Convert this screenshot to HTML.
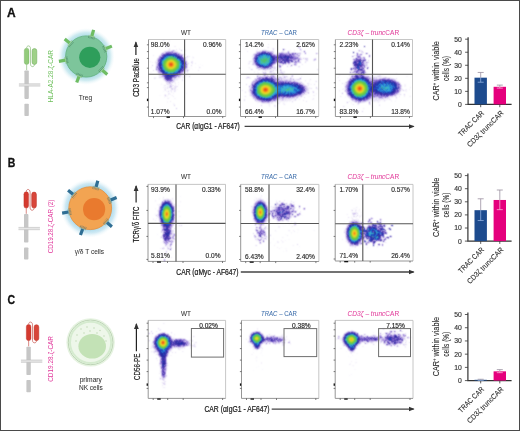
<!DOCTYPE html><html><head><meta charset="utf-8"><style>html,body{margin:0;padding:0;background:#fff;}svg{display:block;will-change:transform;}</style></head><body>
<svg width="520" height="431" viewBox="0 0 520 431" font-family='"Liberation Sans", sans-serif'>
<defs>
<filter id="cmap" x="0" y="0" width="1" height="1" color-interpolation-filters="sRGB"><feConvolveMatrix in="SourceGraphic" order="3" kernelMatrix="0 1 0 1 8 1 0 1 0" divisor="12" edgeMode="duplicate" preserveAlpha="true" result="A"/><feTurbulence type="fractalNoise" baseFrequency="1.25" numOctaves="1" seed="3" result="N0"/><feColorMatrix in="N0" type="matrix" values="1 0 0 0 0 1 0 0 0 0 1 0 0 0 0 0 0 0 0 1" result="N"/><feComponentTransfer in="A" result="G"><feFuncR type="table" tableValues="0.000 0.143 0.270 0.383 0.480 0.562 0.630 0.682 0.720 0.743 0.750 0.600 0.450 0.300 0.150 0.000 0.000 0.000 0.000 0.000 0.000"/><feFuncG type="table" tableValues="0.000 0.143 0.270 0.383 0.480 0.562 0.630 0.682 0.720 0.743 0.750 0.600 0.450 0.300 0.150 0.000 0.000 0.000 0.000 0.000 0.000"/><feFuncB type="table" tableValues="0.000 0.143 0.270 0.383 0.480 0.562 0.630 0.682 0.720 0.743 0.750 0.600 0.450 0.300 0.150 0.000 0.000 0.000 0.000 0.000 0.000"/></feComponentTransfer><feComposite in="G" in2="N" operator="arithmetic" k1="1" k2="-0.5" k3="0" k4="0.5" result="S"/><feComposite in="A" in2="S" operator="arithmetic" k1="0" k2="1" k3="1" k4="-0.504" result="V"/><feComponentTransfer in="V"><feFuncR type="table" tableValues="1.000 0.892 0.773 0.652 0.543 0.438 0.333 0.284 0.235 0.186 0.137 0.132 0.127 0.123 0.118 0.127 0.137 0.147 0.157 0.172 0.186 0.201 0.216 0.237 0.258 0.278 0.297 0.315 0.333 0.373 0.412 0.451 0.490 0.623 0.756 0.873 0.922 0.959 0.952 0.924 0.882"/><feFuncG type="table" tableValues="1.000 0.866 0.715 0.560 0.445 0.340 0.235 0.211 0.186 0.162 0.137 0.176 0.216 0.255 0.294 0.353 0.412 0.471 0.529 0.574 0.618 0.662 0.706 0.720 0.734 0.746 0.752 0.759 0.765 0.775 0.784 0.794 0.804 0.825 0.846 0.855 0.816 0.745 0.549 0.346 0.137"/><feFuncB type="table" tableValues="1.000 0.958 0.915 0.871 0.818 0.762 0.706 0.681 0.657 0.632 0.608 0.647 0.686 0.725 0.765 0.789 0.814 0.838 0.863 0.858 0.853 0.848 0.843 0.766 0.689 0.609 0.517 0.425 0.333 0.309 0.284 0.260 0.235 0.207 0.179 0.153 0.133 0.118 0.118 0.110 0.098"/><feFuncA type="linear" slope="0" intercept="1"/></feComponentTransfer><feConvolveMatrix order="3" kernelMatrix="1 2 1 2 6 2 1 2 1" divisor="18" edgeMode="duplicate" preserveAlpha="true"/></filter>
<radialGradient id="cone"><stop offset="0.000" stop-color="#fff" stop-opacity="1.000"/><stop offset="0.021" stop-color="#fff" stop-opacity="0.992"/><stop offset="0.042" stop-color="#fff" stop-opacity="0.984"/><stop offset="0.062" stop-color="#fff" stop-opacity="0.977"/><stop offset="0.083" stop-color="#fff" stop-opacity="0.969"/><stop offset="0.104" stop-color="#fff" stop-opacity="0.961"/><stop offset="0.125" stop-color="#fff" stop-opacity="0.950"/><stop offset="0.146" stop-color="#fff" stop-opacity="0.938"/><stop offset="0.167" stop-color="#fff" stop-opacity="0.927"/><stop offset="0.188" stop-color="#fff" stop-opacity="0.915"/><stop offset="0.208" stop-color="#fff" stop-opacity="0.903"/><stop offset="0.229" stop-color="#fff" stop-opacity="0.889"/><stop offset="0.250" stop-color="#fff" stop-opacity="0.873"/><stop offset="0.271" stop-color="#fff" stop-opacity="0.858"/><stop offset="0.292" stop-color="#fff" stop-opacity="0.842"/><stop offset="0.312" stop-color="#fff" stop-opacity="0.827"/><stop offset="0.333" stop-color="#fff" stop-opacity="0.810"/><stop offset="0.354" stop-color="#fff" stop-opacity="0.792"/><stop offset="0.375" stop-color="#fff" stop-opacity="0.775"/><stop offset="0.396" stop-color="#fff" stop-opacity="0.758"/><stop offset="0.417" stop-color="#fff" stop-opacity="0.740"/><stop offset="0.438" stop-color="#fff" stop-opacity="0.719"/><stop offset="0.458" stop-color="#fff" stop-opacity="0.693"/><stop offset="0.479" stop-color="#fff" stop-opacity="0.666"/><stop offset="0.500" stop-color="#fff" stop-opacity="0.640"/><stop offset="0.521" stop-color="#fff" stop-opacity="0.582"/><stop offset="0.542" stop-color="#fff" stop-opacity="0.523"/><stop offset="0.562" stop-color="#fff" stop-opacity="0.459"/><stop offset="0.583" stop-color="#fff" stop-opacity="0.391"/><stop offset="0.604" stop-color="#fff" stop-opacity="0.342"/><stop offset="0.625" stop-color="#fff" stop-opacity="0.310"/><stop offset="0.646" stop-color="#fff" stop-opacity="0.278"/><stop offset="0.667" stop-color="#fff" stop-opacity="0.247"/><stop offset="0.688" stop-color="#fff" stop-opacity="0.218"/><stop offset="0.708" stop-color="#fff" stop-opacity="0.188"/><stop offset="0.729" stop-color="#fff" stop-opacity="0.161"/><stop offset="0.750" stop-color="#fff" stop-opacity="0.135"/><stop offset="0.771" stop-color="#fff" stop-opacity="0.109"/><stop offset="0.792" stop-color="#fff" stop-opacity="0.087"/><stop offset="0.812" stop-color="#fff" stop-opacity="0.075"/><stop offset="0.833" stop-color="#fff" stop-opacity="0.063"/><stop offset="0.854" stop-color="#fff" stop-opacity="0.052"/><stop offset="0.875" stop-color="#fff" stop-opacity="0.040"/><stop offset="0.896" stop-color="#fff" stop-opacity="0.029"/><stop offset="0.917" stop-color="#fff" stop-opacity="0.023"/><stop offset="0.938" stop-color="#fff" stop-opacity="0.017"/><stop offset="0.958" stop-color="#fff" stop-opacity="0.012"/><stop offset="0.979" stop-color="#fff" stop-opacity="0.006"/><stop offset="1.000" stop-color="#fff" stop-opacity="0.000"/></radialGradient>
<radialGradient id="soft"><stop offset="0.000" stop-color="#fff" stop-opacity="1.000"/><stop offset="0.036" stop-color="#fff" stop-opacity="0.994"/><stop offset="0.071" stop-color="#fff" stop-opacity="0.980"/><stop offset="0.107" stop-color="#fff" stop-opacity="0.960"/><stop offset="0.143" stop-color="#fff" stop-opacity="0.935"/><stop offset="0.179" stop-color="#fff" stop-opacity="0.905"/><stop offset="0.214" stop-color="#fff" stop-opacity="0.871"/><stop offset="0.250" stop-color="#fff" stop-opacity="0.832"/><stop offset="0.286" stop-color="#fff" stop-opacity="0.789"/><stop offset="0.321" stop-color="#fff" stop-opacity="0.743"/><stop offset="0.357" stop-color="#fff" stop-opacity="0.692"/><stop offset="0.393" stop-color="#fff" stop-opacity="0.638"/><stop offset="0.429" stop-color="#fff" stop-opacity="0.580"/><stop offset="0.464" stop-color="#fff" stop-opacity="0.519"/><stop offset="0.500" stop-color="#fff" stop-opacity="0.455"/><stop offset="0.536" stop-color="#fff" stop-opacity="0.387"/><stop offset="0.571" stop-color="#fff" stop-opacity="0.316"/><stop offset="0.607" stop-color="#fff" stop-opacity="0.241"/><stop offset="0.643" stop-color="#fff" stop-opacity="0.192"/><stop offset="0.679" stop-color="#fff" stop-opacity="0.146"/><stop offset="0.714" stop-color="#fff" stop-opacity="0.104"/><stop offset="0.750" stop-color="#fff" stop-opacity="0.068"/><stop offset="0.786" stop-color="#fff" stop-opacity="0.037"/><stop offset="0.821" stop-color="#fff" stop-opacity="0.013"/><stop offset="0.857" stop-color="#fff" stop-opacity="0.000"/><stop offset="0.893" stop-color="#fff" stop-opacity="0.000"/><stop offset="0.929" stop-color="#fff" stop-opacity="0.000"/><stop offset="0.964" stop-color="#fff" stop-opacity="0.000"/><stop offset="1.000" stop-color="#fff" stop-opacity="0.000"/></radialGradient>
<radialGradient id="gau"><stop offset="0.00" stop-color="#fff" stop-opacity="1.000"/><stop offset="0.10" stop-color="#fff" stop-opacity="0.956"/><stop offset="0.20" stop-color="#fff" stop-opacity="0.835"/><stop offset="0.30" stop-color="#fff" stop-opacity="0.667"/><stop offset="0.40" stop-color="#fff" stop-opacity="0.487"/><stop offset="0.50" stop-color="#fff" stop-opacity="0.325"/><stop offset="0.60" stop-color="#fff" stop-opacity="0.198"/><stop offset="0.70" stop-color="#fff" stop-opacity="0.110"/><stop offset="0.80" stop-color="#fff" stop-opacity="0.056"/><stop offset="0.90" stop-color="#fff" stop-opacity="0.026"/><stop offset="1.00" stop-color="#fff" stop-opacity="0.000"/></radialGradient>
<radialGradient id="glowB"><stop offset="0.7" stop-color="#a8d9ec" stop-opacity="1"/><stop offset="0.84" stop-color="#c8e6f2" stop-opacity="0.9"/><stop offset="1" stop-color="#eef8fb" stop-opacity="0"/></radialGradient>
<radialGradient id="glowA"><stop offset="0.7" stop-color="#a9dbe4" stop-opacity="1"/><stop offset="0.84" stop-color="#c8e8ef" stop-opacity="0.9"/><stop offset="1" stop-color="#eef8fb" stop-opacity="0"/></radialGradient>
<marker id="arr" viewBox="0 0 6 6" refX="5" refY="3" markerWidth="6" markerHeight="6" orient="auto" markerUnits="userSpaceOnUse"><path d="M0,0.6 L6,3 L0,5.4 z" fill="#333"/></marker>
</defs>
<rect x="0" y="0" width="520" height="431" fill="#fff"/>
<g filter="url(#cmap)"><rect x="148.5" y="39.5" width="77.19999999999999" height="77.0" fill="#000"/>
<svg x="148.5" y="39.5" width="77.19999999999999" height="77.0" viewBox="148.5 39.5 77.19999999999999 77.0" overflow="hidden">
<path d="M191.2 65.1h.8v.8h-.8zM202.3 65.6h.8v.8h-.8zM191.9 56.7h.8v.8h-.8zM184.8 63.4h.8v.8h-.8zM186.5 67.4h.8v.8h-.8zM192.6 63.5h.8v.8h-.8zM197.7 65.5h.8v.8h-.8zM189.0 56.3h.8v.8h-.8zM193.0 57.4h.8v.8h-.8zM188.4 61.8h.8v.8h-.8zM182.6 69.4h.8v.8h-.8zM185.5 53.9h.8v.8h-.8zM188.1 63.2h.8v.8h-.8zM185.6 71.1h.8v.8h-.8zM195.0 63.2h.8v.8h-.8zM184.2 54.2h.8v.8h-.8zM175.4 56.1h.8v.8h-.8zM184.9 61.6h.8v.8h-.8zM192.0 61.6h.8v.8h-.8zM194.6 67.5h.8v.8h-.8zM169.6 63.9h.8v.8h-.8zM184.1 59.6h.8v.8h-.8zM199.4 58.4h.8v.8h-.8zM180.4 66.4h.8v.8h-.8zM189.3 66.8h.8v.8h-.8zM179.0 70.1h.8v.8h-.8zM190.9 62.1h.8v.8h-.8zM184.9 66.6h.8v.8h-.8zM192.4 59.0h.8v.8h-.8zM191.1 67.7h.8v.8h-.8zM185.3 61.8h.8v.8h-.8zM182.2 57.0h.8v.8h-.8zM186.9 71.3h.8v.8h-.8zM185.3 49.6h.8v.8h-.8zM183.6 60.2h.8v.8h-.8zM186.2 65.9h.8v.8h-.8zM192.5 69.3h.8v.8h-.8zM175.1 72.5h.8v.8h-.8zM187.3 57.7h.8v.8h-.8zM198.2 70.0h.8v.8h-.8zM189.6 67.8h.8v.8h-.8zM199.7 63.8h.8v.8h-.8zM185.5 57.5h.8v.8h-.8zM184.8 63.6h.8v.8h-.8zM192.5 63.1h.8v.8h-.8zM185.6 56.7h.8v.8h-.8zM193.1 56.9h.8v.8h-.8zM184.3 56.5h.8v.8h-.8zM183.8 64.6h.8v.8h-.8zM191.5 60.7h.8v.8h-.8z" fill="#fff" fill-opacity="0.05"/>
<path d="M173.2 81.0h.8v.8h-.8zM167.2 76.0h.8v.8h-.8zM175.8 86.4h.8v.8h-.8zM176.2 64.4h.8v.8h-.8zM170.1 84.5h.8v.8h-.8zM173.7 88.1h.8v.8h-.8zM163.7 78.9h.8v.8h-.8zM165.4 95.6h.8v.8h-.8zM175.3 90.6h.8v.8h-.8zM163.7 96.9h.8v.8h-.8zM167.1 95.7h.8v.8h-.8zM174.0 85.6h.8v.8h-.8zM171.0 84.5h.8v.8h-.8zM170.5 81.3h.8v.8h-.8zM169.9 66.9h.8v.8h-.8zM167.6 89.5h.8v.8h-.8zM169.5 96.7h.8v.8h-.8zM173.0 80.9h.8v.8h-.8zM172.9 84.9h.8v.8h-.8zM169.0 75.3h.8v.8h-.8zM172.2 66.8h.8v.8h-.8zM173.1 90.9h.8v.8h-.8zM172.1 71.6h.8v.8h-.8zM167.2 79.6h.8v.8h-.8zM163.2 87.4h.8v.8h-.8zM166.0 83.4h.8v.8h-.8zM170.0 86.9h.8v.8h-.8zM165.0 85.2h.8v.8h-.8zM178.2 81.9h.8v.8h-.8zM169.8 87.3h.8v.8h-.8zM159.5 95.4h.8v.8h-.8zM171.0 87.8h.8v.8h-.8zM165.6 75.8h.8v.8h-.8zM170.6 77.4h.8v.8h-.8zM166.5 80.8h.8v.8h-.8zM170.9 89.7h.8v.8h-.8zM170.3 90.5h.8v.8h-.8zM168.1 91.1h.8v.8h-.8zM167.1 83.7h.8v.8h-.8zM163.0 63.8h.8v.8h-.8zM178.3 84.5h.8v.8h-.8zM174.8 69.1h.8v.8h-.8zM172.1 79.9h.8v.8h-.8zM174.0 104.0h.8v.8h-.8zM173.5 80.7h.8v.8h-.8zM167.1 86.0h.8v.8h-.8zM174.2 90.6h.8v.8h-.8zM170.8 91.5h.8v.8h-.8zM186.3 93.3h.8v.8h-.8zM165.3 77.2h.8v.8h-.8zM172.9 70.4h.8v.8h-.8zM168.9 79.4h.8v.8h-.8zM170.9 85.0h.8v.8h-.8zM168.6 83.1h.8v.8h-.8zM171.7 72.7h.8v.8h-.8zM168.9 81.3h.8v.8h-.8zM167.5 87.8h.8v.8h-.8zM167.9 76.8h.8v.8h-.8zM168.0 93.6h.8v.8h-.8zM169.3 84.8h.8v.8h-.8zM167.5 77.7h.8v.8h-.8zM170.1 84.8h.8v.8h-.8zM163.4 90.8h.8v.8h-.8zM166.6 80.4h.8v.8h-.8zM170.9 85.9h.8v.8h-.8zM164.4 70.4h.8v.8h-.8zM161.8 75.9h.8v.8h-.8zM172.0 89.2h.8v.8h-.8zM171.7 82.3h.8v.8h-.8zM170.2 69.8h.8v.8h-.8zM167.6 98.5h.8v.8h-.8zM174.5 82.6h.8v.8h-.8zM165.6 76.9h.8v.8h-.8zM174.6 77.7h.8v.8h-.8zM165.0 71.8h.8v.8h-.8zM168.0 80.5h.8v.8h-.8zM171.1 89.1h.8v.8h-.8zM172.2 82.2h.8v.8h-.8zM172.2 88.2h.8v.8h-.8zM175.0 86.6h.8v.8h-.8zM168.3 77.8h.8v.8h-.8zM165.9 78.1h.8v.8h-.8zM168.0 78.5h.8v.8h-.8zM164.8 89.3h.8v.8h-.8zM167.5 83.9h.8v.8h-.8zM166.6 77.7h.8v.8h-.8zM164.8 87.6h.8v.8h-.8zM173.8 71.5h.8v.8h-.8zM171.6 86.6h.8v.8h-.8zM165.2 94.8h.8v.8h-.8zM172.0 85.1h.8v.8h-.8zM170.8 74.6h.8v.8h-.8zM170.1 67.0h.8v.8h-.8zM171.5 84.5h.8v.8h-.8zM173.9 105.2h.8v.8h-.8zM168.3 98.2h.8v.8h-.8zM167.5 72.2h.8v.8h-.8zM173.4 87.0h.8v.8h-.8zM174.6 98.3h.8v.8h-.8zM173.7 79.0h.8v.8h-.8zM161.0 83.7h.8v.8h-.8zM165.4 78.0h.8v.8h-.8zM169.5 86.0h.8v.8h-.8zM165.3 90.5h.8v.8h-.8zM166.4 68.6h.8v.8h-.8zM170.8 77.9h.8v.8h-.8zM167.5 78.3h.8v.8h-.8zM165.0 80.4h.8v.8h-.8zM169.9 93.9h.8v.8h-.8zM169.7 76.3h.8v.8h-.8zM175.2 83.4h.8v.8h-.8zM169.2 86.9h.8v.8h-.8zM172.9 95.8h.8v.8h-.8zM168.6 93.2h.8v.8h-.8zM162.6 66.3h.8v.8h-.8zM169.3 70.8h.8v.8h-.8zM173.3 92.9h.8v.8h-.8zM166.7 87.8h.8v.8h-.8zM171.9 88.2h.8v.8h-.8zM170.3 84.1h.8v.8h-.8zM168.4 93.2h.8v.8h-.8zM167.1 87.5h.8v.8h-.8zM171.6 94.7h.8v.8h-.8zM170.4 85.1h.8v.8h-.8zM168.8 75.6h.8v.8h-.8zM164.8 71.6h.8v.8h-.8zM167.4 87.6h.8v.8h-.8zM177.0 89.1h.8v.8h-.8zM165.6 78.1h.8v.8h-.8zM170.1 101.3h.8v.8h-.8zM170.8 84.7h.8v.8h-.8zM170.1 86.8h.8v.8h-.8zM175.0 84.8h.8v.8h-.8zM171.7 88.2h.8v.8h-.8zM171.0 79.4h.8v.8h-.8zM175.2 88.4h.8v.8h-.8zM169.9 83.1h.8v.8h-.8zM169.9 75.1h.8v.8h-.8zM176.1 108.1h.8v.8h-.8zM170.1 86.2h.8v.8h-.8zM177.1 72.5h.8v.8h-.8zM169.2 77.9h.8v.8h-.8zM166.5 67.6h.8v.8h-.8zM167.4 101.6h.8v.8h-.8zM174.1 88.9h.8v.8h-.8zM169.8 89.9h.8v.8h-.8zM176.2 79.5h.8v.8h-.8zM171.4 91.4h.8v.8h-.8zM164.3 94.7h.8v.8h-.8zM165.2 85.7h.8v.8h-.8zM172.7 77.3h.8v.8h-.8zM166.9 81.1h.8v.8h-.8zM165.9 90.7h.8v.8h-.8zM170.6 85.5h.8v.8h-.8zM168.3 80.7h.8v.8h-.8zM169.7 82.1h.8v.8h-.8zM168.0 73.4h.8v.8h-.8zM169.9 81.1h.8v.8h-.8zM173.1 102.9h.8v.8h-.8zM174.9 74.8h.8v.8h-.8z" fill="#fff" fill-opacity="0.06"/>
<path d="M168.2 69.6h.8v.8h-.8zM180.5 69.9h.8v.8h-.8zM153.4 55.2h.8v.8h-.8zM179.8 67.2h.8v.8h-.8zM171.2 76.4h.8v.8h-.8zM172.6 60.9h.8v.8h-.8zM162.4 56.3h.8v.8h-.8zM162.5 60.8h.8v.8h-.8zM187.5 70.1h.8v.8h-.8zM160.7 70.5h.8v.8h-.8zM157.8 60.0h.8v.8h-.8zM159.3 58.7h.8v.8h-.8zM182.1 73.2h.8v.8h-.8zM162.8 57.8h.8v.8h-.8zM172.2 55.1h.8v.8h-.8zM166.1 70.2h.8v.8h-.8zM168.4 58.6h.8v.8h-.8zM152.4 62.1h.8v.8h-.8zM164.5 89.5h.8v.8h-.8zM165.1 64.6h.8v.8h-.8zM176.5 73.5h.8v.8h-.8zM174.0 64.1h.8v.8h-.8zM166.0 72.1h.8v.8h-.8zM161.8 60.2h.8v.8h-.8zM180.1 61.5h.8v.8h-.8zM183.5 70.2h.8v.8h-.8zM168.6 73.7h.8v.8h-.8zM180.4 66.4h.8v.8h-.8zM162.4 58.3h.8v.8h-.8zM171.0 60.3h.8v.8h-.8zM154.4 77.0h.8v.8h-.8zM179.1 69.8h.8v.8h-.8zM182.9 53.9h.8v.8h-.8zM163.4 39.6h.8v.8h-.8zM175.5 63.6h.8v.8h-.8zM178.2 75.7h.8v.8h-.8zM158.5 66.1h.8v.8h-.8zM169.5 69.9h.8v.8h-.8zM164.4 60.0h.8v.8h-.8zM166.5 54.9h.8v.8h-.8zM153.0 69.9h.8v.8h-.8zM163.3 70.4h.8v.8h-.8zM168.4 62.6h.8v.8h-.8zM180.2 64.1h.8v.8h-.8zM168.9 67.5h.8v.8h-.8zM160.3 60.5h.8v.8h-.8zM167.9 62.7h.8v.8h-.8zM166.7 61.6h.8v.8h-.8zM182.2 61.6h.8v.8h-.8zM183.0 77.2h.8v.8h-.8zM162.8 66.0h.8v.8h-.8zM177.1 69.9h.8v.8h-.8zM156.8 66.8h.8v.8h-.8zM176.7 86.3h.8v.8h-.8zM177.3 74.0h.8v.8h-.8zM170.9 57.4h.8v.8h-.8zM168.2 58.4h.8v.8h-.8zM177.6 60.4h.8v.8h-.8zM155.2 61.8h.8v.8h-.8zM162.4 55.6h.8v.8h-.8zM176.2 49.4h.8v.8h-.8zM173.7 75.0h.8v.8h-.8zM186.4 64.0h.8v.8h-.8zM169.7 78.8h.8v.8h-.8zM150.5 71.9h.8v.8h-.8zM178.7 62.6h.8v.8h-.8zM178.6 71.1h.8v.8h-.8zM174.1 77.1h.8v.8h-.8zM157.5 66.7h.8v.8h-.8zM172.8 61.1h.8v.8h-.8zM173.5 50.3h.8v.8h-.8zM177.9 58.8h.8v.8h-.8zM189.1 76.3h.8v.8h-.8zM156.1 68.4h.8v.8h-.8zM169.6 59.6h.8v.8h-.8zM182.4 67.1h.8v.8h-.8zM172.3 60.3h.8v.8h-.8zM165.9 58.0h.8v.8h-.8zM186.5 67.2h.8v.8h-.8zM149.8 61.5h.8v.8h-.8zM176.4 64.5h.8v.8h-.8zM176.6 66.1h.8v.8h-.8zM171.2 57.0h.8v.8h-.8zM172.1 62.2h.8v.8h-.8zM181.1 57.0h.8v.8h-.8zM179.1 48.7h.8v.8h-.8zM159.8 62.8h.8v.8h-.8zM181.4 53.8h.8v.8h-.8zM171.3 59.9h.8v.8h-.8zM156.2 67.4h.8v.8h-.8zM165.5 74.7h.8v.8h-.8zM171.4 60.8h.8v.8h-.8zM170.6 72.2h.8v.8h-.8zM159.0 64.4h.8v.8h-.8zM158.9 69.3h.8v.8h-.8zM167.0 55.8h.8v.8h-.8zM163.7 64.7h.8v.8h-.8zM187.3 56.1h.8v.8h-.8zM173.1 60.9h.8v.8h-.8zM164.4 69.9h.8v.8h-.8zM164.9 67.7h.8v.8h-.8zM174.6 46.2h.8v.8h-.8zM182.5 60.2h.8v.8h-.8zM182.1 79.6h.8v.8h-.8zM174.7 86.8h.8v.8h-.8zM174.5 61.5h.8v.8h-.8zM175.6 73.1h.8v.8h-.8zM167.3 70.0h.8v.8h-.8zM177.7 69.7h.8v.8h-.8zM161.4 61.8h.8v.8h-.8zM162.4 72.2h.8v.8h-.8zM167.2 64.7h.8v.8h-.8zM174.7 64.3h.8v.8h-.8zM167.8 84.4h.8v.8h-.8zM169.9 69.7h.8v.8h-.8zM178.4 54.0h.8v.8h-.8zM161.2 71.2h.8v.8h-.8zM169.3 61.3h.8v.8h-.8zM172.3 59.5h.8v.8h-.8zM170.3 66.6h.8v.8h-.8zM171.7 61.4h.8v.8h-.8zM186.9 72.3h.8v.8h-.8zM199.4 67.1h.8v.8h-.8zM176.9 61.8h.8v.8h-.8zM184.1 68.8h.8v.8h-.8zM177.4 63.7h.8v.8h-.8zM172.8 72.4h.8v.8h-.8zM164.5 63.8h.8v.8h-.8zM164.9 65.0h.8v.8h-.8zM172.2 65.4h.8v.8h-.8zM163.8 64.4h.8v.8h-.8zM183.6 75.3h.8v.8h-.8zM164.2 55.6h.8v.8h-.8zM178.1 63.6h.8v.8h-.8zM178.7 64.1h.8v.8h-.8zM163.6 69.7h.8v.8h-.8zM171.3 63.7h.8v.8h-.8zM167.7 66.3h.8v.8h-.8zM179.7 55.3h.8v.8h-.8zM159.3 57.0h.8v.8h-.8zM165.4 66.3h.8v.8h-.8zM179.1 65.2h.8v.8h-.8zM181.7 63.1h.8v.8h-.8zM188.7 69.0h.8v.8h-.8zM170.2 65.3h.8v.8h-.8zM176.8 68.7h.8v.8h-.8zM170.7 80.6h.8v.8h-.8zM170.2 68.9h.8v.8h-.8zM162.8 60.3h.8v.8h-.8zM168.3 71.2h.8v.8h-.8zM162.7 53.1h.8v.8h-.8zM171.8 50.7h.8v.8h-.8zM179.0 76.7h.8v.8h-.8zM187.0 69.6h.8v.8h-.8zM168.8 48.6h.8v.8h-.8zM183.2 56.9h.8v.8h-.8zM176.0 54.4h.8v.8h-.8zM172.8 66.3h.8v.8h-.8zM179.0 62.8h.8v.8h-.8zM158.7 60.5h.8v.8h-.8zM169.8 65.0h.8v.8h-.8zM170.4 54.4h.8v.8h-.8zM168.7 62.2h.8v.8h-.8zM170.5 68.5h.8v.8h-.8zM171.9 80.1h.8v.8h-.8zM168.9 40.5h.8v.8h-.8zM172.5 62.0h.8v.8h-.8zM171.8 52.6h.8v.8h-.8zM175.0 67.4h.8v.8h-.8zM162.5 53.7h.8v.8h-.8zM173.7 65.2h.8v.8h-.8zM174.6 64.3h.8v.8h-.8zM167.1 58.3h.8v.8h-.8zM160.7 67.2h.8v.8h-.8zM181.8 64.5h.8v.8h-.8zM191.4 62.1h.8v.8h-.8zM169.6 68.5h.8v.8h-.8zM179.4 64.7h.8v.8h-.8zM174.0 66.8h.8v.8h-.8zM175.1 63.6h.8v.8h-.8zM181.1 55.8h.8v.8h-.8zM152.1 65.2h.8v.8h-.8zM171.3 65.1h.8v.8h-.8zM166.7 56.7h.8v.8h-.8zM162.9 69.4h.8v.8h-.8zM170.8 64.6h.8v.8h-.8zM172.9 61.1h.8v.8h-.8zM166.0 46.1h.8v.8h-.8zM170.4 68.3h.8v.8h-.8zM182.5 64.9h.8v.8h-.8zM184.0 58.2h.8v.8h-.8zM169.9 67.9h.8v.8h-.8zM167.1 61.2h.8v.8h-.8zM163.3 68.1h.8v.8h-.8zM172.6 55.7h.8v.8h-.8zM175.3 53.2h.8v.8h-.8zM170.0 62.2h.8v.8h-.8zM156.2 69.6h.8v.8h-.8zM150.7 66.8h.8v.8h-.8zM174.9 73.2h.8v.8h-.8zM166.1 79.1h.8v.8h-.8zM165.0 68.7h.8v.8h-.8zM162.1 61.8h.8v.8h-.8zM168.3 62.2h.8v.8h-.8zM161.1 61.9h.8v.8h-.8zM180.3 64.8h.8v.8h-.8zM164.1 63.0h.8v.8h-.8zM168.4 68.3h.8v.8h-.8zM159.4 77.1h.8v.8h-.8zM181.9 55.3h.8v.8h-.8zM159.5 75.0h.8v.8h-.8zM164.7 70.7h.8v.8h-.8zM158.7 65.1h.8v.8h-.8zM178.0 72.6h.8v.8h-.8zM186.5 75.5h.8v.8h-.8zM162.6 70.8h.8v.8h-.8zM181.1 50.1h.8v.8h-.8zM177.1 71.8h.8v.8h-.8zM180.7 62.9h.8v.8h-.8zM154.5 78.0h.8v.8h-.8zM177.2 63.8h.8v.8h-.8zM171.3 70.1h.8v.8h-.8zM183.9 59.8h.8v.8h-.8zM183.9 72.9h.8v.8h-.8zM171.8 58.6h.8v.8h-.8zM165.8 58.9h.8v.8h-.8zM162.8 57.1h.8v.8h-.8zM169.1 60.8h.8v.8h-.8zM163.8 85.5h.8v.8h-.8zM165.6 69.1h.8v.8h-.8zM178.1 65.5h.8v.8h-.8zM169.1 72.7h.8v.8h-.8zM164.0 66.0h.8v.8h-.8zM179.6 66.7h.8v.8h-.8zM176.1 67.0h.8v.8h-.8zM176.1 68.2h.8v.8h-.8zM176.3 62.1h.8v.8h-.8zM165.7 51.5h.8v.8h-.8zM168.0 59.5h.8v.8h-.8zM169.8 54.4h.8v.8h-.8zM164.5 65.2h.8v.8h-.8zM171.3 71.3h.8v.8h-.8zM180.2 73.0h.8v.8h-.8zM178.8 58.7h.8v.8h-.8zM175.3 63.4h.8v.8h-.8zM172.4 65.7h.8v.8h-.8zM158.3 72.2h.8v.8h-.8zM155.4 77.0h.8v.8h-.8z" fill="#fff" fill-opacity="0.08"/>
<ellipse cx="171" cy="67" rx="21.00" ry="20.30" transform="rotate(0 171 67)" fill="url(#soft)" opacity="0.1"/>
<ellipse cx="168.5" cy="77" rx="7.00" ry="8.40" transform="rotate(0 168.5 77)" fill="url(#soft)" opacity="0.14"/>
<ellipse cx="181" cy="64" rx="9.80" ry="11.20" transform="rotate(0 181 64)" fill="url(#soft)" opacity="0.14"/>
<ellipse cx="171" cy="64.5" rx="15.82" ry="15.12" transform="rotate(0 171 64.5)" fill="url(#cone)" opacity="1.0"/>
</svg></g>
<g filter="url(#cmap)"><rect x="240.5" y="39.5" width="78.19999999999999" height="77.0" fill="#000"/>
<svg x="240.5" y="39.5" width="78.19999999999999" height="77.0" viewBox="240.5 39.5 78.19999999999999 77.0" overflow="hidden">
<path d="M282.8 52.9h.8v.8h-.8zM293.9 50.9h.8v.8h-.8zM287.0 62.2h.8v.8h-.8zM279.7 61.7h.8v.8h-.8zM284.3 60.4h.8v.8h-.8zM290.5 48.7h.8v.8h-.8zM293.8 50.3h.8v.8h-.8zM297.9 55.2h.8v.8h-.8zM282.1 55.9h.8v.8h-.8zM291.5 56.1h.8v.8h-.8zM287.7 55.7h.8v.8h-.8zM280.5 55.7h.8v.8h-.8zM273.3 61.5h.8v.8h-.8zM304.4 51.7h.8v.8h-.8zM285.8 58.2h.8v.8h-.8zM281.6 51.8h.8v.8h-.8zM290.8 61.1h.8v.8h-.8zM292.0 53.7h.8v.8h-.8zM297.8 59.9h.8v.8h-.8zM269.7 68.2h.8v.8h-.8zM286.5 57.5h.8v.8h-.8zM282.2 63.7h.8v.8h-.8zM294.9 56.0h.8v.8h-.8zM278.7 56.1h.8v.8h-.8zM293.6 61.8h.8v.8h-.8zM292.5 53.1h.8v.8h-.8zM290.4 60.8h.8v.8h-.8zM300.9 50.5h.8v.8h-.8zM304.9 59.1h.8v.8h-.8zM280.3 63.0h.8v.8h-.8zM287.2 59.1h.8v.8h-.8zM290.2 56.5h.8v.8h-.8zM283.7 61.7h.8v.8h-.8zM281.3 63.3h.8v.8h-.8zM292.0 64.0h.8v.8h-.8zM286.4 56.9h.8v.8h-.8zM301.9 53.2h.8v.8h-.8zM300.4 57.0h.8v.8h-.8zM280.4 57.2h.8v.8h-.8zM291.1 61.2h.8v.8h-.8zM297.4 58.4h.8v.8h-.8zM292.9 60.2h.8v.8h-.8zM284.2 63.0h.8v.8h-.8zM284.9 56.7h.8v.8h-.8zM290.6 55.4h.8v.8h-.8zM281.0 54.9h.8v.8h-.8zM289.2 59.2h.8v.8h-.8zM309.7 56.4h.8v.8h-.8zM284.5 61.5h.8v.8h-.8zM288.7 63.2h.8v.8h-.8zM285.2 49.3h.8v.8h-.8zM294.1 61.5h.8v.8h-.8zM271.0 50.7h.8v.8h-.8zM287.8 55.9h.8v.8h-.8zM284.7 58.7h.8v.8h-.8zM291.9 51.8h.8v.8h-.8zM296.2 61.0h.8v.8h-.8zM288.4 58.5h.8v.8h-.8zM298.3 52.9h.8v.8h-.8zM272.7 63.0h.8v.8h-.8zM296.4 54.7h.8v.8h-.8zM289.4 57.9h.8v.8h-.8zM297.8 53.0h.8v.8h-.8zM301.8 51.2h.8v.8h-.8zM292.2 59.2h.8v.8h-.8zM287.1 58.8h.8v.8h-.8zM295.2 65.1h.8v.8h-.8zM262.5 53.4h.8v.8h-.8zM296.6 63.3h.8v.8h-.8zM298.1 78.9h.8v.8h-.8zM282.7 72.5h.8v.8h-.8zM256.9 79.7h.8v.8h-.8zM282.1 78.3h.8v.8h-.8zM272.0 71.8h.8v.8h-.8zM260.2 74.4h.8v.8h-.8zM287.3 76.4h.8v.8h-.8zM264.5 69.2h.8v.8h-.8zM274.7 73.6h.8v.8h-.8zM284.2 77.1h.8v.8h-.8zM267.4 78.8h.8v.8h-.8zM284.8 83.5h.8v.8h-.8zM262.9 75.7h.8v.8h-.8zM270.8 72.9h.8v.8h-.8zM261.6 71.6h.8v.8h-.8zM269.7 81.7h.8v.8h-.8zM291.2 80.3h.8v.8h-.8zM271.5 70.2h.8v.8h-.8zM273.3 76.1h.8v.8h-.8zM267.3 70.9h.8v.8h-.8zM256.5 76.5h.8v.8h-.8zM280.3 72.1h.8v.8h-.8zM264.2 76.9h.8v.8h-.8zM263.4 69.0h.8v.8h-.8zM263.5 78.5h.8v.8h-.8zM261.3 76.5h.8v.8h-.8zM260.3 74.0h.8v.8h-.8zM279.6 71.0h.8v.8h-.8zM274.5 66.1h.8v.8h-.8zM268.7 70.8h.8v.8h-.8zM277.9 77.4h.8v.8h-.8zM293.4 74.9h.8v.8h-.8zM275.8 75.4h.8v.8h-.8zM272.5 70.9h.8v.8h-.8zM274.1 69.1h.8v.8h-.8zM275.3 73.4h.8v.8h-.8zM281.8 72.0h.8v.8h-.8zM277.1 71.9h.8v.8h-.8zM282.6 73.5h.8v.8h-.8zM267.5 75.4h.8v.8h-.8zM265.3 75.4h.8v.8h-.8zM277.7 65.8h.8v.8h-.8zM272.3 83.3h.8v.8h-.8zM251.0 69.1h.8v.8h-.8zM287.4 73.9h.8v.8h-.8zM273.2 74.3h.8v.8h-.8zM265.6 75.7h.8v.8h-.8zM270.9 71.6h.8v.8h-.8zM263.1 72.4h.8v.8h-.8zM262.1 71.3h.8v.8h-.8zM281.7 73.3h.8v.8h-.8zM266.9 76.1h.8v.8h-.8z" fill="#fff" fill-opacity="0.04"/>
<path d="M262.6 51.1h.8v.8h-.8zM270.0 53.9h.8v.8h-.8zM259.4 55.4h.8v.8h-.8zM270.3 56.4h.8v.8h-.8zM258.3 64.9h.8v.8h-.8zM274.1 61.9h.8v.8h-.8zM261.1 44.4h.8v.8h-.8zM261.6 59.6h.8v.8h-.8zM253.5 57.4h.8v.8h-.8zM256.0 50.6h.8v.8h-.8zM249.6 68.4h.8v.8h-.8zM269.8 59.7h.8v.8h-.8zM263.6 51.1h.8v.8h-.8zM264.9 66.4h.8v.8h-.8zM272.8 60.6h.8v.8h-.8zM257.2 53.0h.8v.8h-.8zM269.9 63.5h.8v.8h-.8zM273.5 57.1h.8v.8h-.8zM284.1 59.4h.8v.8h-.8zM265.9 63.3h.8v.8h-.8zM268.9 51.4h.8v.8h-.8zM257.5 51.9h.8v.8h-.8zM258.5 67.4h.8v.8h-.8zM258.9 61.1h.8v.8h-.8zM266.6 52.8h.8v.8h-.8zM264.2 66.3h.8v.8h-.8zM276.2 58.9h.8v.8h-.8zM277.0 60.2h.8v.8h-.8zM258.1 67.4h.8v.8h-.8zM257.1 60.9h.8v.8h-.8zM261.2 54.8h.8v.8h-.8zM266.6 58.2h.8v.8h-.8zM265.9 56.5h.8v.8h-.8zM264.1 59.2h.8v.8h-.8zM265.7 62.4h.8v.8h-.8zM265.0 63.0h.8v.8h-.8zM267.9 56.7h.8v.8h-.8zM262.5 63.1h.8v.8h-.8zM266.2 56.2h.8v.8h-.8zM257.2 48.0h.8v.8h-.8zM268.7 69.4h.8v.8h-.8zM264.6 53.0h.8v.8h-.8zM259.5 58.3h.8v.8h-.8zM269.0 53.5h.8v.8h-.8zM248.8 61.4h.8v.8h-.8zM265.1 63.9h.8v.8h-.8zM268.5 64.8h.8v.8h-.8zM257.7 49.3h.8v.8h-.8zM262.9 56.3h.8v.8h-.8zM263.8 58.8h.8v.8h-.8zM257.9 46.3h.8v.8h-.8zM266.2 57.3h.8v.8h-.8zM249.1 61.3h.8v.8h-.8zM266.8 66.6h.8v.8h-.8zM257.1 71.0h.8v.8h-.8zM257.9 69.5h.8v.8h-.8zM263.5 65.8h.8v.8h-.8zM251.8 55.9h.8v.8h-.8zM259.6 66.0h.8v.8h-.8zM259.0 59.9h.8v.8h-.8zM275.8 58.5h.8v.8h-.8zM261.8 65.0h.8v.8h-.8zM279.0 72.5h.8v.8h-.8zM265.5 58.2h.8v.8h-.8zM262.7 59.4h.8v.8h-.8zM266.8 61.3h.8v.8h-.8zM256.5 54.0h.8v.8h-.8zM257.2 53.9h.8v.8h-.8zM267.6 69.4h.8v.8h-.8zM261.7 57.2h.8v.8h-.8zM270.3 55.0h.8v.8h-.8zM274.4 55.1h.8v.8h-.8zM267.8 57.4h.8v.8h-.8zM259.6 58.1h.8v.8h-.8zM265.8 61.6h.8v.8h-.8zM255.3 63.9h.8v.8h-.8zM255.9 60.1h.8v.8h-.8zM266.2 53.3h.8v.8h-.8zM263.8 60.4h.8v.8h-.8zM245.3 48.6h.8v.8h-.8zM257.4 61.0h.8v.8h-.8zM272.4 63.7h.8v.8h-.8zM259.5 55.1h.8v.8h-.8zM263.5 57.0h.8v.8h-.8zM265.8 63.2h.8v.8h-.8zM276.9 61.2h.8v.8h-.8zM253.2 63.3h.8v.8h-.8zM256.7 68.0h.8v.8h-.8zM264.6 57.3h.8v.8h-.8zM248.1 63.7h.8v.8h-.8zM267.1 58.9h.8v.8h-.8zM266.3 60.1h.8v.8h-.8zM260.0 63.6h.8v.8h-.8zM278.7 56.8h.8v.8h-.8zM257.6 74.5h.8v.8h-.8zM260.6 60.7h.8v.8h-.8zM258.0 67.1h.8v.8h-.8zM252.1 61.6h.8v.8h-.8zM277.4 56.1h.8v.8h-.8zM264.3 62.2h.8v.8h-.8zM273.2 52.4h.8v.8h-.8zM270.0 52.3h.8v.8h-.8zM247.3 51.0h.8v.8h-.8zM256.9 66.9h.8v.8h-.8zM267.2 55.0h.8v.8h-.8zM262.4 64.6h.8v.8h-.8zM253.2 53.8h.8v.8h-.8zM264.0 63.5h.8v.8h-.8zM262.8 72.5h.8v.8h-.8zM263.2 62.2h.8v.8h-.8zM266.5 55.8h.8v.8h-.8zM264.1 62.1h.8v.8h-.8zM260.0 61.0h.8v.8h-.8zM264.1 59.5h.8v.8h-.8zM261.9 60.7h.8v.8h-.8zM265.8 55.3h.8v.8h-.8zM271.8 54.8h.8v.8h-.8zM260.0 59.8h.8v.8h-.8zM266.7 63.8h.8v.8h-.8zM258.7 66.4h.8v.8h-.8zM267.7 47.4h.8v.8h-.8zM289.7 66.2h.8v.8h-.8zM269.8 55.3h.8v.8h-.8zM266.0 56.3h.8v.8h-.8zM259.9 66.5h.8v.8h-.8zM269.2 62.5h.8v.8h-.8zM260.6 57.7h.8v.8h-.8zM248.8 67.1h.8v.8h-.8zM264.9 61.8h.8v.8h-.8zM272.3 59.8h.8v.8h-.8zM274.1 62.6h.8v.8h-.8zM250.6 61.0h.8v.8h-.8zM272.0 53.0h.8v.8h-.8zM264.1 57.3h.8v.8h-.8zM255.1 56.3h.8v.8h-.8zM271.0 71.5h.8v.8h-.8zM287.7 55.7h.8v.8h-.8zM273.4 73.7h.8v.8h-.8zM273.9 63.0h.8v.8h-.8zM266.2 58.3h.8v.8h-.8zM268.9 61.2h.8v.8h-.8zM275.5 56.4h.8v.8h-.8zM258.2 56.2h.8v.8h-.8zM257.9 61.1h.8v.8h-.8zM271.1 65.2h.8v.8h-.8zM252.3 64.2h.8v.8h-.8zM248.8 62.9h.8v.8h-.8zM272.8 70.3h.8v.8h-.8zM278.8 54.7h.8v.8h-.8zM268.3 43.9h.8v.8h-.8zM270.8 52.3h.8v.8h-.8zM271.5 59.0h.8v.8h-.8zM254.6 61.3h.8v.8h-.8zM259.0 69.2h.8v.8h-.8zM262.8 52.0h.8v.8h-.8zM261.0 61.4h.8v.8h-.8zM261.3 62.0h.8v.8h-.8zM259.3 57.6h.8v.8h-.8zM264.8 63.1h.8v.8h-.8zM268.0 58.2h.8v.8h-.8zM256.0 51.6h.8v.8h-.8zM251.8 55.5h.8v.8h-.8zM264.8 64.4h.8v.8h-.8zM259.7 62.1h.8v.8h-.8zM268.0 58.7h.8v.8h-.8zM261.2 62.0h.8v.8h-.8zM271.6 67.3h.8v.8h-.8zM267.4 54.4h.8v.8h-.8zM252.6 64.0h.8v.8h-.8zM268.1 66.4h.8v.8h-.8zM266.9 68.3h.8v.8h-.8zM270.0 53.4h.8v.8h-.8zM263.8 55.8h.8v.8h-.8zM272.5 48.0h.8v.8h-.8zM265.3 56.0h.8v.8h-.8zM256.1 53.4h.8v.8h-.8zM260.6 57.8h.8v.8h-.8zM261.8 52.6h.8v.8h-.8zM258.1 59.3h.8v.8h-.8zM273.2 49.1h.8v.8h-.8zM271.5 63.6h.8v.8h-.8zM272.4 67.1h.8v.8h-.8zM270.5 71.3h.8v.8h-.8zM276.4 62.3h.8v.8h-.8zM254.2 71.8h.8v.8h-.8zM273.6 67.1h.8v.8h-.8zM267.7 47.1h.8v.8h-.8zM264.1 63.0h.8v.8h-.8zM263.4 60.5h.8v.8h-.8zM284.5 62.2h.8v.8h-.8zM261.7 57.3h.8v.8h-.8zM265.0 72.0h.8v.8h-.8zM282.0 61.8h.8v.8h-.8zM264.0 72.4h.8v.8h-.8zM253.4 58.5h.8v.8h-.8zM263.0 62.3h.8v.8h-.8zM268.7 60.9h.8v.8h-.8zM254.1 54.3h.8v.8h-.8zM270.5 64.6h.8v.8h-.8zM302.0 87.1h.8v.8h-.8zM284.2 93.2h.8v.8h-.8zM290.1 93.2h.8v.8h-.8zM278.7 89.5h.8v.8h-.8zM292.9 84.8h.8v.8h-.8zM288.3 96.2h.8v.8h-.8zM291.2 85.1h.8v.8h-.8zM288.5 84.1h.8v.8h-.8zM294.6 87.3h.8v.8h-.8zM291.5 87.9h.8v.8h-.8zM273.7 99.9h.8v.8h-.8zM315.8 88.1h.8v.8h-.8zM291.4 81.2h.8v.8h-.8zM300.6 82.0h.8v.8h-.8zM294.8 92.5h.8v.8h-.8zM292.9 84.1h.8v.8h-.8zM279.6 93.3h.8v.8h-.8zM286.5 92.4h.8v.8h-.8zM276.7 88.2h.8v.8h-.8zM298.3 93.2h.8v.8h-.8zM295.0 88.6h.8v.8h-.8zM301.6 83.0h.8v.8h-.8zM278.1 93.6h.8v.8h-.8zM295.0 81.4h.8v.8h-.8zM301.4 96.2h.8v.8h-.8zM265.3 89.5h.8v.8h-.8zM290.0 79.3h.8v.8h-.8zM295.6 87.5h.8v.8h-.8zM283.7 86.6h.8v.8h-.8zM293.2 82.1h.8v.8h-.8zM270.7 82.0h.8v.8h-.8zM306.0 94.1h.8v.8h-.8zM279.2 96.1h.8v.8h-.8zM312.5 99.0h.8v.8h-.8zM307.9 89.7h.8v.8h-.8zM277.6 91.6h.8v.8h-.8zM277.4 85.5h.8v.8h-.8zM312.8 92.0h.8v.8h-.8zM281.0 90.0h.8v.8h-.8zM305.4 88.0h.8v.8h-.8zM295.3 99.1h.8v.8h-.8zM284.6 104.1h.8v.8h-.8zM292.2 92.8h.8v.8h-.8zM287.2 90.4h.8v.8h-.8zM288.5 82.3h.8v.8h-.8zM268.0 98.2h.8v.8h-.8zM294.6 100.4h.8v.8h-.8zM301.2 76.3h.8v.8h-.8zM286.0 86.0h.8v.8h-.8zM279.7 86.8h.8v.8h-.8zM297.0 96.6h.8v.8h-.8zM283.0 92.1h.8v.8h-.8zM313.7 94.9h.8v.8h-.8zM283.6 90.9h.8v.8h-.8zM292.2 85.9h.8v.8h-.8zM290.6 76.1h.8v.8h-.8zM298.5 90.9h.8v.8h-.8zM299.8 82.7h.8v.8h-.8zM275.2 86.8h.8v.8h-.8zM301.2 89.2h.8v.8h-.8zM289.8 81.1h.8v.8h-.8zM308.5 83.6h.8v.8h-.8zM292.6 84.5h.8v.8h-.8zM274.7 98.1h.8v.8h-.8zM317.4 88.8h.8v.8h-.8zM269.0 91.0h.8v.8h-.8zM299.6 84.0h.8v.8h-.8zM282.8 89.3h.8v.8h-.8zM275.3 78.7h.8v.8h-.8zM283.8 76.7h.8v.8h-.8zM293.9 80.8h.8v.8h-.8zM299.7 79.7h.8v.8h-.8zM294.8 91.5h.8v.8h-.8zM312.7 91.2h.8v.8h-.8zM287.5 89.9h.8v.8h-.8zM297.9 85.6h.8v.8h-.8zM273.9 90.3h.8v.8h-.8zM299.1 89.7h.8v.8h-.8zM286.8 91.2h.8v.8h-.8zM303.2 87.5h.8v.8h-.8zM292.1 82.4h.8v.8h-.8zM295.7 86.9h.8v.8h-.8zM288.2 83.4h.8v.8h-.8zM286.3 87.8h.8v.8h-.8zM287.5 88.3h.8v.8h-.8zM298.8 78.5h.8v.8h-.8zM274.5 95.6h.8v.8h-.8zM277.8 82.8h.8v.8h-.8zM292.2 101.5h.8v.8h-.8zM292.1 88.1h.8v.8h-.8zM267.7 97.1h.8v.8h-.8zM291.6 87.9h.8v.8h-.8zM290.4 92.7h.8v.8h-.8zM261.2 91.3h.8v.8h-.8zM299.4 98.7h.8v.8h-.8zM283.1 86.3h.8v.8h-.8zM291.7 89.3h.8v.8h-.8zM270.1 86.0h.8v.8h-.8zM286.2 81.7h.8v.8h-.8zM273.8 91.7h.8v.8h-.8zM313.3 91.1h.8v.8h-.8zM295.8 97.8h.8v.8h-.8zM274.8 75.6h.8v.8h-.8zM280.3 88.0h.8v.8h-.8zM298.6 91.6h.8v.8h-.8zM299.1 91.9h.8v.8h-.8zM291.5 86.4h.8v.8h-.8zM291.2 88.9h.8v.8h-.8zM308.5 91.8h.8v.8h-.8zM277.9 88.7h.8v.8h-.8zM304.9 86.2h.8v.8h-.8zM307.9 85.0h.8v.8h-.8zM310.5 84.0h.8v.8h-.8zM287.9 86.9h.8v.8h-.8zM292.3 87.7h.8v.8h-.8zM273.5 92.6h.8v.8h-.8zM296.4 79.2h.8v.8h-.8zM288.6 91.7h.8v.8h-.8zM306.1 100.9h.8v.8h-.8zM292.8 79.1h.8v.8h-.8zM289.6 93.6h.8v.8h-.8zM280.4 88.3h.8v.8h-.8zM300.4 87.2h.8v.8h-.8zM307.4 83.3h.8v.8h-.8zM308.7 95.8h.8v.8h-.8zM281.3 91.8h.8v.8h-.8zM260.7 86.2h.8v.8h-.8zM292.0 91.3h.8v.8h-.8zM302.4 87.4h.8v.8h-.8zM286.0 86.4h.8v.8h-.8zM288.2 83.8h.8v.8h-.8zM298.5 89.3h.8v.8h-.8zM285.5 87.3h.8v.8h-.8zM291.2 85.3h.8v.8h-.8zM296.1 88.9h.8v.8h-.8zM280.5 83.6h.8v.8h-.8zM282.0 83.3h.8v.8h-.8zM289.6 91.4h.8v.8h-.8zM286.4 89.0h.8v.8h-.8zM294.7 91.6h.8v.8h-.8zM282.5 84.2h.8v.8h-.8zM302.5 86.6h.8v.8h-.8zM290.6 95.0h.8v.8h-.8zM272.8 92.5h.8v.8h-.8zM299.6 84.8h.8v.8h-.8zM292.5 88.3h.8v.8h-.8zM297.4 91.8h.8v.8h-.8zM286.4 85.6h.8v.8h-.8zM293.6 87.7h.8v.8h-.8zM300.6 96.3h.8v.8h-.8zM287.0 86.6h.8v.8h-.8zM268.3 90.7h.8v.8h-.8zM278.1 94.9h.8v.8h-.8zM300.3 91.3h.8v.8h-.8zM294.8 87.2h.8v.8h-.8zM278.4 96.2h.8v.8h-.8zM277.6 96.1h.8v.8h-.8zM281.3 94.5h.8v.8h-.8zM309.3 80.8h.8v.8h-.8zM288.4 94.8h.8v.8h-.8zM292.3 93.1h.8v.8h-.8zM292.9 78.8h.8v.8h-.8zM282.5 84.7h.8v.8h-.8zM307.8 92.0h.8v.8h-.8zM291.3 90.8h.8v.8h-.8zM285.2 89.7h.8v.8h-.8zM296.0 91.0h.8v.8h-.8zM314.3 83.9h.8v.8h-.8zM285.4 90.5h.8v.8h-.8zM289.7 95.4h.8v.8h-.8zM305.1 86.8h.8v.8h-.8zM277.2 89.1h.8v.8h-.8zM268.6 85.2h.8v.8h-.8zM313.2 97.9h.8v.8h-.8zM291.5 92.9h.8v.8h-.8zM292.2 91.7h.8v.8h-.8zM262.6 92.1h.8v.8h-.8zM302.8 92.2h.8v.8h-.8zM299.0 92.1h.8v.8h-.8zM308.0 93.1h.8v.8h-.8zM283.5 89.9h.8v.8h-.8zM275.7 82.3h.8v.8h-.8zM279.7 82.9h.8v.8h-.8zM282.5 88.6h.8v.8h-.8zM287.6 86.9h.8v.8h-.8zM304.3 97.3h.8v.8h-.8zM289.6 78.7h.8v.8h-.8zM281.3 82.9h.8v.8h-.8zM304.2 90.1h.8v.8h-.8zM268.8 92.9h.8v.8h-.8zM284.9 90.6h.8v.8h-.8zM287.5 94.0h.8v.8h-.8zM302.3 87.4h.8v.8h-.8zM292.4 95.7h.8v.8h-.8zM287.1 86.1h.8v.8h-.8zM295.8 95.3h.8v.8h-.8zM304.3 89.5h.8v.8h-.8zM310.9 88.1h.8v.8h-.8zM281.8 92.3h.8v.8h-.8zM272.3 85.6h.8v.8h-.8zM291.1 89.4h.8v.8h-.8zM280.3 85.6h.8v.8h-.8zM296.8 92.6h.8v.8h-.8zM289.1 95.1h.8v.8h-.8zM297.5 89.5h.8v.8h-.8zM294.1 88.3h.8v.8h-.8zM286.7 90.5h.8v.8h-.8zM293.3 85.4h.8v.8h-.8zM310.2 78.9h.8v.8h-.8zM309.5 87.8h.8v.8h-.8zM316.2 93.4h.8v.8h-.8zM316.4 87.1h.8v.8h-.8zM283.4 103.4h.8v.8h-.8zM278.1 92.7h.8v.8h-.8zM297.1 82.0h.8v.8h-.8zM277.7 91.6h.8v.8h-.8zM315.7 81.1h.8v.8h-.8zM276.2 92.4h.8v.8h-.8zM284.1 88.0h.8v.8h-.8zM283.3 85.1h.8v.8h-.8zM288.9 87.6h.8v.8h-.8zM281.4 85.1h.8v.8h-.8zM291.5 88.8h.8v.8h-.8zM280.1 97.4h.8v.8h-.8zM280.6 90.5h.8v.8h-.8zM296.1 89.2h.8v.8h-.8zM279.3 88.0h.8v.8h-.8zM298.1 87.2h.8v.8h-.8zM280.8 93.9h.8v.8h-.8zM296.9 92.3h.8v.8h-.8zM295.3 87.6h.8v.8h-.8zM303.4 84.5h.8v.8h-.8zM278.0 90.6h.8v.8h-.8zM281.0 87.1h.8v.8h-.8zM282.4 98.7h.8v.8h-.8zM281.7 80.9h.8v.8h-.8zM270.0 99.8h.8v.8h-.8zM299.8 82.7h.8v.8h-.8zM282.3 75.7h.8v.8h-.8zM275.1 97.3h.8v.8h-.8zM293.3 91.2h.8v.8h-.8zM305.3 80.4h.8v.8h-.8zM291.7 90.4h.8v.8h-.8zM289.5 85.2h.8v.8h-.8zM297.8 79.5h.8v.8h-.8zM290.6 89.0h.8v.8h-.8zM302.8 100.0h.8v.8h-.8zM296.9 89.8h.8v.8h-.8zM297.7 88.9h.8v.8h-.8z" fill="#fff" fill-opacity="0.07"/>
<path d="M280.8 57.3h.8v.8h-.8zM293.3 60.4h.8v.8h-.8zM297.4 60.7h.8v.8h-.8zM293.6 53.4h.8v.8h-.8zM279.4 58.7h.8v.8h-.8zM286.6 56.1h.8v.8h-.8zM300.5 57.6h.8v.8h-.8zM275.4 61.0h.8v.8h-.8zM285.5 63.6h.8v.8h-.8zM264.4 65.6h.8v.8h-.8zM279.2 64.9h.8v.8h-.8zM274.0 58.0h.8v.8h-.8zM279.5 54.4h.8v.8h-.8zM281.2 57.9h.8v.8h-.8zM275.5 54.9h.8v.8h-.8zM300.2 51.8h.8v.8h-.8zM293.3 59.0h.8v.8h-.8zM307.0 60.5h.8v.8h-.8zM290.9 61.3h.8v.8h-.8zM269.4 62.1h.8v.8h-.8zM284.2 60.0h.8v.8h-.8zM293.0 59.7h.8v.8h-.8zM277.5 56.5h.8v.8h-.8zM270.8 65.0h.8v.8h-.8zM284.0 62.3h.8v.8h-.8zM288.4 62.3h.8v.8h-.8zM279.7 56.0h.8v.8h-.8zM278.1 60.7h.8v.8h-.8zM301.1 59.1h.8v.8h-.8zM281.7 51.5h.8v.8h-.8zM289.9 49.8h.8v.8h-.8zM301.9 63.9h.8v.8h-.8zM272.3 51.1h.8v.8h-.8zM299.4 57.9h.8v.8h-.8zM273.5 57.7h.8v.8h-.8zM277.3 60.1h.8v.8h-.8zM289.5 60.1h.8v.8h-.8zM289.3 61.3h.8v.8h-.8zM296.4 62.7h.8v.8h-.8zM287.4 55.6h.8v.8h-.8zM293.8 59.2h.8v.8h-.8zM295.9 58.6h.8v.8h-.8zM285.3 60.5h.8v.8h-.8zM286.6 54.4h.8v.8h-.8zM281.9 55.0h.8v.8h-.8zM276.9 54.6h.8v.8h-.8zM293.1 54.3h.8v.8h-.8zM288.1 58.2h.8v.8h-.8zM277.5 57.6h.8v.8h-.8zM296.9 56.7h.8v.8h-.8zM286.6 60.9h.8v.8h-.8zM273.7 59.5h.8v.8h-.8zM299.0 58.5h.8v.8h-.8zM282.6 58.5h.8v.8h-.8zM270.1 61.8h.8v.8h-.8zM306.3 59.9h.8v.8h-.8zM293.2 59.4h.8v.8h-.8zM295.8 54.2h.8v.8h-.8zM279.7 62.1h.8v.8h-.8zM282.2 60.5h.8v.8h-.8zM297.8 55.7h.8v.8h-.8zM295.5 53.6h.8v.8h-.8zM287.2 59.4h.8v.8h-.8zM288.0 58.6h.8v.8h-.8zM275.4 56.7h.8v.8h-.8zM273.4 98.1h.8v.8h-.8zM266.2 85.5h.8v.8h-.8zM262.7 86.1h.8v.8h-.8zM260.6 87.3h.8v.8h-.8zM264.5 71.8h.8v.8h-.8zM257.8 87.7h.8v.8h-.8zM249.3 94.7h.8v.8h-.8zM260.6 83.5h.8v.8h-.8zM258.3 90.8h.8v.8h-.8zM277.4 97.2h.8v.8h-.8zM273.0 72.4h.8v.8h-.8zM276.8 92.8h.8v.8h-.8zM273.3 84.7h.8v.8h-.8zM267.8 89.3h.8v.8h-.8zM266.4 96.5h.8v.8h-.8zM266.7 77.5h.8v.8h-.8zM273.7 82.5h.8v.8h-.8zM245.2 91.6h.8v.8h-.8zM270.7 87.8h.8v.8h-.8zM264.4 96.0h.8v.8h-.8zM270.7 84.6h.8v.8h-.8zM261.0 79.2h.8v.8h-.8zM266.7 91.5h.8v.8h-.8zM274.7 78.5h.8v.8h-.8zM269.3 73.3h.8v.8h-.8zM261.5 90.7h.8v.8h-.8zM259.6 75.7h.8v.8h-.8zM267.2 88.8h.8v.8h-.8zM274.6 99.6h.8v.8h-.8zM266.1 80.1h.8v.8h-.8zM272.9 92.9h.8v.8h-.8zM284.5 73.9h.8v.8h-.8zM260.8 86.3h.8v.8h-.8zM276.4 91.2h.8v.8h-.8zM253.6 83.4h.8v.8h-.8zM284.2 94.1h.8v.8h-.8zM269.3 86.2h.8v.8h-.8zM276.8 87.2h.8v.8h-.8zM271.9 100.0h.8v.8h-.8zM258.4 81.5h.8v.8h-.8zM249.1 86.1h.8v.8h-.8zM262.3 93.5h.8v.8h-.8zM265.2 82.7h.8v.8h-.8zM273.1 89.6h.8v.8h-.8zM266.9 91.4h.8v.8h-.8zM265.1 96.1h.8v.8h-.8zM259.6 80.8h.8v.8h-.8zM256.6 67.8h.8v.8h-.8zM259.6 93.1h.8v.8h-.8zM262.2 92.1h.8v.8h-.8zM278.0 79.2h.8v.8h-.8zM266.7 98.4h.8v.8h-.8zM261.0 76.9h.8v.8h-.8zM272.1 78.5h.8v.8h-.8zM274.7 77.3h.8v.8h-.8zM256.4 94.7h.8v.8h-.8zM258.5 86.9h.8v.8h-.8zM253.2 90.9h.8v.8h-.8zM254.0 88.3h.8v.8h-.8zM267.2 100.2h.8v.8h-.8zM264.0 91.3h.8v.8h-.8zM255.7 81.2h.8v.8h-.8zM280.5 95.2h.8v.8h-.8zM279.6 82.7h.8v.8h-.8zM274.6 84.1h.8v.8h-.8zM255.9 87.7h.8v.8h-.8zM269.3 89.0h.8v.8h-.8zM255.1 87.5h.8v.8h-.8zM266.4 93.9h.8v.8h-.8zM275.6 106.4h.8v.8h-.8zM262.3 95.8h.8v.8h-.8zM269.7 92.2h.8v.8h-.8zM259.9 94.4h.8v.8h-.8zM262.3 90.0h.8v.8h-.8zM263.5 97.4h.8v.8h-.8zM256.2 91.9h.8v.8h-.8zM266.3 84.4h.8v.8h-.8zM258.7 96.2h.8v.8h-.8zM258.1 82.2h.8v.8h-.8zM265.8 99.2h.8v.8h-.8zM263.2 87.8h.8v.8h-.8zM262.1 98.4h.8v.8h-.8zM265.8 95.3h.8v.8h-.8zM276.7 95.2h.8v.8h-.8zM268.8 97.0h.8v.8h-.8zM259.6 83.8h.8v.8h-.8zM264.2 81.4h.8v.8h-.8zM264.2 82.5h.8v.8h-.8zM254.8 93.6h.8v.8h-.8zM260.7 95.3h.8v.8h-.8zM271.2 86.6h.8v.8h-.8zM271.6 91.1h.8v.8h-.8zM274.6 93.2h.8v.8h-.8zM255.6 87.5h.8v.8h-.8zM275.0 95.5h.8v.8h-.8zM263.1 80.8h.8v.8h-.8zM267.5 91.6h.8v.8h-.8zM255.2 89.5h.8v.8h-.8zM258.9 77.5h.8v.8h-.8zM246.2 84.3h.8v.8h-.8zM251.5 84.5h.8v.8h-.8zM270.7 92.8h.8v.8h-.8zM264.6 88.4h.8v.8h-.8zM278.8 96.0h.8v.8h-.8zM278.8 93.1h.8v.8h-.8zM263.0 89.3h.8v.8h-.8zM268.7 85.3h.8v.8h-.8zM273.4 74.2h.8v.8h-.8zM263.5 93.7h.8v.8h-.8zM270.4 98.2h.8v.8h-.8zM273.6 93.1h.8v.8h-.8zM255.9 85.7h.8v.8h-.8zM262.8 82.8h.8v.8h-.8zM276.8 78.3h.8v.8h-.8zM264.4 93.0h.8v.8h-.8zM257.5 87.2h.8v.8h-.8zM258.1 78.5h.8v.8h-.8zM255.2 99.7h.8v.8h-.8zM252.4 92.4h.8v.8h-.8zM265.8 88.0h.8v.8h-.8zM256.2 94.6h.8v.8h-.8zM272.2 90.2h.8v.8h-.8zM262.3 101.2h.8v.8h-.8zM253.9 96.2h.8v.8h-.8zM268.2 87.1h.8v.8h-.8zM268.9 85.8h.8v.8h-.8zM268.3 86.7h.8v.8h-.8zM274.6 105.4h.8v.8h-.8zM252.5 89.1h.8v.8h-.8zM269.6 79.6h.8v.8h-.8zM278.3 103.2h.8v.8h-.8zM256.0 88.1h.8v.8h-.8zM270.7 69.8h.8v.8h-.8zM268.8 103.9h.8v.8h-.8zM264.0 84.7h.8v.8h-.8zM270.3 87.0h.8v.8h-.8zM269.9 83.3h.8v.8h-.8zM277.3 78.9h.8v.8h-.8zM263.5 94.8h.8v.8h-.8zM275.3 100.7h.8v.8h-.8zM264.2 90.3h.8v.8h-.8zM270.2 94.5h.8v.8h-.8zM267.6 93.3h.8v.8h-.8zM253.7 94.1h.8v.8h-.8zM274.1 90.8h.8v.8h-.8zM287.3 88.5h.8v.8h-.8zM263.9 96.2h.8v.8h-.8zM281.3 77.7h.8v.8h-.8zM248.1 90.5h.8v.8h-.8zM269.1 97.6h.8v.8h-.8zM259.3 85.8h.8v.8h-.8zM274.1 87.5h.8v.8h-.8zM264.4 86.9h.8v.8h-.8zM259.9 96.4h.8v.8h-.8zM265.7 84.0h.8v.8h-.8zM271.2 77.0h.8v.8h-.8zM275.4 94.7h.8v.8h-.8zM257.7 84.0h.8v.8h-.8zM277.5 91.6h.8v.8h-.8zM263.1 85.6h.8v.8h-.8zM278.9 94.9h.8v.8h-.8zM257.6 98.1h.8v.8h-.8zM257.5 102.4h.8v.8h-.8zM263.7 94.9h.8v.8h-.8zM269.3 86.3h.8v.8h-.8zM264.6 98.9h.8v.8h-.8zM260.7 90.0h.8v.8h-.8zM257.4 88.7h.8v.8h-.8zM263.6 99.0h.8v.8h-.8zM278.2 82.0h.8v.8h-.8zM267.2 88.1h.8v.8h-.8zM250.1 90.0h.8v.8h-.8zM263.6 83.6h.8v.8h-.8zM270.0 94.2h.8v.8h-.8zM254.8 94.1h.8v.8h-.8zM261.1 105.2h.8v.8h-.8zM262.8 84.2h.8v.8h-.8zM253.0 81.1h.8v.8h-.8zM267.5 86.2h.8v.8h-.8zM268.6 88.8h.8v.8h-.8zM269.3 82.3h.8v.8h-.8zM261.2 86.2h.8v.8h-.8zM274.6 86.0h.8v.8h-.8zM281.5 91.8h.8v.8h-.8zM264.6 77.0h.8v.8h-.8zM270.6 75.9h.8v.8h-.8zM268.0 94.3h.8v.8h-.8zM265.1 86.1h.8v.8h-.8zM268.7 80.2h.8v.8h-.8zM258.0 87.9h.8v.8h-.8zM266.1 77.6h.8v.8h-.8zM267.9 87.1h.8v.8h-.8zM266.9 85.6h.8v.8h-.8zM251.9 81.8h.8v.8h-.8zM259.1 77.3h.8v.8h-.8zM265.2 101.3h.8v.8h-.8zM278.3 81.6h.8v.8h-.8zM250.6 94.9h.8v.8h-.8zM265.9 78.3h.8v.8h-.8zM280.3 94.8h.8v.8h-.8zM266.1 73.5h.8v.8h-.8zM269.2 97.4h.8v.8h-.8zM274.5 81.7h.8v.8h-.8zM253.7 97.8h.8v.8h-.8zM270.2 81.7h.8v.8h-.8zM267.8 100.8h.8v.8h-.8zM255.9 74.2h.8v.8h-.8zM266.2 88.3h.8v.8h-.8zM248.4 77.1h.8v.8h-.8zM255.3 94.3h.8v.8h-.8zM272.9 97.0h.8v.8h-.8zM255.5 101.3h.8v.8h-.8zM265.0 92.3h.8v.8h-.8zM273.3 104.5h.8v.8h-.8zM257.3 76.7h.8v.8h-.8zM268.7 100.0h.8v.8h-.8zM268.5 84.4h.8v.8h-.8zM263.4 93.0h.8v.8h-.8zM269.1 105.6h.8v.8h-.8zM263.2 95.5h.8v.8h-.8zM280.7 72.5h.8v.8h-.8zM265.8 89.0h.8v.8h-.8zM271.4 92.6h.8v.8h-.8zM264.9 77.0h.8v.8h-.8zM276.0 99.0h.8v.8h-.8zM264.2 86.3h.8v.8h-.8zM244.7 95.9h.8v.8h-.8zM261.2 100.8h.8v.8h-.8zM281.1 83.5h.8v.8h-.8zM274.8 83.8h.8v.8h-.8zM265.4 87.6h.8v.8h-.8zM256.8 85.9h.8v.8h-.8zM264.0 75.8h.8v.8h-.8zM275.8 86.1h.8v.8h-.8zM284.1 84.1h.8v.8h-.8zM273.7 105.5h.8v.8h-.8zM271.6 88.9h.8v.8h-.8zM261.3 84.7h.8v.8h-.8zM244.1 99.6h.8v.8h-.8zM270.6 77.7h.8v.8h-.8zM241.6 90.0h.8v.8h-.8zM263.4 83.0h.8v.8h-.8zM271.3 80.9h.8v.8h-.8zM268.3 81.9h.8v.8h-.8zM271.0 102.8h.8v.8h-.8zM273.7 100.2h.8v.8h-.8zM257.8 73.1h.8v.8h-.8zM281.3 86.5h.8v.8h-.8zM271.6 87.8h.8v.8h-.8zM273.9 83.3h.8v.8h-.8zM279.1 76.9h.8v.8h-.8zM259.1 77.5h.8v.8h-.8zM257.5 83.9h.8v.8h-.8zM274.6 68.0h.8v.8h-.8zM270.2 66.4h.8v.8h-.8zM268.4 76.6h.8v.8h-.8zM273.3 70.2h.8v.8h-.8zM275.6 70.5h.8v.8h-.8zM274.5 83.4h.8v.8h-.8zM270.5 78.5h.8v.8h-.8zM264.2 63.9h.8v.8h-.8zM259.3 78.3h.8v.8h-.8zM273.8 68.0h.8v.8h-.8zM265.1 70.3h.8v.8h-.8zM246.2 78.4h.8v.8h-.8zM266.2 73.6h.8v.8h-.8zM273.5 74.7h.8v.8h-.8zM276.2 69.4h.8v.8h-.8zM273.3 77.4h.8v.8h-.8zM262.8 72.7h.8v.8h-.8zM269.8 65.0h.8v.8h-.8zM285.8 80.1h.8v.8h-.8zM282.9 82.1h.8v.8h-.8zM263.1 81.7h.8v.8h-.8zM259.2 81.6h.8v.8h-.8zM251.5 69.0h.8v.8h-.8zM271.3 78.9h.8v.8h-.8zM273.0 77.3h.8v.8h-.8zM269.7 81.6h.8v.8h-.8zM258.1 82.2h.8v.8h-.8zM275.7 66.7h.8v.8h-.8zM281.7 73.3h.8v.8h-.8zM272.1 74.4h.8v.8h-.8zM253.8 79.7h.8v.8h-.8zM279.6 68.7h.8v.8h-.8zM284.4 76.3h.8v.8h-.8zM280.1 77.2h.8v.8h-.8zM263.2 72.9h.8v.8h-.8zM269.9 71.7h.8v.8h-.8zM274.5 83.4h.8v.8h-.8zM281.3 71.5h.8v.8h-.8zM272.9 80.5h.8v.8h-.8zM273.1 84.0h.8v.8h-.8zM266.7 79.5h.8v.8h-.8zM271.7 69.0h.8v.8h-.8zM263.0 78.8h.8v.8h-.8z" fill="#fff" fill-opacity="0.08"/>
<path d="M270.0 63.8h.8v.8h-.8zM283.5 60.5h.8v.8h-.8zM283.3 50.5h.8v.8h-.8zM284.7 60.0h.8v.8h-.8zM299.6 59.2h.8v.8h-.8zM266.8 62.0h.8v.8h-.8zM295.8 61.7h.8v.8h-.8zM277.0 59.8h.8v.8h-.8zM297.2 55.3h.8v.8h-.8zM287.2 59.7h.8v.8h-.8zM283.5 55.8h.8v.8h-.8zM295.9 57.2h.8v.8h-.8zM298.6 66.4h.8v.8h-.8zM277.2 56.4h.8v.8h-.8zM270.0 57.2h.8v.8h-.8zM281.4 53.1h.8v.8h-.8zM285.0 61.6h.8v.8h-.8zM281.4 60.3h.8v.8h-.8zM283.6 57.2h.8v.8h-.8zM283.6 62.7h.8v.8h-.8zM280.5 60.4h.8v.8h-.8zM282.9 57.7h.8v.8h-.8zM274.5 62.0h.8v.8h-.8zM282.8 55.2h.8v.8h-.8zM294.0 64.1h.8v.8h-.8zM279.0 53.1h.8v.8h-.8zM291.1 60.3h.8v.8h-.8zM279.3 60.9h.8v.8h-.8zM305.1 61.7h.8v.8h-.8zM292.2 57.0h.8v.8h-.8zM281.3 52.7h.8v.8h-.8zM287.2 65.7h.8v.8h-.8zM290.4 57.0h.8v.8h-.8zM279.6 55.3h.8v.8h-.8zM295.2 63.4h.8v.8h-.8zM274.1 55.3h.8v.8h-.8zM299.0 55.3h.8v.8h-.8zM291.0 57.2h.8v.8h-.8zM288.6 55.3h.8v.8h-.8zM281.2 58.2h.8v.8h-.8zM295.6 62.2h.8v.8h-.8zM289.2 56.3h.8v.8h-.8zM292.2 61.7h.8v.8h-.8zM299.4 61.2h.8v.8h-.8zM271.3 58.5h.8v.8h-.8zM307.2 58.5h.8v.8h-.8zM272.4 51.3h.8v.8h-.8zM298.5 61.8h.8v.8h-.8zM279.3 61.7h.8v.8h-.8zM274.1 61.0h.8v.8h-.8zM277.6 57.6h.8v.8h-.8zM291.4 56.6h.8v.8h-.8zM303.2 58.2h.8v.8h-.8zM277.8 56.1h.8v.8h-.8zM288.2 56.7h.8v.8h-.8zM285.2 55.9h.8v.8h-.8zM266.7 54.8h.8v.8h-.8zM282.8 57.4h.8v.8h-.8zM283.6 55.9h.8v.8h-.8zM268.4 54.6h.8v.8h-.8zM294.3 63.8h.8v.8h-.8zM289.1 56.2h.8v.8h-.8zM276.1 57.6h.8v.8h-.8zM286.5 56.8h.8v.8h-.8zM293.2 53.4h.8v.8h-.8zM273.6 56.5h.8v.8h-.8zM288.4 57.8h.8v.8h-.8zM279.9 61.8h.8v.8h-.8zM282.0 61.9h.8v.8h-.8zM285.5 62.7h.8v.8h-.8zM281.9 64.4h.8v.8h-.8zM274.2 57.7h.8v.8h-.8zM297.0 53.5h.8v.8h-.8zM294.6 59.3h.8v.8h-.8zM298.7 53.3h.8v.8h-.8zM299.9 53.5h.8v.8h-.8zM279.5 60.3h.8v.8h-.8zM284.5 61.3h.8v.8h-.8zM280.4 56.3h.8v.8h-.8zM284.6 60.3h.8v.8h-.8zM272.5 56.1h.8v.8h-.8zM282.1 59.6h.8v.8h-.8zM284.1 57.0h.8v.8h-.8zM286.8 57.6h.8v.8h-.8zM269.1 56.1h.8v.8h-.8zM292.5 56.7h.8v.8h-.8zM275.8 61.4h.8v.8h-.8zM288.4 57.3h.8v.8h-.8zM274.8 61.2h.8v.8h-.8zM281.7 61.0h.8v.8h-.8zM280.3 53.5h.8v.8h-.8zM288.3 51.1h.8v.8h-.8zM279.1 56.6h.8v.8h-.8zM300.3 62.3h.8v.8h-.8zM272.5 76.7h.8v.8h-.8zM263.9 75.0h.8v.8h-.8zM274.7 77.2h.8v.8h-.8zM262.4 74.8h.8v.8h-.8zM272.7 78.7h.8v.8h-.8zM272.8 82.6h.8v.8h-.8zM249.6 77.7h.8v.8h-.8zM255.0 78.5h.8v.8h-.8zM300.2 78.0h.8v.8h-.8zM278.5 78.7h.8v.8h-.8zM285.7 76.4h.8v.8h-.8zM280.4 80.5h.8v.8h-.8zM283.8 71.4h.8v.8h-.8zM268.9 82.4h.8v.8h-.8zM270.8 74.0h.8v.8h-.8zM279.5 66.9h.8v.8h-.8zM278.9 73.8h.8v.8h-.8zM271.6 74.7h.8v.8h-.8zM256.8 78.4h.8v.8h-.8zM270.3 71.6h.8v.8h-.8zM281.2 62.0h.8v.8h-.8zM274.4 73.3h.8v.8h-.8zM273.7 75.7h.8v.8h-.8zM290.6 77.9h.8v.8h-.8zM264.3 80.9h.8v.8h-.8zM246.8 76.8h.8v.8h-.8zM265.3 74.1h.8v.8h-.8zM258.6 75.5h.8v.8h-.8zM271.1 78.0h.8v.8h-.8zM251.9 83.6h.8v.8h-.8zM280.5 70.0h.8v.8h-.8zM273.7 78.4h.8v.8h-.8zM274.4 84.1h.8v.8h-.8zM260.2 76.8h.8v.8h-.8zM266.9 78.8h.8v.8h-.8zM282.6 74.1h.8v.8h-.8zM292.2 75.6h.8v.8h-.8zM317.7 69.6h.8v.8h-.8zM270.6 75.9h.8v.8h-.8zM280.3 69.3h.8v.8h-.8zM264.3 74.1h.8v.8h-.8zM270.8 78.1h.8v.8h-.8zM269.9 67.9h.8v.8h-.8zM277.7 78.9h.8v.8h-.8zM273.4 78.7h.8v.8h-.8zM257.1 75.9h.8v.8h-.8zM272.1 76.5h.8v.8h-.8zM264.1 66.7h.8v.8h-.8zM282.7 82.4h.8v.8h-.8zM266.9 74.6h.8v.8h-.8zM257.0 75.8h.8v.8h-.8z" fill="#fff" fill-opacity="0.15"/>
<path d="M294.1 62.2h.8v.8h-.8zM295.6 64.4h.8v.8h-.8zM288.4 62.1h.8v.8h-.8zM276.0 59.2h.8v.8h-.8zM284.1 60.2h.8v.8h-.8zM291.7 53.6h.8v.8h-.8zM283.4 59.0h.8v.8h-.8zM288.2 52.7h.8v.8h-.8zM279.8 61.0h.8v.8h-.8zM278.1 61.2h.8v.8h-.8zM286.4 57.6h.8v.8h-.8zM290.1 54.0h.8v.8h-.8zM292.9 57.3h.8v.8h-.8zM298.1 59.5h.8v.8h-.8zM255.8 54.6h.8v.8h-.8zM303.9 50.9h.8v.8h-.8zM298.7 47.0h.8v.8h-.8zM290.5 58.3h.8v.8h-.8zM281.3 61.6h.8v.8h-.8zM293.3 58.3h.8v.8h-.8zM267.2 53.0h.8v.8h-.8zM279.4 65.9h.8v.8h-.8zM283.0 63.1h.8v.8h-.8zM290.3 57.8h.8v.8h-.8zM281.6 53.3h.8v.8h-.8zM280.3 65.6h.8v.8h-.8zM305.6 58.4h.8v.8h-.8zM282.9 57.3h.8v.8h-.8zM291.5 61.1h.8v.8h-.8zM316.6 53.0h.8v.8h-.8zM280.1 57.2h.8v.8h-.8zM287.7 60.1h.8v.8h-.8zM285.2 62.0h.8v.8h-.8zM288.6 57.5h.8v.8h-.8zM287.0 56.3h.8v.8h-.8zM286.2 59.7h.8v.8h-.8zM279.3 59.3h.8v.8h-.8zM282.9 53.7h.8v.8h-.8zM287.5 61.0h.8v.8h-.8zM278.7 64.4h.8v.8h-.8zM278.9 55.4h.8v.8h-.8zM314.9 58.8h.8v.8h-.8zM295.1 60.9h.8v.8h-.8zM298.3 59.3h.8v.8h-.8zM304.9 52.6h.8v.8h-.8zM285.0 55.8h.8v.8h-.8zM286.9 57.7h.8v.8h-.8zM281.2 55.9h.8v.8h-.8zM290.7 55.7h.8v.8h-.8zM275.6 57.0h.8v.8h-.8zM285.4 55.2h.8v.8h-.8zM295.1 53.2h.8v.8h-.8zM292.8 57.5h.8v.8h-.8zM286.8 60.6h.8v.8h-.8zM313.7 59.6h.8v.8h-.8zM280.0 56.9h.8v.8h-.8zM297.4 57.8h.8v.8h-.8zM298.2 60.5h.8v.8h-.8zM300.0 49.3h.8v.8h-.8zM291.0 65.2h.8v.8h-.8zM283.8 61.3h.8v.8h-.8zM286.1 58.7h.8v.8h-.8zM286.3 55.8h.8v.8h-.8zM290.6 60.2h.8v.8h-.8zM295.4 57.7h.8v.8h-.8zM283.3 49.1h.8v.8h-.8zM288.4 57.3h.8v.8h-.8zM297.6 60.9h.8v.8h-.8zM296.1 57.7h.8v.8h-.8zM288.6 63.5h.8v.8h-.8zM280.4 53.9h.8v.8h-.8zM287.8 58.4h.8v.8h-.8z" fill="#fff" fill-opacity="0.25"/>
<ellipse cx="285" cy="58" rx="21.00" ry="8.40" transform="rotate(-4 285 58)" fill="url(#soft)" opacity="0.12"/>
<ellipse cx="264.5" cy="60" rx="13.30" ry="10.92" transform="rotate(0 264.5 60)" fill="url(#cone)" opacity="0.7"/>
<ellipse cx="278" cy="89.5" rx="39.20" ry="18.20" transform="rotate(0 278 89.5)" fill="url(#soft)" opacity="0.1"/>
<ellipse cx="288" cy="89.5" rx="25.20" ry="10.36" transform="rotate(0 288 89.5)" fill="url(#soft)" opacity="0.56"/>
<ellipse cx="265.5" cy="89.8" rx="16.80" ry="14.70" transform="rotate(0 265.5 89.8)" fill="url(#cone)" opacity="1.0"/>
</svg></g>
<g filter="url(#cmap)"><rect x="335.4" y="39.5" width="77.10000000000002" height="77.0" fill="#000"/>
<svg x="335.4" y="39.5" width="77.10000000000002" height="77.0" viewBox="335.4 39.5 77.10000000000002 77.0" overflow="hidden">
<path d="M357.7 64.6h.8v.8h-.8zM360.4 69.2h.8v.8h-.8zM357.2 60.9h.8v.8h-.8zM366.8 72.0h.8v.8h-.8zM362.4 75.0h.8v.8h-.8zM354.8 71.7h.8v.8h-.8zM358.7 82.1h.8v.8h-.8zM354.7 65.0h.8v.8h-.8zM355.9 71.6h.8v.8h-.8zM353.9 64.1h.8v.8h-.8zM355.5 61.9h.8v.8h-.8zM361.1 76.6h.8v.8h-.8zM360.7 72.9h.8v.8h-.8zM357.8 67.2h.8v.8h-.8zM360.5 59.5h.8v.8h-.8zM361.7 75.4h.8v.8h-.8zM360.8 64.2h.8v.8h-.8zM362.2 70.3h.8v.8h-.8zM352.6 69.3h.8v.8h-.8zM353.0 65.1h.8v.8h-.8zM358.7 67.9h.8v.8h-.8zM352.7 67.5h.8v.8h-.8zM362.1 64.7h.8v.8h-.8zM362.3 70.1h.8v.8h-.8zM360.9 64.5h.8v.8h-.8zM363.6 57.4h.8v.8h-.8zM354.5 69.5h.8v.8h-.8zM366.1 62.7h.8v.8h-.8zM356.1 73.4h.8v.8h-.8zM356.3 60.1h.8v.8h-.8zM361.4 70.5h.8v.8h-.8zM363.5 81.5h.8v.8h-.8zM362.6 54.0h.8v.8h-.8zM356.0 51.2h.8v.8h-.8zM358.7 78.6h.8v.8h-.8zM358.3 70.5h.8v.8h-.8zM359.8 77.1h.8v.8h-.8zM362.9 77.9h.8v.8h-.8zM363.0 60.1h.8v.8h-.8zM359.5 63.6h.8v.8h-.8zM362.8 52.3h.8v.8h-.8zM352.4 72.1h.8v.8h-.8zM365.7 53.1h.8v.8h-.8zM356.6 75.4h.8v.8h-.8zM356.7 66.2h.8v.8h-.8zM360.2 59.3h.8v.8h-.8zM363.7 62.8h.8v.8h-.8zM360.3 64.0h.8v.8h-.8zM367.0 62.5h.8v.8h-.8zM353.6 62.2h.8v.8h-.8zM361.2 66.0h.8v.8h-.8zM358.7 72.6h.8v.8h-.8z" fill="#fff" fill-opacity="0.05"/>
<path d="M366.5 85.8h.8v.8h-.8zM380.4 95.2h.8v.8h-.8zM392.5 91.9h.8v.8h-.8zM401.8 89.2h.8v.8h-.8zM390.5 91.9h.8v.8h-.8zM380.9 96.5h.8v.8h-.8zM406.7 75.9h.8v.8h-.8zM364.8 79.2h.8v.8h-.8zM392.0 79.7h.8v.8h-.8zM377.3 100.5h.8v.8h-.8zM370.9 80.9h.8v.8h-.8zM376.8 92.7h.8v.8h-.8zM388.5 82.1h.8v.8h-.8zM392.6 86.6h.8v.8h-.8zM385.4 77.6h.8v.8h-.8zM391.7 91.5h.8v.8h-.8zM387.1 91.8h.8v.8h-.8zM377.0 89.2h.8v.8h-.8zM402.5 89.5h.8v.8h-.8zM381.2 89.9h.8v.8h-.8zM384.4 80.0h.8v.8h-.8zM395.4 95.8h.8v.8h-.8zM395.9 85.0h.8v.8h-.8zM387.5 84.4h.8v.8h-.8zM374.9 96.0h.8v.8h-.8zM385.2 93.1h.8v.8h-.8zM376.3 88.6h.8v.8h-.8zM378.7 97.1h.8v.8h-.8zM385.5 98.4h.8v.8h-.8zM384.1 84.8h.8v.8h-.8zM389.4 79.9h.8v.8h-.8zM372.2 91.2h.8v.8h-.8zM387.7 90.4h.8v.8h-.8zM396.0 98.4h.8v.8h-.8zM389.6 98.9h.8v.8h-.8zM385.2 90.5h.8v.8h-.8zM393.0 94.2h.8v.8h-.8zM375.0 90.4h.8v.8h-.8zM408.9 89.3h.8v.8h-.8zM366.3 92.0h.8v.8h-.8zM379.2 87.1h.8v.8h-.8zM376.8 82.6h.8v.8h-.8zM380.2 83.7h.8v.8h-.8zM395.8 73.5h.8v.8h-.8zM383.9 85.0h.8v.8h-.8zM398.1 90.6h.8v.8h-.8zM388.2 91.5h.8v.8h-.8zM385.9 90.3h.8v.8h-.8zM386.1 88.1h.8v.8h-.8zM387.3 92.0h.8v.8h-.8zM391.4 90.6h.8v.8h-.8zM398.5 94.0h.8v.8h-.8zM380.3 78.9h.8v.8h-.8zM386.7 89.5h.8v.8h-.8zM366.3 94.7h.8v.8h-.8zM387.7 93.6h.8v.8h-.8zM380.1 81.5h.8v.8h-.8zM383.1 98.2h.8v.8h-.8zM386.8 89.7h.8v.8h-.8zM373.3 89.7h.8v.8h-.8zM397.9 87.8h.8v.8h-.8zM394.4 90.5h.8v.8h-.8zM387.6 87.9h.8v.8h-.8zM373.0 80.2h.8v.8h-.8zM394.4 77.8h.8v.8h-.8zM382.3 79.4h.8v.8h-.8zM392.2 92.3h.8v.8h-.8zM384.8 87.0h.8v.8h-.8zM383.7 81.5h.8v.8h-.8zM383.3 90.5h.8v.8h-.8zM381.9 97.5h.8v.8h-.8zM390.3 79.9h.8v.8h-.8zM398.1 93.9h.8v.8h-.8zM394.4 87.9h.8v.8h-.8zM382.1 80.7h.8v.8h-.8zM390.0 86.3h.8v.8h-.8zM377.9 101.7h.8v.8h-.8zM403.9 95.8h.8v.8h-.8zM394.6 87.1h.8v.8h-.8zM372.9 93.7h.8v.8h-.8zM392.7 81.7h.8v.8h-.8zM384.2 100.5h.8v.8h-.8zM370.2 91.4h.8v.8h-.8zM377.2 93.7h.8v.8h-.8zM364.9 93.9h.8v.8h-.8zM387.3 88.7h.8v.8h-.8zM396.6 89.3h.8v.8h-.8zM395.1 84.9h.8v.8h-.8zM400.4 93.9h.8v.8h-.8zM381.0 96.3h.8v.8h-.8zM389.5 83.1h.8v.8h-.8zM388.0 88.7h.8v.8h-.8zM374.1 80.3h.8v.8h-.8zM383.0 86.7h.8v.8h-.8zM390.5 82.8h.8v.8h-.8zM378.6 85.6h.8v.8h-.8zM360.8 82.2h.8v.8h-.8zM384.8 89.8h.8v.8h-.8zM388.9 89.2h.8v.8h-.8zM372.4 83.4h.8v.8h-.8zM382.4 83.9h.8v.8h-.8zM396.9 88.8h.8v.8h-.8zM383.6 92.2h.8v.8h-.8zM396.0 91.7h.8v.8h-.8zM386.7 90.7h.8v.8h-.8zM384.2 82.8h.8v.8h-.8zM396.3 84.6h.8v.8h-.8zM409.9 87.2h.8v.8h-.8zM404.6 84.4h.8v.8h-.8zM394.3 93.2h.8v.8h-.8zM390.7 81.5h.8v.8h-.8zM385.3 96.6h.8v.8h-.8zM385.2 95.6h.8v.8h-.8zM381.0 90.0h.8v.8h-.8zM380.4 97.4h.8v.8h-.8zM371.7 89.2h.8v.8h-.8zM392.3 89.0h.8v.8h-.8zM377.9 91.7h.8v.8h-.8zM379.6 81.9h.8v.8h-.8zM375.4 92.1h.8v.8h-.8zM395.3 100.4h.8v.8h-.8zM397.2 87.7h.8v.8h-.8zM387.0 97.0h.8v.8h-.8zM396.3 78.2h.8v.8h-.8zM394.6 84.2h.8v.8h-.8zM382.3 92.9h.8v.8h-.8zM394.3 81.2h.8v.8h-.8zM403.9 94.1h.8v.8h-.8zM366.2 89.5h.8v.8h-.8zM393.8 93.5h.8v.8h-.8zM394.1 87.2h.8v.8h-.8zM384.9 93.5h.8v.8h-.8zM392.7 86.8h.8v.8h-.8zM405.8 88.9h.8v.8h-.8zM387.0 85.6h.8v.8h-.8zM379.9 90.3h.8v.8h-.8zM375.9 89.4h.8v.8h-.8zM386.2 92.5h.8v.8h-.8zM365.0 99.9h.8v.8h-.8zM387.2 80.7h.8v.8h-.8zM368.6 84.9h.8v.8h-.8zM394.8 84.2h.8v.8h-.8zM380.7 90.1h.8v.8h-.8zM367.7 80.8h.8v.8h-.8zM377.9 86.0h.8v.8h-.8zM383.2 87.9h.8v.8h-.8zM379.7 75.7h.8v.8h-.8zM373.7 77.0h.8v.8h-.8zM375.3 89.9h.8v.8h-.8zM399.4 84.0h.8v.8h-.8zM388.7 84.1h.8v.8h-.8zM387.7 91.6h.8v.8h-.8zM389.4 92.6h.8v.8h-.8zM382.9 88.2h.8v.8h-.8zM387.3 86.3h.8v.8h-.8zM395.7 90.8h.8v.8h-.8zM398.3 81.9h.8v.8h-.8zM369.3 93.5h.8v.8h-.8zM379.7 85.9h.8v.8h-.8zM378.9 83.8h.8v.8h-.8zM378.8 82.8h.8v.8h-.8zM403.1 90.2h.8v.8h-.8zM388.7 92.8h.8v.8h-.8zM404.9 89.8h.8v.8h-.8zM393.3 83.0h.8v.8h-.8zM404.6 85.8h.8v.8h-.8zM384.6 87.6h.8v.8h-.8zM378.9 83.9h.8v.8h-.8zM373.8 88.0h.8v.8h-.8zM375.8 88.3h.8v.8h-.8zM375.4 88.1h.8v.8h-.8zM396.1 92.9h.8v.8h-.8zM405.7 91.2h.8v.8h-.8zM385.6 87.6h.8v.8h-.8zM392.0 85.5h.8v.8h-.8zM379.9 91.2h.8v.8h-.8zM379.8 94.0h.8v.8h-.8zM397.1 84.3h.8v.8h-.8zM367.2 92.8h.8v.8h-.8zM377.9 83.6h.8v.8h-.8zM379.2 75.2h.8v.8h-.8zM395.4 94.9h.8v.8h-.8zM386.7 83.9h.8v.8h-.8zM388.3 84.1h.8v.8h-.8zM394.6 80.2h.8v.8h-.8zM381.8 86.0h.8v.8h-.8zM386.2 94.6h.8v.8h-.8zM391.5 87.1h.8v.8h-.8zM391.8 94.3h.8v.8h-.8zM387.8 87.6h.8v.8h-.8zM386.9 86.3h.8v.8h-.8zM395.9 97.0h.8v.8h-.8zM393.7 80.8h.8v.8h-.8zM384.2 89.9h.8v.8h-.8zM391.7 91.5h.8v.8h-.8zM381.5 86.6h.8v.8h-.8zM380.4 87.9h.8v.8h-.8zM390.9 100.7h.8v.8h-.8zM386.1 88.2h.8v.8h-.8zM399.9 93.4h.8v.8h-.8zM373.4 80.3h.8v.8h-.8zM391.2 87.6h.8v.8h-.8zM380.1 95.7h.8v.8h-.8zM393.5 82.2h.8v.8h-.8zM390.7 81.0h.8v.8h-.8zM399.1 96.2h.8v.8h-.8zM386.7 96.5h.8v.8h-.8zM388.6 92.5h.8v.8h-.8zM384.4 90.3h.8v.8h-.8zM399.2 84.0h.8v.8h-.8zM381.9 88.9h.8v.8h-.8zM390.3 85.8h.8v.8h-.8zM387.1 87.7h.8v.8h-.8zM392.5 90.1h.8v.8h-.8zM393.2 84.0h.8v.8h-.8zM393.5 91.7h.8v.8h-.8zM386.9 97.7h.8v.8h-.8zM388.6 81.4h.8v.8h-.8zM388.7 86.6h.8v.8h-.8zM382.7 96.8h.8v.8h-.8zM376.0 90.3h.8v.8h-.8zM395.4 82.1h.8v.8h-.8zM381.4 95.2h.8v.8h-.8zM396.1 85.8h.8v.8h-.8zM391.0 84.8h.8v.8h-.8zM380.3 90.4h.8v.8h-.8zM379.5 87.7h.8v.8h-.8zM376.3 88.6h.8v.8h-.8zM382.3 90.0h.8v.8h-.8zM399.0 84.3h.8v.8h-.8zM381.6 89.5h.8v.8h-.8zM375.4 90.1h.8v.8h-.8zM375.4 83.0h.8v.8h-.8zM398.6 84.3h.8v.8h-.8zM359.8 96.7h.8v.8h-.8zM384.1 94.7h.8v.8h-.8zM372.8 95.3h.8v.8h-.8zM384.2 88.5h.8v.8h-.8zM383.9 79.6h.8v.8h-.8zM409.4 96.1h.8v.8h-.8zM383.5 91.4h.8v.8h-.8zM367.4 82.7h.8v.8h-.8zM379.6 84.1h.8v.8h-.8zM387.3 92.7h.8v.8h-.8zM376.6 85.0h.8v.8h-.8zM379.1 81.9h.8v.8h-.8zM386.9 95.7h.8v.8h-.8zM381.3 92.8h.8v.8h-.8zM385.7 86.5h.8v.8h-.8zM379.7 86.6h.8v.8h-.8z" fill="#fff" fill-opacity="0.07"/>
<path d="M367.5 83.9h.8v.8h-.8zM355.7 84.6h.8v.8h-.8zM364.3 86.5h.8v.8h-.8zM355.5 80.3h.8v.8h-.8zM348.1 81.1h.8v.8h-.8zM361.2 83.3h.8v.8h-.8zM355.2 82.3h.8v.8h-.8zM372.4 78.8h.8v.8h-.8zM347.4 77.7h.8v.8h-.8zM350.9 88.2h.8v.8h-.8zM353.0 96.5h.8v.8h-.8zM352.9 80.6h.8v.8h-.8zM359.1 99.7h.8v.8h-.8zM375.6 89.6h.8v.8h-.8zM346.5 102.3h.8v.8h-.8zM358.2 95.5h.8v.8h-.8zM366.9 99.0h.8v.8h-.8zM365.0 90.7h.8v.8h-.8zM363.4 92.9h.8v.8h-.8zM355.3 89.7h.8v.8h-.8zM370.3 84.5h.8v.8h-.8zM360.2 83.2h.8v.8h-.8zM369.7 90.5h.8v.8h-.8zM348.3 93.6h.8v.8h-.8zM339.3 74.7h.8v.8h-.8zM364.1 90.5h.8v.8h-.8zM373.5 89.8h.8v.8h-.8zM363.6 91.3h.8v.8h-.8zM362.2 95.6h.8v.8h-.8zM343.5 106.1h.8v.8h-.8zM355.3 95.8h.8v.8h-.8zM362.2 110.9h.8v.8h-.8zM369.1 103.5h.8v.8h-.8zM350.3 79.2h.8v.8h-.8zM346.1 85.6h.8v.8h-.8zM361.8 77.5h.8v.8h-.8zM341.8 93.3h.8v.8h-.8zM353.7 79.4h.8v.8h-.8zM372.2 73.4h.8v.8h-.8zM345.8 88.3h.8v.8h-.8zM359.2 87.2h.8v.8h-.8zM364.3 81.3h.8v.8h-.8zM346.3 82.2h.8v.8h-.8zM354.3 96.4h.8v.8h-.8zM356.0 95.6h.8v.8h-.8zM365.7 87.8h.8v.8h-.8zM373.2 87.2h.8v.8h-.8zM352.3 79.5h.8v.8h-.8zM369.2 102.1h.8v.8h-.8zM376.5 83.0h.8v.8h-.8zM342.6 88.8h.8v.8h-.8zM368.5 99.6h.8v.8h-.8zM369.5 81.8h.8v.8h-.8zM359.3 87.2h.8v.8h-.8zM365.3 92.1h.8v.8h-.8zM351.9 82.4h.8v.8h-.8zM368.1 92.5h.8v.8h-.8zM368.1 93.7h.8v.8h-.8zM362.4 100.1h.8v.8h-.8zM360.7 82.3h.8v.8h-.8zM361.1 75.0h.8v.8h-.8zM342.2 92.6h.8v.8h-.8zM353.8 76.0h.8v.8h-.8zM375.9 92.6h.8v.8h-.8zM384.8 96.4h.8v.8h-.8zM349.0 101.3h.8v.8h-.8zM358.8 98.1h.8v.8h-.8zM355.7 88.5h.8v.8h-.8zM362.1 99.2h.8v.8h-.8zM358.4 80.3h.8v.8h-.8zM372.0 84.7h.8v.8h-.8zM349.0 75.2h.8v.8h-.8zM356.7 92.4h.8v.8h-.8zM343.9 90.4h.8v.8h-.8zM359.3 91.0h.8v.8h-.8zM369.8 81.5h.8v.8h-.8zM351.9 80.3h.8v.8h-.8zM361.7 96.6h.8v.8h-.8zM364.2 75.9h.8v.8h-.8zM360.6 97.4h.8v.8h-.8zM364.2 85.7h.8v.8h-.8zM350.9 85.1h.8v.8h-.8zM376.1 78.7h.8v.8h-.8zM352.4 88.3h.8v.8h-.8zM368.1 93.8h.8v.8h-.8zM369.3 103.1h.8v.8h-.8zM356.3 90.8h.8v.8h-.8zM352.2 88.1h.8v.8h-.8zM351.0 95.1h.8v.8h-.8zM360.5 80.6h.8v.8h-.8zM364.7 92.9h.8v.8h-.8zM339.3 80.0h.8v.8h-.8zM338.9 90.4h.8v.8h-.8zM342.2 83.5h.8v.8h-.8zM351.7 96.9h.8v.8h-.8zM355.7 100.9h.8v.8h-.8zM354.1 90.8h.8v.8h-.8zM362.4 97.7h.8v.8h-.8zM359.6 81.7h.8v.8h-.8zM351.2 70.2h.8v.8h-.8zM353.3 75.9h.8v.8h-.8zM357.0 111.0h.8v.8h-.8zM367.2 86.6h.8v.8h-.8zM351.2 87.2h.8v.8h-.8zM365.5 88.5h.8v.8h-.8zM364.8 84.6h.8v.8h-.8zM366.0 85.2h.8v.8h-.8zM355.5 80.5h.8v.8h-.8zM375.0 94.6h.8v.8h-.8zM371.0 97.0h.8v.8h-.8zM350.0 87.2h.8v.8h-.8zM387.0 80.2h.8v.8h-.8zM350.1 79.3h.8v.8h-.8zM353.6 93.8h.8v.8h-.8zM347.3 102.1h.8v.8h-.8zM354.3 86.6h.8v.8h-.8zM366.6 97.1h.8v.8h-.8zM365.2 96.5h.8v.8h-.8zM350.9 84.7h.8v.8h-.8zM358.6 81.8h.8v.8h-.8zM360.8 102.2h.8v.8h-.8zM366.2 83.1h.8v.8h-.8zM365.6 78.2h.8v.8h-.8zM351.7 100.4h.8v.8h-.8zM387.3 83.9h.8v.8h-.8zM349.3 90.9h.8v.8h-.8zM355.0 84.7h.8v.8h-.8zM358.5 102.6h.8v.8h-.8zM357.6 90.9h.8v.8h-.8zM373.5 94.6h.8v.8h-.8zM359.7 92.9h.8v.8h-.8zM340.5 96.2h.8v.8h-.8zM356.9 79.3h.8v.8h-.8zM350.5 82.8h.8v.8h-.8zM366.2 74.4h.8v.8h-.8zM351.4 87.7h.8v.8h-.8zM344.7 86.2h.8v.8h-.8zM354.1 87.7h.8v.8h-.8zM347.4 93.1h.8v.8h-.8zM360.1 97.5h.8v.8h-.8zM357.3 84.7h.8v.8h-.8zM371.2 94.8h.8v.8h-.8zM355.9 93.8h.8v.8h-.8zM361.1 96.5h.8v.8h-.8zM362.9 89.5h.8v.8h-.8zM363.1 86.1h.8v.8h-.8zM359.4 91.9h.8v.8h-.8zM350.4 84.4h.8v.8h-.8zM374.6 81.7h.8v.8h-.8zM361.8 90.3h.8v.8h-.8zM369.1 97.3h.8v.8h-.8zM337.8 77.0h.8v.8h-.8zM363.4 73.4h.8v.8h-.8zM365.5 92.9h.8v.8h-.8zM363.5 108.4h.8v.8h-.8zM351.5 98.7h.8v.8h-.8zM345.4 96.8h.8v.8h-.8zM369.1 86.8h.8v.8h-.8zM367.1 95.9h.8v.8h-.8zM368.0 78.9h.8v.8h-.8zM355.7 82.4h.8v.8h-.8zM366.1 93.5h.8v.8h-.8zM362.1 88.1h.8v.8h-.8zM366.1 91.7h.8v.8h-.8zM368.0 76.4h.8v.8h-.8zM372.2 85.7h.8v.8h-.8zM357.2 93.3h.8v.8h-.8zM365.4 93.7h.8v.8h-.8zM349.8 79.5h.8v.8h-.8zM350.1 87.8h.8v.8h-.8zM366.7 89.9h.8v.8h-.8zM361.3 74.8h.8v.8h-.8zM352.7 87.3h.8v.8h-.8zM352.3 86.1h.8v.8h-.8zM363.8 79.1h.8v.8h-.8zM357.2 71.2h.8v.8h-.8zM355.8 89.0h.8v.8h-.8zM358.9 82.2h.8v.8h-.8zM369.0 87.1h.8v.8h-.8zM350.4 78.2h.8v.8h-.8zM351.6 85.7h.8v.8h-.8zM382.0 92.4h.8v.8h-.8zM361.7 82.2h.8v.8h-.8zM345.4 90.4h.8v.8h-.8zM350.9 88.6h.8v.8h-.8zM361.6 86.5h.8v.8h-.8zM373.3 77.9h.8v.8h-.8zM358.2 92.8h.8v.8h-.8zM365.2 87.1h.8v.8h-.8zM357.6 90.4h.8v.8h-.8zM350.9 102.5h.8v.8h-.8zM354.2 90.5h.8v.8h-.8zM355.1 87.8h.8v.8h-.8zM351.1 91.2h.8v.8h-.8zM368.4 87.3h.8v.8h-.8zM358.5 88.9h.8v.8h-.8zM365.5 92.9h.8v.8h-.8zM354.1 77.2h.8v.8h-.8zM362.7 98.8h.8v.8h-.8zM357.9 93.5h.8v.8h-.8zM360.7 99.2h.8v.8h-.8zM368.0 95.6h.8v.8h-.8zM354.9 87.7h.8v.8h-.8zM360.9 87.2h.8v.8h-.8zM379.2 104.6h.8v.8h-.8zM354.1 80.7h.8v.8h-.8zM352.0 83.7h.8v.8h-.8zM348.2 86.7h.8v.8h-.8zM357.6 102.6h.8v.8h-.8zM358.0 88.3h.8v.8h-.8zM347.7 90.7h.8v.8h-.8zM362.5 71.9h.8v.8h-.8zM371.6 105.9h.8v.8h-.8zM360.3 73.9h.8v.8h-.8zM352.7 104.0h.8v.8h-.8zM377.3 95.6h.8v.8h-.8zM353.0 94.6h.8v.8h-.8zM356.1 100.8h.8v.8h-.8zM364.9 87.4h.8v.8h-.8zM365.1 92.6h.8v.8h-.8zM361.1 96.3h.8v.8h-.8zM350.3 81.5h.8v.8h-.8zM358.7 91.5h.8v.8h-.8zM364.3 81.2h.8v.8h-.8zM368.2 97.7h.8v.8h-.8zM354.6 95.5h.8v.8h-.8zM359.6 88.7h.8v.8h-.8zM354.5 80.1h.8v.8h-.8zM359.2 93.2h.8v.8h-.8zM369.8 104.3h.8v.8h-.8zM365.7 89.1h.8v.8h-.8zM353.9 76.4h.8v.8h-.8zM344.0 83.7h.8v.8h-.8zM364.6 90.2h.8v.8h-.8zM358.8 100.2h.8v.8h-.8zM354.9 74.1h.8v.8h-.8zM356.7 98.2h.8v.8h-.8zM359.0 83.9h.8v.8h-.8zM354.6 99.9h.8v.8h-.8zM352.5 75.6h.8v.8h-.8zM345.7 82.2h.8v.8h-.8zM348.1 88.4h.8v.8h-.8zM365.2 76.9h.8v.8h-.8zM370.5 93.8h.8v.8h-.8zM357.6 104.3h.8v.8h-.8zM377.7 76.4h.8v.8h-.8zM378.3 89.8h.8v.8h-.8zM373.9 96.3h.8v.8h-.8z" fill="#fff" fill-opacity="0.08"/>
<path d="M360.9 50.6h.8v.8h-.8zM368.1 60.0h.8v.8h-.8zM365.6 63.3h.8v.8h-.8zM353.1 65.0h.8v.8h-.8zM354.2 65.1h.8v.8h-.8zM357.8 65.1h.8v.8h-.8zM357.2 75.3h.8v.8h-.8zM355.8 59.3h.8v.8h-.8zM357.9 72.9h.8v.8h-.8zM354.8 74.2h.8v.8h-.8zM359.6 70.0h.8v.8h-.8zM357.4 63.0h.8v.8h-.8zM359.9 63.8h.8v.8h-.8zM356.0 71.5h.8v.8h-.8zM365.1 62.2h.8v.8h-.8zM360.5 62.2h.8v.8h-.8zM368.3 61.9h.8v.8h-.8zM357.1 57.8h.8v.8h-.8zM357.3 63.1h.8v.8h-.8zM360.1 69.0h.8v.8h-.8zM366.4 64.6h.8v.8h-.8zM363.2 59.7h.8v.8h-.8zM361.7 67.8h.8v.8h-.8zM363.3 69.4h.8v.8h-.8zM359.2 59.1h.8v.8h-.8zM361.2 64.5h.8v.8h-.8zM354.3 55.2h.8v.8h-.8zM357.8 63.1h.8v.8h-.8zM364.7 67.1h.8v.8h-.8zM361.8 62.2h.8v.8h-.8zM356.9 66.2h.8v.8h-.8zM356.4 58.2h.8v.8h-.8zM354.9 61.1h.8v.8h-.8zM359.0 81.4h.8v.8h-.8zM355.2 67.0h.8v.8h-.8zM360.8 70.3h.8v.8h-.8zM358.1 60.4h.8v.8h-.8zM354.8 61.0h.8v.8h-.8zM367.3 64.9h.8v.8h-.8zM355.8 60.8h.8v.8h-.8zM358.0 68.4h.8v.8h-.8zM354.7 70.9h.8v.8h-.8zM353.4 61.1h.8v.8h-.8zM361.0 65.4h.8v.8h-.8zM363.8 60.5h.8v.8h-.8zM360.8 63.4h.8v.8h-.8zM357.7 53.4h.8v.8h-.8zM352.3 75.0h.8v.8h-.8zM362.9 68.7h.8v.8h-.8z" fill="#fff" fill-opacity="0.1"/>
<path d="M359.6 62.8h.8v.8h-.8zM351.6 75.7h.8v.8h-.8zM357.4 68.0h.8v.8h-.8zM359.1 62.4h.8v.8h-.8zM357.7 62.5h.8v.8h-.8zM354.3 71.5h.8v.8h-.8zM360.5 54.1h.8v.8h-.8zM356.8 75.7h.8v.8h-.8zM354.2 62.0h.8v.8h-.8zM353.1 59.3h.8v.8h-.8zM355.4 75.8h.8v.8h-.8zM358.6 60.4h.8v.8h-.8zM358.2 65.9h.8v.8h-.8zM357.8 79.4h.8v.8h-.8zM359.6 54.5h.8v.8h-.8zM360.0 59.8h.8v.8h-.8zM367.5 67.0h.8v.8h-.8zM357.9 73.2h.8v.8h-.8zM361.8 70.1h.8v.8h-.8zM353.4 78.0h.8v.8h-.8zM354.3 62.0h.8v.8h-.8zM361.9 62.3h.8v.8h-.8zM358.7 63.0h.8v.8h-.8zM365.3 72.3h.8v.8h-.8zM360.7 57.7h.8v.8h-.8zM353.4 68.5h.8v.8h-.8zM358.8 66.7h.8v.8h-.8zM359.0 66.7h.8v.8h-.8zM359.4 60.8h.8v.8h-.8zM356.1 63.4h.8v.8h-.8zM356.9 66.3h.8v.8h-.8zM364.7 60.2h.8v.8h-.8zM361.1 69.4h.8v.8h-.8zM353.3 68.0h.8v.8h-.8zM366.5 53.2h.8v.8h-.8zM361.7 51.7h.8v.8h-.8zM352.4 56.3h.8v.8h-.8zM363.4 60.1h.8v.8h-.8zM359.5 61.0h.8v.8h-.8zM358.6 60.7h.8v.8h-.8zM349.9 72.1h.8v.8h-.8zM363.5 79.0h.8v.8h-.8zM357.2 58.8h.8v.8h-.8zM360.1 61.7h.8v.8h-.8zM363.2 72.6h.8v.8h-.8zM357.4 69.7h.8v.8h-.8zM358.1 64.3h.8v.8h-.8zM360.8 72.6h.8v.8h-.8zM350.6 68.8h.8v.8h-.8zM352.7 72.3h.8v.8h-.8zM357.1 53.8h.8v.8h-.8zM356.7 59.7h.8v.8h-.8zM359.0 69.2h.8v.8h-.8zM357.9 64.4h.8v.8h-.8zM357.7 67.1h.8v.8h-.8zM359.5 61.4h.8v.8h-.8zM355.7 58.0h.8v.8h-.8zM356.3 66.5h.8v.8h-.8zM356.8 53.0h.8v.8h-.8zM358.0 68.6h.8v.8h-.8zM357.5 58.7h.8v.8h-.8zM351.0 68.1h.8v.8h-.8zM358.7 50.5h.8v.8h-.8zM357.7 56.6h.8v.8h-.8zM359.4 56.1h.8v.8h-.8zM367.0 68.1h.8v.8h-.8zM366.6 62.0h.8v.8h-.8zM363.2 71.9h.8v.8h-.8z" fill="#fff" fill-opacity="0.25"/>
<path d="M355.2 65.1h.8v.8h-.8zM362.5 67.9h.8v.8h-.8zM356.4 61.0h.8v.8h-.8zM362.5 64.5h.8v.8h-.8zM362.5 76.7h.8v.8h-.8zM353.6 59.2h.8v.8h-.8zM363.9 65.6h.8v.8h-.8zM364.2 46.3h.8v.8h-.8zM356.5 76.2h.8v.8h-.8zM356.1 72.0h.8v.8h-.8zM359.0 74.2h.8v.8h-.8zM363.6 72.7h.8v.8h-.8zM361.2 74.2h.8v.8h-.8zM362.7 62.4h.8v.8h-.8zM359.0 62.9h.8v.8h-.8zM363.3 56.9h.8v.8h-.8zM358.4 64.2h.8v.8h-.8zM355.5 64.0h.8v.8h-.8zM357.0 67.1h.8v.8h-.8zM362.5 75.8h.8v.8h-.8zM359.8 61.5h.8v.8h-.8zM363.2 73.3h.8v.8h-.8zM354.5 60.7h.8v.8h-.8zM356.9 63.4h.8v.8h-.8zM355.0 62.5h.8v.8h-.8zM358.0 68.1h.8v.8h-.8zM351.0 69.2h.8v.8h-.8zM363.5 71.2h.8v.8h-.8zM369.2 55.6h.8v.8h-.8zM358.8 62.4h.8v.8h-.8zM363.9 70.5h.8v.8h-.8zM355.4 62.3h.8v.8h-.8zM364.8 59.4h.8v.8h-.8zM354.8 69.5h.8v.8h-.8zM366.1 65.2h.8v.8h-.8zM361.0 77.6h.8v.8h-.8zM360.2 62.9h.8v.8h-.8zM353.9 64.3h.8v.8h-.8zM356.4 64.8h.8v.8h-.8zM353.0 63.3h.8v.8h-.8zM361.8 60.6h.8v.8h-.8zM353.1 52.1h.8v.8h-.8zM356.7 55.4h.8v.8h-.8zM353.7 62.1h.8v.8h-.8zM362.1 72.1h.8v.8h-.8zM356.6 75.7h.8v.8h-.8zM360.1 64.1h.8v.8h-.8zM364.0 57.8h.8v.8h-.8zM359.5 64.8h.8v.8h-.8zM355.3 74.4h.8v.8h-.8zM348.9 81.1h.8v.8h-.8z" fill="#fff" fill-opacity="0.35"/>
<ellipse cx="359" cy="65.4" rx="8.96" ry="13.30" transform="rotate(0 359 65.4)" fill="url(#soft)" opacity="0.12"/>
<ellipse cx="372" cy="88.5" rx="36.40" ry="18.90" transform="rotate(0 372 88.5)" fill="url(#soft)" opacity="0.1"/>
<ellipse cx="386" cy="87.5" rx="20.30" ry="12.32" transform="rotate(0 386 87.5)" fill="url(#soft)" opacity="0.52"/>
<ellipse cx="359.7" cy="88.5" rx="15.40" ry="15.40" transform="rotate(0 359.7 88.5)" fill="url(#cone)" opacity="1.0"/>
</svg></g>
<g filter="url(#cmap)"><rect x="148.0" y="184.4" width="77.5" height="76.99999999999997" fill="#000"/>
<svg x="148.0" y="184.4" width="77.5" height="76.99999999999997" viewBox="148.0 184.4 77.5 76.99999999999997" overflow="hidden">
<path d="M168.8 233.9h.8v.8h-.8zM167.1 236.2h.8v.8h-.8zM166.5 230.7h.8v.8h-.8zM165.9 238.4h.8v.8h-.8zM172.9 231.3h.8v.8h-.8zM168.6 234.1h.8v.8h-.8zM166.8 239.5h.8v.8h-.8zM163.2 230.3h.8v.8h-.8zM167.5 225.6h.8v.8h-.8zM168.5 236.6h.8v.8h-.8zM170.0 237.3h.8v.8h-.8zM168.1 232.4h.8v.8h-.8zM165.5 242.7h.8v.8h-.8zM168.5 239.6h.8v.8h-.8zM165.3 225.6h.8v.8h-.8zM169.7 239.7h.8v.8h-.8zM163.4 228.2h.8v.8h-.8zM170.2 235.7h.8v.8h-.8zM166.3 232.7h.8v.8h-.8zM169.0 246.5h.8v.8h-.8zM171.2 227.3h.8v.8h-.8zM170.2 230.8h.8v.8h-.8zM170.5 225.1h.8v.8h-.8zM164.1 234.3h.8v.8h-.8zM169.9 223.4h.8v.8h-.8zM166.4 242.3h.8v.8h-.8zM169.0 237.4h.8v.8h-.8zM172.7 230.1h.8v.8h-.8zM168.3 245.9h.8v.8h-.8zM156.8 233.9h.8v.8h-.8zM168.4 243.4h.8v.8h-.8zM163.3 235.0h.8v.8h-.8zM169.5 236.4h.8v.8h-.8zM169.0 234.0h.8v.8h-.8zM168.0 226.9h.8v.8h-.8zM161.5 242.3h.8v.8h-.8zM168.9 221.0h.8v.8h-.8zM167.8 242.5h.8v.8h-.8zM169.7 231.8h.8v.8h-.8zM172.9 235.8h.8v.8h-.8zM169.0 225.0h.8v.8h-.8zM164.5 231.9h.8v.8h-.8zM169.8 231.5h.8v.8h-.8zM163.9 238.0h.8v.8h-.8zM168.8 234.6h.8v.8h-.8zM164.3 239.1h.8v.8h-.8zM166.5 249.2h.8v.8h-.8zM169.6 232.0h.8v.8h-.8zM164.0 235.7h.8v.8h-.8zM167.6 226.6h.8v.8h-.8zM164.3 232.3h.8v.8h-.8zM162.8 246.6h.8v.8h-.8zM167.7 231.1h.8v.8h-.8zM172.1 232.4h.8v.8h-.8zM167.2 235.8h.8v.8h-.8zM169.6 243.9h.8v.8h-.8zM165.6 235.2h.8v.8h-.8zM166.7 235.3h.8v.8h-.8zM168.6 238.6h.8v.8h-.8zM163.2 233.2h.8v.8h-.8zM169.3 229.9h.8v.8h-.8zM166.8 228.5h.8v.8h-.8zM171.8 231.9h.8v.8h-.8zM169.6 225.1h.8v.8h-.8zM163.1 233.4h.8v.8h-.8zM167.9 241.6h.8v.8h-.8zM166.4 230.9h.8v.8h-.8zM166.5 226.9h.8v.8h-.8zM167.1 223.0h.8v.8h-.8zM166.9 232.0h.8v.8h-.8zM168.1 232.6h.8v.8h-.8zM167.1 224.8h.8v.8h-.8zM171.8 219.1h.8v.8h-.8zM170.8 253.4h.8v.8h-.8zM164.6 227.4h.8v.8h-.8zM169.5 233.7h.8v.8h-.8zM168.2 229.9h.8v.8h-.8zM168.6 226.5h.8v.8h-.8zM170.0 242.2h.8v.8h-.8zM168.2 249.3h.8v.8h-.8zM167.9 242.1h.8v.8h-.8zM169.7 228.3h.8v.8h-.8z" fill="#fff" fill-opacity="0.04"/>
<path d="M161.1 216.6h.8v.8h-.8zM161.6 208.0h.8v.8h-.8zM157.3 214.4h.8v.8h-.8zM167.9 210.0h.8v.8h-.8zM159.1 212.2h.8v.8h-.8zM173.5 206.9h.8v.8h-.8zM170.4 211.5h.8v.8h-.8zM164.3 220.2h.8v.8h-.8zM172.7 216.6h.8v.8h-.8zM174.7 205.8h.8v.8h-.8zM163.5 208.9h.8v.8h-.8zM161.5 214.7h.8v.8h-.8zM165.2 215.2h.8v.8h-.8zM170.9 228.5h.8v.8h-.8zM172.6 200.6h.8v.8h-.8zM169.4 208.5h.8v.8h-.8zM165.9 188.5h.8v.8h-.8zM163.9 222.9h.8v.8h-.8zM160.7 222.2h.8v.8h-.8zM163.2 224.8h.8v.8h-.8zM172.5 224.7h.8v.8h-.8zM159.1 204.5h.8v.8h-.8zM153.1 218.8h.8v.8h-.8zM178.7 211.0h.8v.8h-.8zM170.5 213.1h.8v.8h-.8zM154.8 208.4h.8v.8h-.8zM165.1 212.3h.8v.8h-.8zM164.6 201.5h.8v.8h-.8zM156.7 203.7h.8v.8h-.8zM169.8 208.4h.8v.8h-.8zM166.4 214.6h.8v.8h-.8zM166.9 221.1h.8v.8h-.8zM167.7 226.3h.8v.8h-.8zM176.3 223.7h.8v.8h-.8zM163.2 211.7h.8v.8h-.8zM168.2 215.7h.8v.8h-.8zM163.5 215.0h.8v.8h-.8zM172.5 208.3h.8v.8h-.8zM171.2 209.9h.8v.8h-.8zM162.4 198.7h.8v.8h-.8zM162.2 205.4h.8v.8h-.8zM179.0 225.0h.8v.8h-.8zM173.8 228.3h.8v.8h-.8zM164.2 220.2h.8v.8h-.8zM166.7 213.3h.8v.8h-.8zM169.8 203.5h.8v.8h-.8zM166.7 228.4h.8v.8h-.8zM163.8 189.1h.8v.8h-.8zM163.1 208.3h.8v.8h-.8zM170.6 215.5h.8v.8h-.8zM155.0 200.5h.8v.8h-.8zM173.5 208.0h.8v.8h-.8zM169.8 216.8h.8v.8h-.8zM164.9 210.9h.8v.8h-.8zM164.7 221.8h.8v.8h-.8zM168.6 203.8h.8v.8h-.8zM163.0 226.6h.8v.8h-.8zM159.6 210.2h.8v.8h-.8zM156.3 218.5h.8v.8h-.8zM170.3 215.8h.8v.8h-.8zM168.3 210.2h.8v.8h-.8zM161.4 214.6h.8v.8h-.8zM162.9 207.3h.8v.8h-.8zM170.7 210.0h.8v.8h-.8zM179.9 196.3h.8v.8h-.8zM165.3 218.3h.8v.8h-.8zM167.1 226.0h.8v.8h-.8zM161.2 212.8h.8v.8h-.8zM168.3 220.5h.8v.8h-.8zM170.9 215.9h.8v.8h-.8zM169.4 221.6h.8v.8h-.8zM168.9 213.0h.8v.8h-.8zM163.8 212.3h.8v.8h-.8zM169.9 229.0h.8v.8h-.8zM165.4 218.2h.8v.8h-.8zM163.2 211.3h.8v.8h-.8zM178.7 205.4h.8v.8h-.8zM171.1 214.6h.8v.8h-.8zM179.6 216.3h.8v.8h-.8zM166.9 205.0h.8v.8h-.8zM174.1 206.2h.8v.8h-.8zM167.8 214.8h.8v.8h-.8zM165.5 219.2h.8v.8h-.8zM171.5 214.0h.8v.8h-.8zM175.5 214.6h.8v.8h-.8zM174.5 204.1h.8v.8h-.8zM157.3 210.5h.8v.8h-.8zM170.2 199.0h.8v.8h-.8zM166.4 221.4h.8v.8h-.8zM164.2 216.7h.8v.8h-.8zM161.0 204.9h.8v.8h-.8zM162.5 192.2h.8v.8h-.8zM175.6 211.8h.8v.8h-.8zM174.2 220.0h.8v.8h-.8zM175.0 239.5h.8v.8h-.8zM168.8 212.8h.8v.8h-.8zM164.0 204.4h.8v.8h-.8zM168.3 219.9h.8v.8h-.8zM167.5 205.3h.8v.8h-.8zM168.5 221.9h.8v.8h-.8zM163.5 228.4h.8v.8h-.8zM162.4 209.1h.8v.8h-.8zM169.0 214.8h.8v.8h-.8zM161.4 210.5h.8v.8h-.8zM166.2 201.3h.8v.8h-.8zM169.5 214.0h.8v.8h-.8zM163.2 206.9h.8v.8h-.8zM166.7 217.8h.8v.8h-.8zM159.2 198.4h.8v.8h-.8zM154.9 219.9h.8v.8h-.8zM171.0 215.6h.8v.8h-.8zM156.1 215.1h.8v.8h-.8zM162.2 201.8h.8v.8h-.8zM181.0 224.9h.8v.8h-.8zM168.7 208.8h.8v.8h-.8zM170.9 213.3h.8v.8h-.8zM169.4 204.1h.8v.8h-.8zM163.1 197.6h.8v.8h-.8zM162.9 217.1h.8v.8h-.8zM170.6 221.0h.8v.8h-.8zM166.6 203.1h.8v.8h-.8zM165.8 210.2h.8v.8h-.8zM163.7 214.5h.8v.8h-.8zM169.0 210.3h.8v.8h-.8zM164.7 211.4h.8v.8h-.8zM169.5 222.7h.8v.8h-.8zM162.2 204.5h.8v.8h-.8zM159.8 210.6h.8v.8h-.8zM172.2 198.5h.8v.8h-.8zM174.6 219.7h.8v.8h-.8zM164.7 214.4h.8v.8h-.8zM166.4 218.5h.8v.8h-.8zM160.3 207.3h.8v.8h-.8zM166.9 221.7h.8v.8h-.8zM167.9 207.8h.8v.8h-.8zM168.9 209.3h.8v.8h-.8zM157.3 210.4h.8v.8h-.8zM154.7 213.8h.8v.8h-.8zM167.1 217.8h.8v.8h-.8zM159.4 215.5h.8v.8h-.8zM165.8 210.0h.8v.8h-.8zM177.6 220.6h.8v.8h-.8zM169.2 213.6h.8v.8h-.8zM170.8 218.0h.8v.8h-.8zM162.5 211.6h.8v.8h-.8zM161.1 208.7h.8v.8h-.8zM167.8 202.5h.8v.8h-.8zM175.3 210.4h.8v.8h-.8zM169.6 220.4h.8v.8h-.8zM161.9 217.0h.8v.8h-.8zM161.7 213.6h.8v.8h-.8zM164.6 187.6h.8v.8h-.8zM168.2 206.7h.8v.8h-.8zM166.5 210.6h.8v.8h-.8zM166.3 214.5h.8v.8h-.8zM171.9 226.8h.8v.8h-.8zM171.5 219.0h.8v.8h-.8zM171.0 206.8h.8v.8h-.8zM163.0 213.9h.8v.8h-.8zM165.0 215.9h.8v.8h-.8zM165.5 210.4h.8v.8h-.8zM166.1 220.8h.8v.8h-.8zM164.8 220.9h.8v.8h-.8zM174.7 230.8h.8v.8h-.8zM167.7 220.5h.8v.8h-.8zM172.3 211.0h.8v.8h-.8zM162.8 204.1h.8v.8h-.8zM166.3 215.0h.8v.8h-.8zM160.5 210.6h.8v.8h-.8zM170.5 208.7h.8v.8h-.8zM164.5 207.6h.8v.8h-.8zM168.8 222.8h.8v.8h-.8zM167.7 219.7h.8v.8h-.8zM166.7 202.3h.8v.8h-.8zM157.2 216.3h.8v.8h-.8zM159.4 212.5h.8v.8h-.8zM167.7 208.9h.8v.8h-.8zM161.3 225.2h.8v.8h-.8zM176.0 221.2h.8v.8h-.8zM166.9 217.9h.8v.8h-.8zM173.6 224.4h.8v.8h-.8zM158.1 205.4h.8v.8h-.8zM167.6 219.6h.8v.8h-.8zM170.0 217.2h.8v.8h-.8zM160.2 212.3h.8v.8h-.8zM173.4 209.7h.8v.8h-.8zM167.0 225.1h.8v.8h-.8zM162.7 203.7h.8v.8h-.8zM167.5 213.9h.8v.8h-.8zM165.8 202.7h.8v.8h-.8zM164.5 232.2h.8v.8h-.8zM179.8 201.5h.8v.8h-.8zM167.5 219.5h.8v.8h-.8zM166.7 227.0h.8v.8h-.8zM170.8 220.7h.8v.8h-.8zM171.2 207.0h.8v.8h-.8zM165.3 219.9h.8v.8h-.8zM167.7 207.7h.8v.8h-.8zM171.9 210.6h.8v.8h-.8zM173.9 221.0h.8v.8h-.8z" fill="#fff" fill-opacity="0.07"/>
<path d="M170.8 240.2h.8v.8h-.8zM168.5 237.3h.8v.8h-.8zM168.2 233.3h.8v.8h-.8zM169.3 237.5h.8v.8h-.8zM162.2 248.1h.8v.8h-.8zM171.3 233.2h.8v.8h-.8zM166.9 242.4h.8v.8h-.8zM162.9 242.5h.8v.8h-.8zM172.8 224.5h.8v.8h-.8zM164.9 237.8h.8v.8h-.8zM165.6 238.1h.8v.8h-.8zM166.4 231.3h.8v.8h-.8zM168.1 239.7h.8v.8h-.8zM170.8 227.5h.8v.8h-.8zM164.2 247.7h.8v.8h-.8zM169.2 231.1h.8v.8h-.8zM168.1 235.9h.8v.8h-.8zM162.6 235.1h.8v.8h-.8zM165.6 235.3h.8v.8h-.8zM165.5 246.3h.8v.8h-.8zM169.6 236.8h.8v.8h-.8zM166.2 224.7h.8v.8h-.8zM173.7 241.2h.8v.8h-.8zM165.5 241.6h.8v.8h-.8zM166.2 225.4h.8v.8h-.8zM166.2 236.0h.8v.8h-.8zM168.9 232.7h.8v.8h-.8zM168.3 218.5h.8v.8h-.8zM165.2 229.3h.8v.8h-.8zM168.2 237.6h.8v.8h-.8zM170.8 226.3h.8v.8h-.8zM168.8 231.2h.8v.8h-.8zM172.9 230.7h.8v.8h-.8zM167.4 232.7h.8v.8h-.8zM168.0 229.8h.8v.8h-.8zM170.9 247.6h.8v.8h-.8zM164.4 239.9h.8v.8h-.8zM167.7 229.2h.8v.8h-.8zM167.9 233.0h.8v.8h-.8zM165.4 233.1h.8v.8h-.8zM171.4 233.4h.8v.8h-.8zM172.8 219.5h.8v.8h-.8zM168.7 227.2h.8v.8h-.8zM167.9 244.7h.8v.8h-.8zM171.4 225.9h.8v.8h-.8zM164.9 226.8h.8v.8h-.8zM164.1 228.7h.8v.8h-.8zM172.3 241.6h.8v.8h-.8zM164.2 228.5h.8v.8h-.8zM164.8 240.0h.8v.8h-.8zM161.1 235.7h.8v.8h-.8zM168.1 243.3h.8v.8h-.8zM164.6 238.6h.8v.8h-.8zM166.1 242.5h.8v.8h-.8zM167.3 236.5h.8v.8h-.8zM171.1 257.2h.8v.8h-.8zM165.2 244.8h.8v.8h-.8zM170.5 228.8h.8v.8h-.8zM165.9 235.6h.8v.8h-.8zM166.9 236.8h.8v.8h-.8zM169.8 245.6h.8v.8h-.8zM170.3 229.3h.8v.8h-.8zM170.2 247.8h.8v.8h-.8zM163.6 230.6h.8v.8h-.8zM167.3 237.5h.8v.8h-.8zM172.0 239.7h.8v.8h-.8zM167.1 246.6h.8v.8h-.8zM164.3 228.3h.8v.8h-.8zM170.4 231.6h.8v.8h-.8zM166.3 241.5h.8v.8h-.8zM168.0 229.3h.8v.8h-.8zM165.5 232.5h.8v.8h-.8zM166.5 239.5h.8v.8h-.8zM162.4 226.1h.8v.8h-.8zM164.1 229.3h.8v.8h-.8zM164.3 230.3h.8v.8h-.8zM167.4 241.9h.8v.8h-.8zM160.1 248.0h.8v.8h-.8zM172.8 239.4h.8v.8h-.8zM166.4 242.3h.8v.8h-.8zM164.1 235.8h.8v.8h-.8z" fill="#fff" fill-opacity="0.08"/>
<path d="M164.0 224.1h.8v.8h-.8zM167.7 231.3h.8v.8h-.8zM168.3 235.6h.8v.8h-.8zM168.7 234.3h.8v.8h-.8zM165.6 238.2h.8v.8h-.8zM173.1 236.4h.8v.8h-.8zM165.3 240.5h.8v.8h-.8zM163.4 235.6h.8v.8h-.8zM166.1 237.3h.8v.8h-.8zM168.0 231.7h.8v.8h-.8zM164.3 234.3h.8v.8h-.8zM166.2 226.5h.8v.8h-.8zM168.3 239.0h.8v.8h-.8zM166.4 231.8h.8v.8h-.8zM166.0 234.3h.8v.8h-.8zM170.0 237.5h.8v.8h-.8zM165.7 227.9h.8v.8h-.8zM173.5 233.6h.8v.8h-.8zM170.2 245.5h.8v.8h-.8zM163.1 226.9h.8v.8h-.8zM166.9 241.2h.8v.8h-.8zM162.2 230.0h.8v.8h-.8zM163.6 232.2h.8v.8h-.8zM163.2 247.9h.8v.8h-.8zM171.9 230.8h.8v.8h-.8zM164.6 238.7h.8v.8h-.8zM161.1 231.6h.8v.8h-.8zM165.1 234.2h.8v.8h-.8zM171.1 244.3h.8v.8h-.8zM169.4 223.0h.8v.8h-.8zM170.3 224.5h.8v.8h-.8zM170.8 232.7h.8v.8h-.8zM166.8 232.0h.8v.8h-.8zM168.7 227.3h.8v.8h-.8zM171.4 240.4h.8v.8h-.8zM163.5 254.4h.8v.8h-.8zM165.6 226.3h.8v.8h-.8zM168.0 240.3h.8v.8h-.8zM161.5 227.5h.8v.8h-.8zM164.7 240.5h.8v.8h-.8zM163.4 241.2h.8v.8h-.8zM165.2 217.3h.8v.8h-.8zM166.1 234.4h.8v.8h-.8zM167.2 232.5h.8v.8h-.8zM167.3 229.2h.8v.8h-.8zM166.1 233.8h.8v.8h-.8zM169.3 230.9h.8v.8h-.8zM169.9 236.8h.8v.8h-.8zM171.8 234.8h.8v.8h-.8zM166.3 229.4h.8v.8h-.8zM169.9 238.0h.8v.8h-.8zM167.4 224.9h.8v.8h-.8zM172.0 241.1h.8v.8h-.8zM160.7 224.4h.8v.8h-.8zM170.3 244.4h.8v.8h-.8zM168.7 233.9h.8v.8h-.8zM167.8 232.2h.8v.8h-.8zM160.7 237.2h.8v.8h-.8zM164.7 239.5h.8v.8h-.8zM163.0 228.8h.8v.8h-.8zM170.3 240.9h.8v.8h-.8zM168.2 231.6h.8v.8h-.8zM164.8 229.4h.8v.8h-.8zM166.3 240.5h.8v.8h-.8zM168.4 232.2h.8v.8h-.8zM172.8 235.4h.8v.8h-.8zM167.8 235.1h.8v.8h-.8zM164.1 229.6h.8v.8h-.8zM166.4 230.8h.8v.8h-.8z" fill="#fff" fill-opacity="0.15"/>
<path d="M165.7 233.2h.8v.8h-.8zM163.2 225.0h.8v.8h-.8zM169.2 232.6h.8v.8h-.8zM167.8 238.2h.8v.8h-.8zM166.7 227.2h.8v.8h-.8zM164.8 239.5h.8v.8h-.8zM172.4 238.3h.8v.8h-.8zM165.4 242.7h.8v.8h-.8zM165.6 243.5h.8v.8h-.8zM170.4 229.9h.8v.8h-.8zM168.0 234.5h.8v.8h-.8zM167.5 234.7h.8v.8h-.8zM167.6 234.9h.8v.8h-.8zM166.1 251.7h.8v.8h-.8zM168.1 234.1h.8v.8h-.8zM167.9 225.0h.8v.8h-.8zM174.3 233.9h.8v.8h-.8zM166.6 237.3h.8v.8h-.8zM163.2 234.6h.8v.8h-.8zM167.8 232.0h.8v.8h-.8zM165.4 231.9h.8v.8h-.8zM164.8 228.5h.8v.8h-.8zM168.6 225.9h.8v.8h-.8zM165.6 233.9h.8v.8h-.8zM164.1 236.9h.8v.8h-.8zM170.0 249.0h.8v.8h-.8zM166.1 244.2h.8v.8h-.8zM163.3 236.4h.8v.8h-.8zM164.8 236.8h.8v.8h-.8zM168.0 235.4h.8v.8h-.8zM163.3 238.2h.8v.8h-.8zM166.6 220.4h.8v.8h-.8zM163.9 227.5h.8v.8h-.8zM169.6 241.0h.8v.8h-.8zM166.8 237.5h.8v.8h-.8zM168.2 234.6h.8v.8h-.8zM173.8 238.6h.8v.8h-.8zM170.6 233.4h.8v.8h-.8zM174.5 235.5h.8v.8h-.8zM170.8 242.6h.8v.8h-.8zM164.5 221.9h.8v.8h-.8zM169.3 231.6h.8v.8h-.8zM167.5 234.2h.8v.8h-.8zM169.4 237.7h.8v.8h-.8zM170.4 231.4h.8v.8h-.8zM164.6 235.9h.8v.8h-.8zM169.3 228.8h.8v.8h-.8zM164.1 241.9h.8v.8h-.8zM166.2 231.6h.8v.8h-.8zM167.2 228.4h.8v.8h-.8zM165.5 230.2h.8v.8h-.8zM166.4 227.9h.8v.8h-.8zM165.2 234.3h.8v.8h-.8zM164.8 216.9h.8v.8h-.8zM165.8 228.9h.8v.8h-.8zM165.4 244.4h.8v.8h-.8zM162.6 228.9h.8v.8h-.8zM169.2 231.1h.8v.8h-.8zM172.3 236.6h.8v.8h-.8zM168.6 230.0h.8v.8h-.8zM167.8 247.9h.8v.8h-.8zM164.0 259.6h.8v.8h-.8zM166.5 231.8h.8v.8h-.8zM169.9 227.8h.8v.8h-.8zM166.3 237.3h.8v.8h-.8zM165.5 229.2h.8v.8h-.8zM167.0 228.1h.8v.8h-.8zM163.5 236.1h.8v.8h-.8z" fill="#fff" fill-opacity="0.22"/>
<ellipse cx="167" cy="234" rx="5.60" ry="12.60" transform="rotate(0 167 234)" fill="url(#soft)" opacity="0.12"/>
<ellipse cx="166.8" cy="214" rx="11.90" ry="18.20" transform="rotate(0 166.8 214)" fill="url(#soft)" opacity="0.1"/>
<ellipse cx="166.8" cy="214" rx="8.82" ry="16.24" transform="rotate(0 166.8 214)" fill="url(#cone)" opacity="0.98"/>
</svg></g>
<g filter="url(#cmap)"><rect x="240.7" y="184.4" width="78.19999999999999" height="77.1" fill="#000"/>
<svg x="240.7" y="184.4" width="78.19999999999999" height="77.1" viewBox="240.7 184.4 78.19999999999999 77.1" overflow="hidden">
<path d="M276.8 211.3h.8v.8h-.8zM283.5 205.6h.8v.8h-.8zM271.2 218.0h.8v.8h-.8zM301.7 214.9h.8v.8h-.8zM276.1 201.9h.8v.8h-.8zM288.0 213.2h.8v.8h-.8zM277.8 219.3h.8v.8h-.8zM286.6 213.6h.8v.8h-.8zM281.9 219.1h.8v.8h-.8zM283.0 205.0h.8v.8h-.8zM279.3 205.4h.8v.8h-.8zM275.1 208.9h.8v.8h-.8zM284.0 217.5h.8v.8h-.8zM278.8 212.5h.8v.8h-.8zM298.4 226.4h.8v.8h-.8zM284.8 207.8h.8v.8h-.8zM291.4 211.4h.8v.8h-.8zM276.1 211.2h.8v.8h-.8zM277.1 203.5h.8v.8h-.8zM297.3 205.0h.8v.8h-.8zM283.8 216.3h.8v.8h-.8zM285.9 214.8h.8v.8h-.8zM286.0 203.7h.8v.8h-.8zM281.8 204.7h.8v.8h-.8zM286.3 218.3h.8v.8h-.8zM283.0 213.4h.8v.8h-.8zM280.4 212.5h.8v.8h-.8zM279.5 212.0h.8v.8h-.8zM273.3 216.5h.8v.8h-.8zM293.5 204.5h.8v.8h-.8zM294.1 204.2h.8v.8h-.8zM279.9 209.2h.8v.8h-.8zM271.6 207.9h.8v.8h-.8zM275.9 212.2h.8v.8h-.8zM297.6 208.7h.8v.8h-.8zM283.1 206.5h.8v.8h-.8zM285.1 210.3h.8v.8h-.8zM293.6 214.4h.8v.8h-.8zM280.9 205.5h.8v.8h-.8zM274.9 213.5h.8v.8h-.8zM287.7 208.9h.8v.8h-.8zM279.0 212.2h.8v.8h-.8zM280.1 207.0h.8v.8h-.8zM283.4 208.7h.8v.8h-.8zM277.9 214.5h.8v.8h-.8zM271.5 210.6h.8v.8h-.8zM277.1 221.1h.8v.8h-.8zM283.0 205.7h.8v.8h-.8zM290.3 207.8h.8v.8h-.8zM287.1 219.9h.8v.8h-.8zM279.7 213.4h.8v.8h-.8zM282.2 208.6h.8v.8h-.8zM267.0 210.3h.8v.8h-.8zM294.0 219.8h.8v.8h-.8zM282.6 212.8h.8v.8h-.8zM277.0 217.6h.8v.8h-.8zM276.3 216.9h.8v.8h-.8zM268.9 210.3h.8v.8h-.8zM288.5 217.7h.8v.8h-.8zM287.7 211.9h.8v.8h-.8zM276.3 210.4h.8v.8h-.8zM295.8 218.1h.8v.8h-.8zM273.9 214.9h.8v.8h-.8zM287.9 209.1h.8v.8h-.8zM275.5 215.6h.8v.8h-.8zM287.2 212.7h.8v.8h-.8zM288.3 218.5h.8v.8h-.8zM288.6 209.3h.8v.8h-.8zM279.7 208.1h.8v.8h-.8zM285.2 213.6h.8v.8h-.8zM284.6 204.5h.8v.8h-.8zM279.9 213.3h.8v.8h-.8zM278.5 223.1h.8v.8h-.8zM269.1 200.9h.8v.8h-.8zM281.7 215.4h.8v.8h-.8zM288.2 203.8h.8v.8h-.8zM285.4 213.3h.8v.8h-.8zM269.7 205.8h.8v.8h-.8zM288.5 205.7h.8v.8h-.8zM289.1 204.1h.8v.8h-.8zM278.5 213.2h.8v.8h-.8zM286.7 219.6h.8v.8h-.8zM291.4 211.8h.8v.8h-.8zM274.5 211.1h.8v.8h-.8zM281.3 218.0h.8v.8h-.8zM283.7 208.3h.8v.8h-.8z" fill="#fff" fill-opacity="0.03"/>
<path d="M294.4 221.3h.8v.8h-.8zM274.4 210.0h.8v.8h-.8zM269.0 209.7h.8v.8h-.8zM287.0 211.0h.8v.8h-.8zM280.1 215.9h.8v.8h-.8zM282.5 211.6h.8v.8h-.8zM292.6 213.9h.8v.8h-.8zM286.9 211.7h.8v.8h-.8zM273.5 215.4h.8v.8h-.8zM286.1 210.2h.8v.8h-.8zM280.2 218.4h.8v.8h-.8zM275.9 208.9h.8v.8h-.8zM283.4 204.2h.8v.8h-.8zM291.6 206.4h.8v.8h-.8zM293.5 211.1h.8v.8h-.8zM273.5 211.7h.8v.8h-.8zM296.2 225.8h.8v.8h-.8zM277.8 212.4h.8v.8h-.8zM280.9 216.1h.8v.8h-.8zM293.3 208.6h.8v.8h-.8zM274.9 219.0h.8v.8h-.8zM275.3 207.0h.8v.8h-.8zM276.2 206.0h.8v.8h-.8zM276.5 215.4h.8v.8h-.8zM289.3 214.7h.8v.8h-.8zM280.4 220.0h.8v.8h-.8zM283.6 215.2h.8v.8h-.8zM283.3 213.2h.8v.8h-.8zM285.2 212.9h.8v.8h-.8zM299.6 206.3h.8v.8h-.8zM282.9 213.3h.8v.8h-.8zM265.3 211.0h.8v.8h-.8zM280.5 216.3h.8v.8h-.8zM282.8 207.9h.8v.8h-.8zM280.1 216.5h.8v.8h-.8zM278.9 205.3h.8v.8h-.8zM273.2 205.4h.8v.8h-.8zM266.6 206.9h.8v.8h-.8zM287.1 216.8h.8v.8h-.8zM288.5 216.9h.8v.8h-.8zM284.6 208.3h.8v.8h-.8zM285.6 207.1h.8v.8h-.8zM284.9 217.9h.8v.8h-.8zM282.3 212.9h.8v.8h-.8zM295.1 216.5h.8v.8h-.8zM288.7 217.3h.8v.8h-.8zM282.0 219.8h.8v.8h-.8zM276.4 210.3h.8v.8h-.8zM287.7 211.1h.8v.8h-.8zM280.1 207.8h.8v.8h-.8zM269.1 215.5h.8v.8h-.8zM290.8 212.4h.8v.8h-.8zM282.5 215.4h.8v.8h-.8zM282.6 209.7h.8v.8h-.8zM276.9 214.6h.8v.8h-.8zM271.0 210.8h.8v.8h-.8zM277.9 217.3h.8v.8h-.8zM280.8 216.6h.8v.8h-.8zM279.2 213.2h.8v.8h-.8zM295.3 210.6h.8v.8h-.8zM289.0 207.2h.8v.8h-.8zM271.4 213.6h.8v.8h-.8zM282.2 207.3h.8v.8h-.8zM291.0 211.5h.8v.8h-.8zM277.1 214.4h.8v.8h-.8zM278.3 209.6h.8v.8h-.8zM269.6 207.3h.8v.8h-.8zM277.1 213.9h.8v.8h-.8zM276.1 202.7h.8v.8h-.8zM274.6 207.4h.8v.8h-.8zM280.5 209.0h.8v.8h-.8z" fill="#fff" fill-opacity="0.04"/>
<path d="M259.9 234.7h.8v.8h-.8zM261.4 240.1h.8v.8h-.8zM258.4 236.5h.8v.8h-.8zM263.5 223.8h.8v.8h-.8zM258.6 228.7h.8v.8h-.8zM259.4 233.2h.8v.8h-.8zM259.5 232.5h.8v.8h-.8zM258.2 234.5h.8v.8h-.8zM263.1 238.2h.8v.8h-.8zM260.8 239.1h.8v.8h-.8zM259.7 224.7h.8v.8h-.8zM265.4 233.9h.8v.8h-.8zM260.1 231.6h.8v.8h-.8zM258.7 228.5h.8v.8h-.8zM261.1 227.1h.8v.8h-.8zM262.8 230.4h.8v.8h-.8zM260.9 236.2h.8v.8h-.8zM254.8 235.9h.8v.8h-.8zM256.2 230.5h.8v.8h-.8zM260.9 231.8h.8v.8h-.8zM266.5 237.9h.8v.8h-.8zM261.0 238.7h.8v.8h-.8zM260.2 240.5h.8v.8h-.8zM259.0 229.8h.8v.8h-.8zM260.3 227.6h.8v.8h-.8zM258.3 227.8h.8v.8h-.8zM257.7 232.3h.8v.8h-.8zM259.7 234.9h.8v.8h-.8zM264.8 236.4h.8v.8h-.8zM263.1 234.2h.8v.8h-.8zM259.8 231.4h.8v.8h-.8zM259.5 234.6h.8v.8h-.8zM262.1 234.3h.8v.8h-.8zM257.7 235.3h.8v.8h-.8zM258.2 237.6h.8v.8h-.8zM258.6 230.6h.8v.8h-.8zM256.8 222.9h.8v.8h-.8zM262.2 223.7h.8v.8h-.8zM262.7 233.1h.8v.8h-.8zM267.5 237.2h.8v.8h-.8zM279.0 226.6h.8v.8h-.8zM275.6 243.3h.8v.8h-.8zM277.4 241.2h.8v.8h-.8zM277.4 221.8h.8v.8h-.8zM282.5 241.2h.8v.8h-.8zM288.7 235.8h.8v.8h-.8zM289.0 238.4h.8v.8h-.8zM289.1 230.4h.8v.8h-.8zM292.9 230.4h.8v.8h-.8zM284.9 240.2h.8v.8h-.8zM285.1 240.3h.8v.8h-.8zM275.2 229.9h.8v.8h-.8zM291.8 226.1h.8v.8h-.8zM281.6 247.3h.8v.8h-.8zM287.1 235.3h.8v.8h-.8zM291.3 232.5h.8v.8h-.8zM278.0 241.7h.8v.8h-.8zM313.5 230.1h.8v.8h-.8zM270.2 234.6h.8v.8h-.8zM287.7 239.5h.8v.8h-.8zM258.9 233.8h.8v.8h-.8zM285.6 248.5h.8v.8h-.8zM299.1 245.9h.8v.8h-.8zM265.4 234.7h.8v.8h-.8zM270.0 235.3h.8v.8h-.8zM282.5 242.3h.8v.8h-.8zM288.2 230.2h.8v.8h-.8zM283.6 251.3h.8v.8h-.8zM297.8 229.3h.8v.8h-.8zM286.0 250.5h.8v.8h-.8zM284.5 229.6h.8v.8h-.8zM279.4 218.2h.8v.8h-.8zM270.4 241.4h.8v.8h-.8zM280.9 240.0h.8v.8h-.8zM282.5 237.2h.8v.8h-.8zM283.5 226.5h.8v.8h-.8zM289.2 224.2h.8v.8h-.8zM284.8 234.5h.8v.8h-.8zM294.0 230.9h.8v.8h-.8zM295.7 221.4h.8v.8h-.8zM276.9 241.6h.8v.8h-.8zM281.1 222.9h.8v.8h-.8zM277.1 247.5h.8v.8h-.8zM285.5 225.5h.8v.8h-.8zM283.4 224.0h.8v.8h-.8zM278.2 226.6h.8v.8h-.8zM292.8 245.0h.8v.8h-.8zM296.9 232.4h.8v.8h-.8zM269.7 242.7h.8v.8h-.8zM297.6 230.4h.8v.8h-.8zM267.5 222.6h.8v.8h-.8zM273.0 238.5h.8v.8h-.8zM259.0 231.6h.8v.8h-.8zM279.2 248.0h.8v.8h-.8zM275.8 231.6h.8v.8h-.8zM268.7 248.8h.8v.8h-.8zM274.1 244.7h.8v.8h-.8zM297.3 244.1h.8v.8h-.8zM260.9 210.8h.8v.8h-.8zM293.9 225.3h.8v.8h-.8z" fill="#fff" fill-opacity="0.05"/>
<path d="M275.3 215.7h.8v.8h-.8zM285.1 214.1h.8v.8h-.8zM281.2 207.8h.8v.8h-.8zM276.2 202.2h.8v.8h-.8zM286.1 208.6h.8v.8h-.8zM281.8 213.7h.8v.8h-.8zM284.0 200.3h.8v.8h-.8zM276.6 216.1h.8v.8h-.8zM282.0 214.3h.8v.8h-.8zM290.5 199.8h.8v.8h-.8zM276.6 215.1h.8v.8h-.8zM287.6 211.2h.8v.8h-.8zM284.2 211.6h.8v.8h-.8zM283.3 211.4h.8v.8h-.8zM287.2 216.4h.8v.8h-.8zM276.5 208.5h.8v.8h-.8zM275.1 208.3h.8v.8h-.8zM279.5 219.1h.8v.8h-.8zM267.3 198.8h.8v.8h-.8zM280.9 202.7h.8v.8h-.8zM285.2 208.1h.8v.8h-.8zM283.5 204.2h.8v.8h-.8zM286.7 217.7h.8v.8h-.8zM281.1 205.3h.8v.8h-.8zM280.1 216.1h.8v.8h-.8zM300.2 211.3h.8v.8h-.8zM273.4 212.7h.8v.8h-.8zM297.0 209.4h.8v.8h-.8zM282.8 208.1h.8v.8h-.8zM295.7 201.3h.8v.8h-.8zM291.0 205.5h.8v.8h-.8zM280.0 201.3h.8v.8h-.8zM265.3 218.4h.8v.8h-.8zM274.3 208.0h.8v.8h-.8zM287.9 215.0h.8v.8h-.8zM282.3 213.0h.8v.8h-.8zM276.9 223.0h.8v.8h-.8zM291.0 216.8h.8v.8h-.8zM281.8 204.1h.8v.8h-.8zM291.3 221.4h.8v.8h-.8zM282.0 210.0h.8v.8h-.8zM274.0 210.1h.8v.8h-.8zM283.3 208.7h.8v.8h-.8zM286.6 215.0h.8v.8h-.8zM273.2 206.6h.8v.8h-.8zM274.7 218.0h.8v.8h-.8zM283.4 219.6h.8v.8h-.8zM293.5 216.2h.8v.8h-.8zM282.6 216.5h.8v.8h-.8zM283.5 208.0h.8v.8h-.8zM292.1 210.7h.8v.8h-.8zM284.2 212.5h.8v.8h-.8zM292.2 206.3h.8v.8h-.8zM281.4 208.0h.8v.8h-.8zM281.8 209.2h.8v.8h-.8zM274.8 211.7h.8v.8h-.8zM290.6 212.8h.8v.8h-.8zM273.4 211.8h.8v.8h-.8zM273.6 208.9h.8v.8h-.8zM278.7 216.8h.8v.8h-.8zM275.6 214.3h.8v.8h-.8zM270.7 211.2h.8v.8h-.8zM280.2 210.0h.8v.8h-.8zM295.6 214.4h.8v.8h-.8zM288.1 211.4h.8v.8h-.8zM273.8 215.4h.8v.8h-.8zM270.4 222.4h.8v.8h-.8zM290.9 201.3h.8v.8h-.8zM294.3 211.4h.8v.8h-.8zM272.5 210.2h.8v.8h-.8zM287.7 215.5h.8v.8h-.8zM287.3 215.8h.8v.8h-.8zM282.7 219.9h.8v.8h-.8zM287.9 213.5h.8v.8h-.8zM272.6 216.9h.8v.8h-.8zM280.8 208.8h.8v.8h-.8z" fill="#fff" fill-opacity="0.06"/>
<path d="M257.2 215.6h.8v.8h-.8zM256.5 212.6h.8v.8h-.8zM259.9 205.1h.8v.8h-.8zM263.7 221.2h.8v.8h-.8zM258.2 211.8h.8v.8h-.8zM258.6 204.3h.8v.8h-.8zM256.3 215.0h.8v.8h-.8zM268.2 202.0h.8v.8h-.8zM262.2 218.7h.8v.8h-.8zM264.0 214.6h.8v.8h-.8zM257.6 204.8h.8v.8h-.8zM260.9 218.8h.8v.8h-.8zM259.8 213.8h.8v.8h-.8zM260.5 196.9h.8v.8h-.8zM263.1 208.9h.8v.8h-.8zM267.4 227.9h.8v.8h-.8zM258.9 211.6h.8v.8h-.8zM264.5 204.4h.8v.8h-.8zM255.5 205.0h.8v.8h-.8zM260.2 198.6h.8v.8h-.8zM261.7 217.3h.8v.8h-.8zM264.5 202.5h.8v.8h-.8zM261.4 216.6h.8v.8h-.8zM257.6 231.7h.8v.8h-.8zM259.3 209.5h.8v.8h-.8zM266.8 220.0h.8v.8h-.8zM261.5 205.8h.8v.8h-.8zM265.8 214.5h.8v.8h-.8zM252.7 211.7h.8v.8h-.8zM255.4 220.3h.8v.8h-.8zM264.4 222.3h.8v.8h-.8zM254.2 205.7h.8v.8h-.8zM261.0 200.4h.8v.8h-.8zM260.7 214.4h.8v.8h-.8zM260.1 211.3h.8v.8h-.8zM262.0 209.6h.8v.8h-.8zM266.1 207.4h.8v.8h-.8zM260.9 203.7h.8v.8h-.8zM262.3 220.4h.8v.8h-.8zM258.0 218.8h.8v.8h-.8zM265.4 201.9h.8v.8h-.8zM264.0 206.8h.8v.8h-.8zM263.0 215.0h.8v.8h-.8zM261.2 205.0h.8v.8h-.8zM266.4 206.5h.8v.8h-.8zM257.9 206.6h.8v.8h-.8zM263.1 213.2h.8v.8h-.8zM256.4 201.5h.8v.8h-.8zM261.2 208.4h.8v.8h-.8zM261.0 215.3h.8v.8h-.8zM276.3 200.4h.8v.8h-.8zM254.0 199.6h.8v.8h-.8zM259.8 214.7h.8v.8h-.8zM258.6 211.7h.8v.8h-.8zM260.0 209.2h.8v.8h-.8zM265.1 206.3h.8v.8h-.8zM255.3 202.8h.8v.8h-.8zM252.3 210.0h.8v.8h-.8zM261.2 220.0h.8v.8h-.8zM265.6 208.6h.8v.8h-.8zM254.4 217.2h.8v.8h-.8zM261.7 213.6h.8v.8h-.8zM265.8 222.4h.8v.8h-.8zM266.2 211.8h.8v.8h-.8zM259.2 212.0h.8v.8h-.8zM261.4 216.9h.8v.8h-.8zM264.6 217.0h.8v.8h-.8zM262.6 199.5h.8v.8h-.8zM265.6 217.0h.8v.8h-.8zM260.7 208.7h.8v.8h-.8zM263.4 210.0h.8v.8h-.8zM257.6 208.8h.8v.8h-.8zM258.6 221.4h.8v.8h-.8zM258.5 211.0h.8v.8h-.8zM261.7 214.9h.8v.8h-.8zM263.1 201.0h.8v.8h-.8zM267.1 216.7h.8v.8h-.8zM259.7 211.4h.8v.8h-.8zM264.1 210.8h.8v.8h-.8zM269.4 214.3h.8v.8h-.8zM263.7 216.4h.8v.8h-.8zM264.9 209.3h.8v.8h-.8zM268.0 215.1h.8v.8h-.8zM260.7 208.1h.8v.8h-.8zM264.8 212.9h.8v.8h-.8zM262.8 221.1h.8v.8h-.8zM260.1 226.2h.8v.8h-.8zM270.7 206.3h.8v.8h-.8zM260.9 222.0h.8v.8h-.8zM264.9 208.5h.8v.8h-.8zM251.4 206.1h.8v.8h-.8zM259.9 212.3h.8v.8h-.8zM262.7 226.5h.8v.8h-.8zM257.6 207.1h.8v.8h-.8zM260.1 208.1h.8v.8h-.8zM255.5 216.8h.8v.8h-.8zM254.6 210.7h.8v.8h-.8zM267.8 208.3h.8v.8h-.8zM261.1 195.4h.8v.8h-.8zM258.4 203.4h.8v.8h-.8zM254.6 206.5h.8v.8h-.8zM265.6 231.4h.8v.8h-.8zM258.4 198.0h.8v.8h-.8zM266.0 216.1h.8v.8h-.8zM257.5 209.3h.8v.8h-.8zM261.0 211.7h.8v.8h-.8zM255.6 212.9h.8v.8h-.8zM258.8 205.0h.8v.8h-.8zM252.9 232.9h.8v.8h-.8zM259.3 207.9h.8v.8h-.8zM261.7 203.9h.8v.8h-.8zM269.7 210.0h.8v.8h-.8zM260.4 213.5h.8v.8h-.8zM265.1 219.4h.8v.8h-.8zM258.7 211.3h.8v.8h-.8zM257.6 211.8h.8v.8h-.8zM257.0 214.6h.8v.8h-.8zM262.8 212.2h.8v.8h-.8zM261.1 205.9h.8v.8h-.8zM263.6 213.0h.8v.8h-.8zM258.6 206.3h.8v.8h-.8zM256.0 198.4h.8v.8h-.8zM260.8 210.0h.8v.8h-.8zM257.8 214.6h.8v.8h-.8zM260.6 224.5h.8v.8h-.8zM262.3 214.5h.8v.8h-.8zM262.9 213.0h.8v.8h-.8zM261.2 217.8h.8v.8h-.8zM258.6 220.2h.8v.8h-.8zM256.5 211.1h.8v.8h-.8zM265.2 215.0h.8v.8h-.8zM258.2 209.1h.8v.8h-.8zM263.8 202.8h.8v.8h-.8zM255.0 207.5h.8v.8h-.8zM258.3 217.3h.8v.8h-.8zM269.7 218.9h.8v.8h-.8zM254.5 196.8h.8v.8h-.8zM260.1 202.2h.8v.8h-.8zM263.7 220.2h.8v.8h-.8zM258.1 213.5h.8v.8h-.8zM260.0 218.1h.8v.8h-.8zM254.8 203.9h.8v.8h-.8zM260.1 224.1h.8v.8h-.8zM255.4 222.5h.8v.8h-.8zM258.2 223.6h.8v.8h-.8zM261.1 216.7h.8v.8h-.8zM261.0 205.7h.8v.8h-.8zM259.5 205.8h.8v.8h-.8zM257.9 212.6h.8v.8h-.8zM256.5 203.4h.8v.8h-.8z" fill="#fff" fill-opacity="0.07"/>
<path d="M291.3 210.9h.8v.8h-.8zM294.7 207.8h.8v.8h-.8zM288.5 218.1h.8v.8h-.8zM274.8 216.3h.8v.8h-.8zM281.7 215.3h.8v.8h-.8zM282.0 211.2h.8v.8h-.8zM275.2 213.8h.8v.8h-.8zM286.6 211.9h.8v.8h-.8zM282.4 211.1h.8v.8h-.8zM281.5 214.5h.8v.8h-.8zM284.3 208.8h.8v.8h-.8zM284.2 213.1h.8v.8h-.8zM274.5 212.9h.8v.8h-.8zM276.4 219.5h.8v.8h-.8zM277.9 215.2h.8v.8h-.8zM284.6 216.6h.8v.8h-.8zM280.6 203.8h.8v.8h-.8zM286.2 203.2h.8v.8h-.8zM272.3 210.9h.8v.8h-.8zM275.6 212.4h.8v.8h-.8zM288.2 208.5h.8v.8h-.8zM289.4 206.3h.8v.8h-.8zM287.6 210.9h.8v.8h-.8zM293.2 210.6h.8v.8h-.8zM279.7 214.9h.8v.8h-.8zM293.6 207.5h.8v.8h-.8zM275.3 209.0h.8v.8h-.8zM289.7 211.0h.8v.8h-.8zM281.5 205.1h.8v.8h-.8zM266.4 220.3h.8v.8h-.8zM285.5 213.5h.8v.8h-.8zM280.8 214.6h.8v.8h-.8zM293.5 201.9h.8v.8h-.8zM275.6 205.2h.8v.8h-.8zM289.7 213.6h.8v.8h-.8zM299.3 208.0h.8v.8h-.8zM279.5 211.2h.8v.8h-.8zM282.1 211.1h.8v.8h-.8zM295.2 211.8h.8v.8h-.8zM274.6 215.7h.8v.8h-.8zM288.9 210.4h.8v.8h-.8zM284.7 211.4h.8v.8h-.8zM283.7 212.7h.8v.8h-.8zM289.7 205.0h.8v.8h-.8zM269.2 213.6h.8v.8h-.8zM277.2 203.8h.8v.8h-.8zM284.8 210.9h.8v.8h-.8zM292.4 209.0h.8v.8h-.8zM281.3 207.1h.8v.8h-.8zM285.9 212.7h.8v.8h-.8zM285.7 205.6h.8v.8h-.8zM281.4 209.0h.8v.8h-.8zM288.5 208.2h.8v.8h-.8zM283.4 204.1h.8v.8h-.8zM276.9 202.8h.8v.8h-.8zM277.0 209.2h.8v.8h-.8zM290.4 210.9h.8v.8h-.8zM276.6 209.2h.8v.8h-.8zM268.7 203.4h.8v.8h-.8zM287.8 220.6h.8v.8h-.8zM272.1 215.0h.8v.8h-.8zM296.9 214.9h.8v.8h-.8zM279.2 208.1h.8v.8h-.8zM283.5 216.2h.8v.8h-.8zM276.6 218.4h.8v.8h-.8zM280.2 212.3h.8v.8h-.8zM285.3 215.7h.8v.8h-.8zM279.1 201.3h.8v.8h-.8zM282.5 219.9h.8v.8h-.8zM277.8 210.1h.8v.8h-.8zM282.7 202.3h.8v.8h-.8zM283.7 212.0h.8v.8h-.8zM280.3 211.5h.8v.8h-.8zM292.9 206.4h.8v.8h-.8zM286.3 207.1h.8v.8h-.8zM281.6 209.8h.8v.8h-.8zM293.3 208.5h.8v.8h-.8zM278.5 211.8h.8v.8h-.8zM269.0 220.3h.8v.8h-.8zM287.9 206.1h.8v.8h-.8zM279.4 213.2h.8v.8h-.8zM278.3 209.2h.8v.8h-.8zM275.0 213.9h.8v.8h-.8zM270.5 213.1h.8v.8h-.8zM295.4 211.9h.8v.8h-.8zM280.2 208.4h.8v.8h-.8zM281.8 210.6h.8v.8h-.8zM276.1 207.0h.8v.8h-.8zM277.8 216.7h.8v.8h-.8zM286.5 216.6h.8v.8h-.8zM279.4 204.6h.8v.8h-.8zM266.4 208.6h.8v.8h-.8zM283.4 218.4h.8v.8h-.8zM288.3 214.9h.8v.8h-.8zM280.2 209.5h.8v.8h-.8zM288.8 210.5h.8v.8h-.8zM282.1 208.0h.8v.8h-.8zM283.9 213.0h.8v.8h-.8zM277.6 211.1h.8v.8h-.8zM286.0 207.2h.8v.8h-.8zM283.3 209.4h.8v.8h-.8zM280.8 206.7h.8v.8h-.8zM277.2 214.5h.8v.8h-.8zM286.6 217.4h.8v.8h-.8zM281.2 209.0h.8v.8h-.8zM262.4 236.9h.8v.8h-.8zM258.5 234.9h.8v.8h-.8zM261.1 232.9h.8v.8h-.8zM259.3 235.1h.8v.8h-.8zM261.8 235.3h.8v.8h-.8zM258.8 226.9h.8v.8h-.8zM262.6 224.0h.8v.8h-.8zM264.0 237.9h.8v.8h-.8zM261.9 232.3h.8v.8h-.8zM259.7 233.3h.8v.8h-.8zM265.2 228.5h.8v.8h-.8zM262.5 230.7h.8v.8h-.8zM263.2 239.6h.8v.8h-.8zM260.8 229.7h.8v.8h-.8zM264.2 233.9h.8v.8h-.8zM260.0 225.8h.8v.8h-.8zM256.8 233.7h.8v.8h-.8zM260.3 236.3h.8v.8h-.8zM256.3 233.0h.8v.8h-.8zM263.8 228.3h.8v.8h-.8zM260.6 232.7h.8v.8h-.8zM261.3 228.5h.8v.8h-.8zM258.6 235.0h.8v.8h-.8zM256.8 240.6h.8v.8h-.8zM262.8 233.9h.8v.8h-.8zM259.9 232.3h.8v.8h-.8zM264.8 228.0h.8v.8h-.8zM259.8 221.1h.8v.8h-.8zM255.8 245.2h.8v.8h-.8zM259.3 233.0h.8v.8h-.8zM265.2 238.3h.8v.8h-.8zM263.4 231.1h.8v.8h-.8zM256.5 231.0h.8v.8h-.8zM262.9 225.2h.8v.8h-.8zM255.3 238.7h.8v.8h-.8zM259.3 233.6h.8v.8h-.8zM263.7 221.3h.8v.8h-.8zM258.5 236.6h.8v.8h-.8zM263.2 241.3h.8v.8h-.8zM256.3 236.6h.8v.8h-.8zM261.4 233.8h.8v.8h-.8zM261.8 232.6h.8v.8h-.8zM260.5 236.1h.8v.8h-.8zM255.9 230.3h.8v.8h-.8zM257.3 231.0h.8v.8h-.8zM257.4 231.2h.8v.8h-.8zM261.2 237.9h.8v.8h-.8zM258.7 228.3h.8v.8h-.8zM261.3 229.3h.8v.8h-.8zM259.3 227.3h.8v.8h-.8zM259.5 227.7h.8v.8h-.8zM262.6 218.7h.8v.8h-.8zM261.0 228.4h.8v.8h-.8zM261.1 231.7h.8v.8h-.8zM264.9 233.0h.8v.8h-.8zM260.6 224.5h.8v.8h-.8zM261.3 234.1h.8v.8h-.8zM264.1 234.4h.8v.8h-.8zM261.6 228.5h.8v.8h-.8zM258.9 233.6h.8v.8h-.8zM264.4 234.0h.8v.8h-.8z" fill="#fff" fill-opacity="0.1"/>
<path d="M254.7 236.6h.8v.8h-.8zM259.1 233.5h.8v.8h-.8zM265.9 235.9h.8v.8h-.8zM261.1 233.2h.8v.8h-.8zM259.8 229.7h.8v.8h-.8zM261.9 231.2h.8v.8h-.8zM259.7 235.1h.8v.8h-.8zM259.6 242.5h.8v.8h-.8zM261.0 233.0h.8v.8h-.8zM259.6 233.3h.8v.8h-.8zM263.4 229.7h.8v.8h-.8zM256.8 221.5h.8v.8h-.8zM256.8 238.7h.8v.8h-.8zM257.1 230.1h.8v.8h-.8zM265.6 238.7h.8v.8h-.8zM256.3 226.9h.8v.8h-.8zM259.2 240.2h.8v.8h-.8zM257.8 231.9h.8v.8h-.8zM263.1 241.1h.8v.8h-.8zM259.8 235.9h.8v.8h-.8zM262.6 233.0h.8v.8h-.8zM258.0 239.3h.8v.8h-.8zM260.0 239.5h.8v.8h-.8zM260.0 233.9h.8v.8h-.8zM259.8 235.5h.8v.8h-.8zM264.3 231.7h.8v.8h-.8zM265.3 226.5h.8v.8h-.8zM258.6 233.8h.8v.8h-.8zM260.8 235.3h.8v.8h-.8zM255.8 229.6h.8v.8h-.8zM260.3 231.6h.8v.8h-.8zM261.1 229.9h.8v.8h-.8zM261.5 237.4h.8v.8h-.8zM264.0 232.1h.8v.8h-.8zM264.0 235.4h.8v.8h-.8zM263.2 230.4h.8v.8h-.8zM255.2 224.3h.8v.8h-.8zM260.4 224.5h.8v.8h-.8zM264.4 232.4h.8v.8h-.8zM260.3 229.7h.8v.8h-.8zM260.1 236.1h.8v.8h-.8zM263.4 232.1h.8v.8h-.8zM260.3 242.4h.8v.8h-.8zM263.0 233.2h.8v.8h-.8zM256.4 227.2h.8v.8h-.8zM254.3 234.9h.8v.8h-.8zM257.5 232.6h.8v.8h-.8zM259.8 231.2h.8v.8h-.8zM259.6 227.4h.8v.8h-.8z" fill="#fff" fill-opacity="0.2"/>
<path d="M281.6 207.5h.8v.8h-.8zM294.7 223.4h.8v.8h-.8zM277.1 212.4h.8v.8h-.8zM272.8 215.9h.8v.8h-.8zM281.0 216.8h.8v.8h-.8zM281.7 216.1h.8v.8h-.8zM283.2 210.1h.8v.8h-.8zM282.1 214.1h.8v.8h-.8zM299.2 206.0h.8v.8h-.8zM279.7 212.2h.8v.8h-.8zM283.6 206.3h.8v.8h-.8zM290.6 208.0h.8v.8h-.8zM281.1 217.9h.8v.8h-.8zM279.4 209.8h.8v.8h-.8zM283.2 213.5h.8v.8h-.8zM290.5 203.7h.8v.8h-.8zM284.3 213.9h.8v.8h-.8zM273.6 209.9h.8v.8h-.8zM279.4 207.3h.8v.8h-.8zM282.1 211.6h.8v.8h-.8zM278.5 208.4h.8v.8h-.8zM284.3 213.2h.8v.8h-.8zM290.5 208.0h.8v.8h-.8zM284.1 204.3h.8v.8h-.8zM280.6 212.1h.8v.8h-.8zM287.6 208.8h.8v.8h-.8zM285.4 208.5h.8v.8h-.8zM286.3 213.4h.8v.8h-.8zM282.3 203.8h.8v.8h-.8zM284.3 209.7h.8v.8h-.8zM303.8 208.4h.8v.8h-.8zM287.7 207.6h.8v.8h-.8zM294.8 216.0h.8v.8h-.8zM299.5 213.4h.8v.8h-.8zM276.5 210.4h.8v.8h-.8zM279.3 211.9h.8v.8h-.8zM286.3 218.7h.8v.8h-.8zM273.2 217.4h.8v.8h-.8zM268.9 213.4h.8v.8h-.8zM270.6 210.9h.8v.8h-.8zM285.2 216.1h.8v.8h-.8zM275.0 215.5h.8v.8h-.8zM291.4 205.6h.8v.8h-.8zM281.8 203.5h.8v.8h-.8zM292.3 213.9h.8v.8h-.8zM272.3 212.6h.8v.8h-.8zM292.8 205.2h.8v.8h-.8zM271.9 214.8h.8v.8h-.8zM278.5 212.6h.8v.8h-.8zM289.5 213.6h.8v.8h-.8zM285.8 210.8h.8v.8h-.8zM281.8 213.8h.8v.8h-.8zM277.9 218.8h.8v.8h-.8zM293.0 205.9h.8v.8h-.8zM276.2 211.1h.8v.8h-.8zM287.4 206.2h.8v.8h-.8zM278.8 220.0h.8v.8h-.8zM281.1 207.4h.8v.8h-.8zM279.2 207.3h.8v.8h-.8zM278.4 214.2h.8v.8h-.8zM279.3 217.1h.8v.8h-.8zM289.0 216.4h.8v.8h-.8zM288.1 217.9h.8v.8h-.8zM280.4 218.8h.8v.8h-.8zM285.4 214.0h.8v.8h-.8zM284.5 213.2h.8v.8h-.8zM275.1 204.2h.8v.8h-.8zM279.8 204.9h.8v.8h-.8zM265.3 210.2h.8v.8h-.8zM286.5 211.7h.8v.8h-.8zM287.7 206.4h.8v.8h-.8zM286.6 213.1h.8v.8h-.8zM297.6 214.6h.8v.8h-.8zM279.5 214.6h.8v.8h-.8zM295.4 211.5h.8v.8h-.8zM277.2 216.9h.8v.8h-.8zM284.0 217.5h.8v.8h-.8zM277.9 206.9h.8v.8h-.8zM288.5 212.5h.8v.8h-.8zM283.2 216.3h.8v.8h-.8zM292.3 210.9h.8v.8h-.8zM277.5 208.8h.8v.8h-.8z" fill="#fff" fill-opacity="0.42"/>
<ellipse cx="283" cy="212" rx="18.20" ry="12.60" transform="rotate(0 283 212)" fill="url(#soft)" opacity="0.05"/>
<ellipse cx="260.3" cy="212.3" rx="11.90" ry="17.50" transform="rotate(0 260.3 212.3)" fill="url(#soft)" opacity="0.14"/>
<ellipse cx="260.3" cy="212.3" rx="7.98" ry="13.16" transform="rotate(0 260.3 212.3)" fill="url(#cone)" opacity="0.98"/>
</svg></g>
<g filter="url(#cmap)"><rect x="335.2" y="184.4" width="77.80000000000001" height="76.6" fill="#000"/>
<svg x="335.2" y="184.4" width="77.80000000000001" height="76.6" viewBox="335.2 184.4 77.80000000000001 76.6" overflow="hidden">
<path d="M369.7 230.4h.8v.8h-.8zM377.8 232.5h.8v.8h-.8zM368.2 235.8h.8v.8h-.8zM376.3 230.1h.8v.8h-.8zM385.8 236.7h.8v.8h-.8zM359.0 229.9h.8v.8h-.8zM384.3 231.2h.8v.8h-.8zM372.7 233.4h.8v.8h-.8zM366.0 231.2h.8v.8h-.8zM369.9 240.0h.8v.8h-.8zM383.7 233.6h.8v.8h-.8zM368.9 235.3h.8v.8h-.8zM375.5 237.7h.8v.8h-.8zM377.9 233.3h.8v.8h-.8zM369.8 234.5h.8v.8h-.8zM379.7 229.8h.8v.8h-.8zM379.5 241.1h.8v.8h-.8zM374.3 234.9h.8v.8h-.8zM373.8 232.9h.8v.8h-.8zM374.9 228.9h.8v.8h-.8zM369.2 236.9h.8v.8h-.8zM368.5 247.7h.8v.8h-.8zM382.2 223.4h.8v.8h-.8zM362.7 241.7h.8v.8h-.8zM382.9 231.5h.8v.8h-.8zM370.8 225.6h.8v.8h-.8zM374.2 235.9h.8v.8h-.8zM369.9 236.7h.8v.8h-.8zM378.0 234.8h.8v.8h-.8zM380.1 233.5h.8v.8h-.8zM376.8 233.0h.8v.8h-.8zM354.3 232.8h.8v.8h-.8zM373.6 241.4h.8v.8h-.8zM359.2 234.3h.8v.8h-.8zM382.8 235.5h.8v.8h-.8zM370.4 228.0h.8v.8h-.8zM373.8 226.2h.8v.8h-.8zM370.0 237.0h.8v.8h-.8zM374.9 225.6h.8v.8h-.8zM373.0 243.8h.8v.8h-.8zM373.1 233.0h.8v.8h-.8zM368.0 233.9h.8v.8h-.8zM384.0 233.1h.8v.8h-.8zM372.4 232.1h.8v.8h-.8zM373.5 233.4h.8v.8h-.8zM383.3 241.0h.8v.8h-.8zM371.6 239.9h.8v.8h-.8zM383.4 240.5h.8v.8h-.8zM374.1 234.6h.8v.8h-.8zM385.7 239.2h.8v.8h-.8zM378.8 235.4h.8v.8h-.8zM372.0 240.8h.8v.8h-.8zM381.9 229.6h.8v.8h-.8zM377.5 234.0h.8v.8h-.8zM373.2 239.5h.8v.8h-.8zM386.7 234.4h.8v.8h-.8zM381.3 230.2h.8v.8h-.8zM367.0 234.2h.8v.8h-.8zM381.0 233.8h.8v.8h-.8zM360.2 228.6h.8v.8h-.8zM353.3 229.0h.8v.8h-.8zM376.6 239.0h.8v.8h-.8zM373.4 232.4h.8v.8h-.8zM369.1 241.9h.8v.8h-.8zM369.2 242.7h.8v.8h-.8zM379.4 236.1h.8v.8h-.8zM377.6 233.2h.8v.8h-.8zM371.3 229.5h.8v.8h-.8zM366.4 233.0h.8v.8h-.8zM376.5 227.2h.8v.8h-.8zM372.3 224.2h.8v.8h-.8zM371.9 229.3h.8v.8h-.8zM366.4 233.5h.8v.8h-.8zM376.4 233.3h.8v.8h-.8zM379.3 241.4h.8v.8h-.8zM387.1 234.3h.8v.8h-.8zM375.2 233.0h.8v.8h-.8zM365.9 236.7h.8v.8h-.8zM367.6 236.0h.8v.8h-.8zM387.5 232.7h.8v.8h-.8zM373.4 231.2h.8v.8h-.8zM378.3 225.4h.8v.8h-.8zM377.2 226.9h.8v.8h-.8zM360.5 221.0h.8v.8h-.8z" fill="#fff" fill-opacity="0.04"/>
<path d="M354.9 217.0h.8v.8h-.8zM353.4 212.0h.8v.8h-.8zM353.9 213.6h.8v.8h-.8zM358.0 219.5h.8v.8h-.8zM353.0 215.6h.8v.8h-.8zM354.6 219.6h.8v.8h-.8zM352.1 217.9h.8v.8h-.8zM351.0 209.6h.8v.8h-.8zM352.5 210.1h.8v.8h-.8zM359.9 215.9h.8v.8h-.8zM356.5 218.4h.8v.8h-.8zM354.9 210.3h.8v.8h-.8zM352.7 213.1h.8v.8h-.8zM352.7 214.0h.8v.8h-.8zM361.1 212.2h.8v.8h-.8zM352.8 213.0h.8v.8h-.8zM361.1 214.4h.8v.8h-.8zM350.6 215.6h.8v.8h-.8zM355.0 213.0h.8v.8h-.8zM356.8 206.6h.8v.8h-.8zM352.5 219.1h.8v.8h-.8zM355.1 222.0h.8v.8h-.8zM359.0 209.1h.8v.8h-.8zM355.7 209.0h.8v.8h-.8zM353.8 208.5h.8v.8h-.8zM355.3 210.6h.8v.8h-.8zM353.8 214.2h.8v.8h-.8zM355.5 210.0h.8v.8h-.8zM352.6 219.9h.8v.8h-.8zM356.5 218.5h.8v.8h-.8zM356.9 221.3h.8v.8h-.8zM357.2 213.0h.8v.8h-.8zM359.0 217.0h.8v.8h-.8zM354.8 212.6h.8v.8h-.8zM351.7 210.2h.8v.8h-.8zM357.0 215.2h.8v.8h-.8zM355.5 213.5h.8v.8h-.8zM357.2 221.1h.8v.8h-.8zM353.7 212.9h.8v.8h-.8zM356.6 217.4h.8v.8h-.8zM356.9 214.9h.8v.8h-.8zM359.4 215.0h.8v.8h-.8zM356.1 206.9h.8v.8h-.8zM352.0 212.5h.8v.8h-.8zM353.0 224.3h.8v.8h-.8zM360.3 210.7h.8v.8h-.8zM359.6 215.9h.8v.8h-.8zM354.1 216.2h.8v.8h-.8zM353.2 215.8h.8v.8h-.8zM353.6 207.7h.8v.8h-.8zM357.9 220.0h.8v.8h-.8zM355.5 208.4h.8v.8h-.8zM356.0 216.1h.8v.8h-.8zM352.8 214.7h.8v.8h-.8zM358.6 210.7h.8v.8h-.8zM357.2 213.1h.8v.8h-.8zM353.5 216.1h.8v.8h-.8zM351.6 212.4h.8v.8h-.8zM355.6 214.3h.8v.8h-.8zM358.2 210.3h.8v.8h-.8z" fill="#fff" fill-opacity="0.05"/>
<path d="M375.7 233.9h.8v.8h-.8zM369.8 236.7h.8v.8h-.8zM368.3 232.5h.8v.8h-.8zM366.8 247.3h.8v.8h-.8zM375.5 232.6h.8v.8h-.8zM368.5 226.9h.8v.8h-.8zM376.7 235.7h.8v.8h-.8zM388.2 237.8h.8v.8h-.8zM385.6 242.1h.8v.8h-.8zM378.1 231.4h.8v.8h-.8zM386.9 228.4h.8v.8h-.8zM380.0 230.8h.8v.8h-.8zM363.2 238.9h.8v.8h-.8zM374.2 241.9h.8v.8h-.8zM371.1 229.8h.8v.8h-.8zM369.1 236.3h.8v.8h-.8zM374.1 243.9h.8v.8h-.8zM377.9 231.9h.8v.8h-.8zM365.1 231.4h.8v.8h-.8zM375.0 238.5h.8v.8h-.8zM373.3 238.6h.8v.8h-.8zM376.7 230.3h.8v.8h-.8zM386.1 225.0h.8v.8h-.8zM370.9 228.9h.8v.8h-.8zM377.3 228.7h.8v.8h-.8zM382.2 230.6h.8v.8h-.8zM373.3 229.9h.8v.8h-.8zM367.3 237.2h.8v.8h-.8zM383.5 224.9h.8v.8h-.8zM374.2 229.2h.8v.8h-.8zM367.2 230.7h.8v.8h-.8zM380.9 228.0h.8v.8h-.8zM372.5 237.5h.8v.8h-.8zM379.4 244.9h.8v.8h-.8zM376.1 233.3h.8v.8h-.8zM375.1 235.2h.8v.8h-.8zM374.6 231.6h.8v.8h-.8zM368.1 233.0h.8v.8h-.8zM376.3 231.0h.8v.8h-.8zM374.8 231.0h.8v.8h-.8zM367.8 235.3h.8v.8h-.8zM371.2 229.0h.8v.8h-.8zM372.3 238.8h.8v.8h-.8zM365.5 226.1h.8v.8h-.8zM385.2 239.0h.8v.8h-.8zM369.5 224.5h.8v.8h-.8zM386.4 231.8h.8v.8h-.8zM365.3 233.0h.8v.8h-.8zM377.0 233.4h.8v.8h-.8zM374.7 236.9h.8v.8h-.8zM366.8 231.3h.8v.8h-.8zM373.4 230.1h.8v.8h-.8zM377.0 246.4h.8v.8h-.8zM368.7 233.5h.8v.8h-.8zM374.0 238.8h.8v.8h-.8zM378.6 238.4h.8v.8h-.8zM375.4 234.0h.8v.8h-.8zM387.2 228.7h.8v.8h-.8zM375.4 229.1h.8v.8h-.8zM369.5 235.4h.8v.8h-.8zM374.0 226.3h.8v.8h-.8zM370.0 224.5h.8v.8h-.8zM381.3 238.7h.8v.8h-.8zM378.4 232.5h.8v.8h-.8zM377.3 235.6h.8v.8h-.8zM377.5 229.5h.8v.8h-.8zM363.0 235.4h.8v.8h-.8zM361.5 230.8h.8v.8h-.8zM377.2 237.0h.8v.8h-.8zM374.8 242.1h.8v.8h-.8zM373.8 230.4h.8v.8h-.8zM372.9 235.5h.8v.8h-.8zM383.0 230.5h.8v.8h-.8zM372.2 236.3h.8v.8h-.8zM385.9 234.3h.8v.8h-.8zM381.7 237.2h.8v.8h-.8zM389.4 224.6h.8v.8h-.8zM369.7 228.5h.8v.8h-.8zM373.4 227.1h.8v.8h-.8zM377.7 234.4h.8v.8h-.8zM377.9 225.8h.8v.8h-.8zM372.6 227.9h.8v.8h-.8zM373.3 230.4h.8v.8h-.8zM363.6 242.1h.8v.8h-.8zM378.4 238.1h.8v.8h-.8zM368.4 227.8h.8v.8h-.8z" fill="#fff" fill-opacity="0.06"/>
<path d="M350.4 229.1h.8v.8h-.8zM349.7 229.2h.8v.8h-.8zM352.9 227.4h.8v.8h-.8zM348.5 226.3h.8v.8h-.8zM359.4 232.8h.8v.8h-.8zM351.6 226.6h.8v.8h-.8zM349.6 235.3h.8v.8h-.8zM351.9 226.0h.8v.8h-.8zM353.0 230.7h.8v.8h-.8zM359.4 239.5h.8v.8h-.8zM354.4 236.6h.8v.8h-.8zM351.2 242.5h.8v.8h-.8zM356.2 243.6h.8v.8h-.8zM350.2 229.2h.8v.8h-.8zM350.4 240.4h.8v.8h-.8zM348.4 217.0h.8v.8h-.8zM349.2 234.2h.8v.8h-.8zM358.7 239.0h.8v.8h-.8zM352.6 232.2h.8v.8h-.8zM347.7 234.9h.8v.8h-.8zM355.7 245.2h.8v.8h-.8zM350.9 239.8h.8v.8h-.8zM354.9 246.7h.8v.8h-.8zM353.3 242.9h.8v.8h-.8zM360.7 233.9h.8v.8h-.8zM365.4 232.4h.8v.8h-.8zM352.0 238.9h.8v.8h-.8zM360.4 240.6h.8v.8h-.8zM351.2 237.3h.8v.8h-.8zM358.0 237.1h.8v.8h-.8zM341.8 239.5h.8v.8h-.8zM356.1 236.3h.8v.8h-.8zM350.3 234.9h.8v.8h-.8zM351.4 238.5h.8v.8h-.8zM353.1 239.3h.8v.8h-.8zM357.3 222.9h.8v.8h-.8zM360.3 231.0h.8v.8h-.8zM350.0 245.8h.8v.8h-.8zM361.6 233.8h.8v.8h-.8zM342.8 228.4h.8v.8h-.8zM361.7 215.4h.8v.8h-.8zM351.1 242.0h.8v.8h-.8zM359.5 238.0h.8v.8h-.8zM346.7 214.0h.8v.8h-.8zM355.3 228.2h.8v.8h-.8zM343.0 224.3h.8v.8h-.8zM358.8 234.1h.8v.8h-.8zM357.2 238.2h.8v.8h-.8zM348.9 240.7h.8v.8h-.8zM349.3 220.8h.8v.8h-.8zM355.4 235.1h.8v.8h-.8zM353.8 237.9h.8v.8h-.8zM358.1 236.3h.8v.8h-.8zM352.2 228.3h.8v.8h-.8zM351.2 242.0h.8v.8h-.8zM363.9 223.0h.8v.8h-.8zM351.6 237.3h.8v.8h-.8zM365.8 233.9h.8v.8h-.8zM356.3 219.2h.8v.8h-.8zM348.4 236.0h.8v.8h-.8zM344.2 232.2h.8v.8h-.8zM356.2 233.0h.8v.8h-.8zM351.5 242.5h.8v.8h-.8zM354.0 230.4h.8v.8h-.8zM354.9 244.3h.8v.8h-.8zM357.6 236.2h.8v.8h-.8zM356.0 232.3h.8v.8h-.8zM349.6 244.9h.8v.8h-.8zM352.8 231.4h.8v.8h-.8zM356.5 221.6h.8v.8h-.8zM356.2 238.2h.8v.8h-.8zM356.5 234.5h.8v.8h-.8zM354.2 237.8h.8v.8h-.8zM348.6 225.0h.8v.8h-.8zM355.8 231.5h.8v.8h-.8zM358.5 238.1h.8v.8h-.8zM351.4 223.7h.8v.8h-.8zM357.9 241.7h.8v.8h-.8zM354.6 231.0h.8v.8h-.8zM351.0 234.5h.8v.8h-.8zM355.2 230.6h.8v.8h-.8zM355.2 232.1h.8v.8h-.8zM350.6 242.6h.8v.8h-.8zM352.2 246.4h.8v.8h-.8zM354.6 244.8h.8v.8h-.8zM355.0 241.3h.8v.8h-.8zM355.2 237.9h.8v.8h-.8zM351.8 237.6h.8v.8h-.8zM357.6 236.6h.8v.8h-.8zM357.7 244.4h.8v.8h-.8zM355.6 234.9h.8v.8h-.8zM348.9 228.4h.8v.8h-.8zM359.2 231.9h.8v.8h-.8zM356.5 232.6h.8v.8h-.8zM365.3 231.4h.8v.8h-.8zM352.9 242.4h.8v.8h-.8zM343.9 229.9h.8v.8h-.8zM356.3 241.4h.8v.8h-.8zM351.6 240.6h.8v.8h-.8zM357.6 225.2h.8v.8h-.8zM353.6 233.5h.8v.8h-.8zM349.5 233.9h.8v.8h-.8zM360.7 244.3h.8v.8h-.8zM361.8 231.0h.8v.8h-.8zM353.3 227.9h.8v.8h-.8zM361.5 233.3h.8v.8h-.8zM356.4 238.7h.8v.8h-.8zM363.7 239.6h.8v.8h-.8zM348.8 235.7h.8v.8h-.8zM351.1 240.6h.8v.8h-.8zM351.1 241.8h.8v.8h-.8zM359.6 237.9h.8v.8h-.8zM352.3 231.3h.8v.8h-.8zM356.9 235.5h.8v.8h-.8zM352.6 240.6h.8v.8h-.8zM354.0 237.1h.8v.8h-.8zM359.1 242.3h.8v.8h-.8zM354.6 236.2h.8v.8h-.8zM357.7 223.0h.8v.8h-.8zM360.8 239.2h.8v.8h-.8zM350.9 244.6h.8v.8h-.8zM356.0 234.8h.8v.8h-.8zM347.9 230.1h.8v.8h-.8zM346.6 219.5h.8v.8h-.8zM353.9 219.8h.8v.8h-.8zM356.9 244.0h.8v.8h-.8zM354.7 233.3h.8v.8h-.8zM348.7 231.2h.8v.8h-.8zM356.1 212.5h.8v.8h-.8zM353.2 231.6h.8v.8h-.8zM351.4 217.7h.8v.8h-.8zM354.3 222.8h.8v.8h-.8zM356.3 231.7h.8v.8h-.8zM366.9 238.3h.8v.8h-.8zM359.1 222.8h.8v.8h-.8zM360.7 238.7h.8v.8h-.8zM354.4 227.7h.8v.8h-.8zM351.7 236.0h.8v.8h-.8zM349.8 236.7h.8v.8h-.8zM352.2 232.1h.8v.8h-.8zM357.9 234.7h.8v.8h-.8zM345.6 240.7h.8v.8h-.8zM359.5 224.0h.8v.8h-.8zM343.7 221.4h.8v.8h-.8zM354.0 228.4h.8v.8h-.8zM357.4 245.3h.8v.8h-.8zM349.4 239.6h.8v.8h-.8zM357.1 239.7h.8v.8h-.8zM352.2 243.9h.8v.8h-.8zM360.3 225.7h.8v.8h-.8zM354.8 226.7h.8v.8h-.8zM355.9 232.7h.8v.8h-.8zM361.8 237.8h.8v.8h-.8zM349.5 234.4h.8v.8h-.8zM354.8 226.6h.8v.8h-.8zM355.0 241.3h.8v.8h-.8zM352.8 228.2h.8v.8h-.8zM346.3 229.3h.8v.8h-.8zM361.1 229.5h.8v.8h-.8zM349.1 232.6h.8v.8h-.8zM365.4 236.3h.8v.8h-.8zM353.4 235.8h.8v.8h-.8zM357.9 235.4h.8v.8h-.8zM357.1 232.5h.8v.8h-.8zM356.5 238.3h.8v.8h-.8zM357.0 221.7h.8v.8h-.8zM352.3 230.9h.8v.8h-.8zM354.4 238.8h.8v.8h-.8zM352.8 239.0h.8v.8h-.8zM353.2 221.6h.8v.8h-.8zM354.1 235.1h.8v.8h-.8zM357.6 221.5h.8v.8h-.8zM352.2 233.6h.8v.8h-.8zM366.1 239.0h.8v.8h-.8zM347.5 251.9h.8v.8h-.8zM357.9 234.3h.8v.8h-.8zM357.8 233.8h.8v.8h-.8zM361.2 244.0h.8v.8h-.8zM368.7 241.3h.8v.8h-.8zM356.2 240.1h.8v.8h-.8zM348.7 248.8h.8v.8h-.8zM354.5 228.7h.8v.8h-.8zM353.8 227.4h.8v.8h-.8zM352.6 231.2h.8v.8h-.8zM351.5 217.6h.8v.8h-.8zM355.1 242.1h.8v.8h-.8zM353.6 223.8h.8v.8h-.8zM352.4 227.4h.8v.8h-.8zM347.4 237.5h.8v.8h-.8zM349.6 226.8h.8v.8h-.8zM355.1 229.4h.8v.8h-.8zM357.8 223.2h.8v.8h-.8zM350.1 222.2h.8v.8h-.8zM351.4 242.5h.8v.8h-.8zM348.5 229.7h.8v.8h-.8zM356.4 228.2h.8v.8h-.8zM356.9 242.8h.8v.8h-.8zM350.6 234.6h.8v.8h-.8zM351.1 226.2h.8v.8h-.8zM361.1 222.2h.8v.8h-.8z" fill="#fff" fill-opacity="0.07"/>
<path d="M366.3 233.8h.8v.8h-.8zM360.3 231.2h.8v.8h-.8zM366.1 232.8h.8v.8h-.8zM374.9 228.8h.8v.8h-.8zM373.7 236.4h.8v.8h-.8zM384.0 224.8h.8v.8h-.8zM376.7 235.8h.8v.8h-.8zM372.9 229.5h.8v.8h-.8zM370.8 236.8h.8v.8h-.8zM377.1 236.4h.8v.8h-.8zM380.1 222.2h.8v.8h-.8zM371.4 229.1h.8v.8h-.8zM376.1 232.3h.8v.8h-.8zM380.6 226.1h.8v.8h-.8zM370.2 227.4h.8v.8h-.8zM377.3 237.4h.8v.8h-.8zM383.7 224.7h.8v.8h-.8zM370.0 231.2h.8v.8h-.8zM378.6 223.3h.8v.8h-.8zM363.6 229.6h.8v.8h-.8zM369.1 234.2h.8v.8h-.8zM375.4 224.2h.8v.8h-.8zM369.3 235.1h.8v.8h-.8zM374.1 232.5h.8v.8h-.8zM376.7 238.2h.8v.8h-.8zM377.2 221.1h.8v.8h-.8zM369.6 232.5h.8v.8h-.8zM384.9 232.4h.8v.8h-.8zM376.3 233.5h.8v.8h-.8zM370.6 234.1h.8v.8h-.8zM363.6 230.6h.8v.8h-.8zM371.6 236.2h.8v.8h-.8zM383.7 239.4h.8v.8h-.8zM370.1 231.8h.8v.8h-.8zM371.7 236.2h.8v.8h-.8zM377.7 235.8h.8v.8h-.8zM373.0 232.2h.8v.8h-.8zM368.7 229.6h.8v.8h-.8zM384.1 226.1h.8v.8h-.8zM375.6 228.4h.8v.8h-.8zM372.5 230.7h.8v.8h-.8zM370.8 232.7h.8v.8h-.8zM365.9 230.3h.8v.8h-.8zM367.4 233.4h.8v.8h-.8zM367.9 221.5h.8v.8h-.8zM368.5 225.4h.8v.8h-.8zM374.9 235.9h.8v.8h-.8zM374.4 238.0h.8v.8h-.8zM378.9 231.2h.8v.8h-.8zM364.2 227.9h.8v.8h-.8zM369.9 232.5h.8v.8h-.8zM379.9 230.4h.8v.8h-.8zM369.6 232.1h.8v.8h-.8zM371.8 228.0h.8v.8h-.8zM376.5 236.2h.8v.8h-.8zM378.4 232.2h.8v.8h-.8zM359.0 238.2h.8v.8h-.8zM377.1 239.5h.8v.8h-.8zM366.0 233.6h.8v.8h-.8zM378.2 226.6h.8v.8h-.8zM363.8 240.4h.8v.8h-.8zM376.9 230.5h.8v.8h-.8zM371.4 239.8h.8v.8h-.8zM382.1 228.1h.8v.8h-.8zM388.8 228.1h.8v.8h-.8zM368.1 235.2h.8v.8h-.8zM378.5 236.7h.8v.8h-.8zM381.6 233.7h.8v.8h-.8zM374.1 228.2h.8v.8h-.8zM368.7 232.6h.8v.8h-.8zM370.4 234.6h.8v.8h-.8zM381.8 231.1h.8v.8h-.8zM385.2 238.7h.8v.8h-.8zM369.7 234.2h.8v.8h-.8zM374.5 240.9h.8v.8h-.8zM368.6 232.5h.8v.8h-.8zM378.9 232.5h.8v.8h-.8zM383.7 229.0h.8v.8h-.8zM372.3 235.6h.8v.8h-.8zM388.0 237.5h.8v.8h-.8zM374.6 227.6h.8v.8h-.8zM368.1 228.6h.8v.8h-.8zM383.4 236.4h.8v.8h-.8zM377.4 231.3h.8v.8h-.8zM362.1 233.5h.8v.8h-.8zM369.9 238.3h.8v.8h-.8zM379.2 235.9h.8v.8h-.8zM370.0 233.7h.8v.8h-.8zM382.0 244.4h.8v.8h-.8zM364.9 241.0h.8v.8h-.8zM374.2 229.2h.8v.8h-.8zM376.9 232.5h.8v.8h-.8zM375.6 236.0h.8v.8h-.8z" fill="#fff" fill-opacity="0.45"/>
<path d="M379.5 233.3h.8v.8h-.8zM375.2 239.2h.8v.8h-.8zM372.0 225.8h.8v.8h-.8zM363.1 230.4h.8v.8h-.8zM370.1 234.9h.8v.8h-.8zM369.4 219.6h.8v.8h-.8zM369.9 239.6h.8v.8h-.8zM373.3 243.4h.8v.8h-.8zM379.3 237.8h.8v.8h-.8zM360.9 243.2h.8v.8h-.8zM374.9 233.4h.8v.8h-.8zM371.8 238.1h.8v.8h-.8zM372.6 227.4h.8v.8h-.8zM380.9 224.3h.8v.8h-.8zM371.8 238.3h.8v.8h-.8zM372.6 235.7h.8v.8h-.8zM360.0 234.7h.8v.8h-.8zM371.7 234.1h.8v.8h-.8zM380.0 234.9h.8v.8h-.8zM383.6 231.2h.8v.8h-.8zM370.5 234.4h.8v.8h-.8zM370.7 237.0h.8v.8h-.8zM364.0 232.9h.8v.8h-.8zM361.6 226.6h.8v.8h-.8zM373.6 235.5h.8v.8h-.8zM364.7 236.1h.8v.8h-.8zM366.7 235.6h.8v.8h-.8zM382.2 229.1h.8v.8h-.8zM370.6 241.0h.8v.8h-.8zM376.4 238.0h.8v.8h-.8zM370.9 231.9h.8v.8h-.8zM371.7 240.8h.8v.8h-.8zM365.9 243.6h.8v.8h-.8zM376.7 232.5h.8v.8h-.8zM368.1 229.9h.8v.8h-.8zM378.3 239.2h.8v.8h-.8zM365.8 237.1h.8v.8h-.8zM377.0 236.4h.8v.8h-.8zM375.9 229.9h.8v.8h-.8zM368.6 233.6h.8v.8h-.8zM382.2 235.1h.8v.8h-.8zM362.4 226.4h.8v.8h-.8zM373.0 233.5h.8v.8h-.8zM378.4 238.2h.8v.8h-.8zM373.6 235.4h.8v.8h-.8zM364.7 241.2h.8v.8h-.8zM379.6 228.7h.8v.8h-.8zM378.4 232.4h.8v.8h-.8zM375.1 229.4h.8v.8h-.8zM370.5 231.1h.8v.8h-.8zM384.9 230.2h.8v.8h-.8zM378.3 234.1h.8v.8h-.8zM380.5 233.3h.8v.8h-.8zM374.5 234.8h.8v.8h-.8zM377.1 223.3h.8v.8h-.8zM385.5 232.6h.8v.8h-.8zM375.4 235.0h.8v.8h-.8zM378.4 239.8h.8v.8h-.8zM369.4 232.7h.8v.8h-.8zM375.9 234.7h.8v.8h-.8zM377.5 237.2h.8v.8h-.8zM373.1 233.8h.8v.8h-.8zM371.5 218.0h.8v.8h-.8zM361.9 223.1h.8v.8h-.8zM382.1 233.8h.8v.8h-.8zM365.4 230.8h.8v.8h-.8zM373.4 241.4h.8v.8h-.8zM370.6 229.6h.8v.8h-.8zM378.1 222.9h.8v.8h-.8zM371.6 239.3h.8v.8h-.8zM363.1 237.6h.8v.8h-.8zM368.1 229.3h.8v.8h-.8zM367.8 227.8h.8v.8h-.8zM383.3 241.0h.8v.8h-.8zM374.7 237.0h.8v.8h-.8zM376.1 237.0h.8v.8h-.8zM369.6 240.0h.8v.8h-.8zM350.0 227.7h.8v.8h-.8zM370.8 233.0h.8v.8h-.8zM366.5 234.9h.8v.8h-.8zM380.5 232.7h.8v.8h-.8zM368.6 231.9h.8v.8h-.8zM366.0 234.6h.8v.8h-.8zM368.6 235.8h.8v.8h-.8zM376.0 238.8h.8v.8h-.8zM358.9 233.1h.8v.8h-.8zM379.9 239.9h.8v.8h-.8zM361.0 230.7h.8v.8h-.8zM375.8 229.9h.8v.8h-.8zM375.0 224.9h.8v.8h-.8zM379.6 224.3h.8v.8h-.8zM369.8 235.0h.8v.8h-.8zM380.3 228.0h.8v.8h-.8zM366.3 231.3h.8v.8h-.8zM375.0 239.3h.8v.8h-.8zM389.9 228.9h.8v.8h-.8z" fill="#fff" fill-opacity="0.5"/>
<path d="M375.3 230.9h.8v.8h-.8zM379.1 234.5h.8v.8h-.8zM368.0 229.1h.8v.8h-.8zM367.2 234.0h.8v.8h-.8zM375.6 225.7h.8v.8h-.8zM379.7 225.8h.8v.8h-.8zM372.5 235.4h.8v.8h-.8zM368.8 232.5h.8v.8h-.8zM367.4 227.7h.8v.8h-.8zM369.7 233.1h.8v.8h-.8zM373.6 233.5h.8v.8h-.8zM383.2 233.5h.8v.8h-.8zM370.0 235.8h.8v.8h-.8zM372.6 238.8h.8v.8h-.8zM373.9 242.1h.8v.8h-.8zM377.1 234.8h.8v.8h-.8zM382.0 226.5h.8v.8h-.8zM374.9 231.0h.8v.8h-.8zM375.1 236.5h.8v.8h-.8zM372.4 236.5h.8v.8h-.8zM373.4 224.5h.8v.8h-.8zM371.7 236.0h.8v.8h-.8zM373.7 236.7h.8v.8h-.8zM376.1 239.4h.8v.8h-.8zM374.4 225.2h.8v.8h-.8zM380.2 233.0h.8v.8h-.8zM369.2 226.9h.8v.8h-.8zM373.7 226.9h.8v.8h-.8zM378.7 244.1h.8v.8h-.8zM380.8 229.4h.8v.8h-.8zM375.4 234.1h.8v.8h-.8zM369.4 232.1h.8v.8h-.8zM365.9 234.0h.8v.8h-.8zM359.7 237.1h.8v.8h-.8zM376.7 238.9h.8v.8h-.8zM372.4 223.9h.8v.8h-.8zM371.8 227.3h.8v.8h-.8zM370.3 231.3h.8v.8h-.8zM375.6 230.2h.8v.8h-.8zM363.0 227.3h.8v.8h-.8zM369.2 234.3h.8v.8h-.8zM372.4 228.6h.8v.8h-.8zM370.2 239.4h.8v.8h-.8zM374.2 238.1h.8v.8h-.8zM376.8 236.0h.8v.8h-.8zM382.5 234.9h.8v.8h-.8zM361.7 236.0h.8v.8h-.8zM376.3 231.0h.8v.8h-.8zM379.5 237.2h.8v.8h-.8zM382.4 232.4h.8v.8h-.8zM380.3 219.5h.8v.8h-.8zM372.6 235.6h.8v.8h-.8zM370.6 230.5h.8v.8h-.8zM368.8 227.9h.8v.8h-.8zM376.9 234.2h.8v.8h-.8zM373.0 245.2h.8v.8h-.8zM361.8 231.3h.8v.8h-.8zM367.5 238.3h.8v.8h-.8zM368.7 230.3h.8v.8h-.8zM372.1 233.2h.8v.8h-.8zM380.6 239.4h.8v.8h-.8zM391.7 225.1h.8v.8h-.8zM375.7 236.9h.8v.8h-.8zM376.8 232.2h.8v.8h-.8zM378.7 231.4h.8v.8h-.8zM364.1 230.6h.8v.8h-.8zM375.4 234.6h.8v.8h-.8zM370.0 226.7h.8v.8h-.8zM370.5 229.6h.8v.8h-.8zM376.2 232.0h.8v.8h-.8zM378.3 230.4h.8v.8h-.8zM370.6 222.1h.8v.8h-.8zM390.4 236.1h.8v.8h-.8zM382.6 228.8h.8v.8h-.8zM360.8 231.1h.8v.8h-.8zM372.1 231.9h.8v.8h-.8zM367.7 242.3h.8v.8h-.8zM363.6 230.1h.8v.8h-.8zM367.0 232.7h.8v.8h-.8zM380.6 240.3h.8v.8h-.8zM374.1 229.9h.8v.8h-.8zM367.7 232.1h.8v.8h-.8zM375.9 228.3h.8v.8h-.8zM380.2 231.5h.8v.8h-.8zM375.9 232.7h.8v.8h-.8zM371.2 231.6h.8v.8h-.8zM373.8 229.0h.8v.8h-.8zM369.9 237.5h.8v.8h-.8zM369.4 240.5h.8v.8h-.8zM373.3 232.6h.8v.8h-.8zM386.8 237.0h.8v.8h-.8z" fill="#fff" fill-opacity="0.55"/>
<ellipse cx="373.6" cy="233.4" rx="15.40" ry="12.32" transform="rotate(0 373.6 233.4)" fill="url(#soft)" opacity="0.1"/>
<ellipse cx="354.5" cy="233.4" rx="13.30" ry="17.50" transform="rotate(0 354.5 233.4)" fill="url(#soft)" opacity="0.14"/>
<ellipse cx="354.5" cy="233.4" rx="9.52" ry="13.72" transform="rotate(0 354.5 233.4)" fill="url(#cone)" opacity="0.97"/>
</svg></g>
<g filter="url(#cmap)"><rect x="148.2" y="320.4" width="77.4" height="78.0" fill="#000"/>
<svg x="148.2" y="320.4" width="77.4" height="78.0" viewBox="148.2 320.4 77.4 78.0" overflow="hidden">
<path d="M167.9 343.2h.8v.8h-.8zM184.7 340.3h.8v.8h-.8zM175.3 348.2h.8v.8h-.8zM184.1 342.4h.8v.8h-.8zM183.7 344.7h.8v.8h-.8zM179.5 349.2h.8v.8h-.8zM179.7 342.2h.8v.8h-.8zM185.7 342.5h.8v.8h-.8zM183.1 345.9h.8v.8h-.8zM193.4 336.1h.8v.8h-.8zM181.3 340.4h.8v.8h-.8zM173.5 342.1h.8v.8h-.8zM183.1 340.8h.8v.8h-.8zM190.0 337.4h.8v.8h-.8zM184.3 342.8h.8v.8h-.8zM171.1 343.1h.8v.8h-.8zM175.5 341.9h.8v.8h-.8zM168.5 344.3h.8v.8h-.8zM170.7 342.7h.8v.8h-.8zM180.3 343.8h.8v.8h-.8zM176.0 339.1h.8v.8h-.8zM185.8 343.9h.8v.8h-.8zM188.4 341.9h.8v.8h-.8zM176.5 345.4h.8v.8h-.8zM178.0 343.6h.8v.8h-.8zM174.4 342.2h.8v.8h-.8zM175.7 342.0h.8v.8h-.8zM178.8 343.3h.8v.8h-.8zM178.5 346.1h.8v.8h-.8zM174.2 346.5h.8v.8h-.8zM178.8 349.1h.8v.8h-.8zM179.2 340.5h.8v.8h-.8zM172.2 346.0h.8v.8h-.8zM194.8 346.4h.8v.8h-.8zM180.6 343.1h.8v.8h-.8zM175.9 341.6h.8v.8h-.8zM194.4 345.8h.8v.8h-.8zM183.3 345.9h.8v.8h-.8zM194.2 343.9h.8v.8h-.8zM176.1 342.0h.8v.8h-.8zM176.7 340.7h.8v.8h-.8zM181.6 345.1h.8v.8h-.8zM187.3 342.7h.8v.8h-.8zM181.2 343.8h.8v.8h-.8zM176.9 343.6h.8v.8h-.8zM179.8 344.1h.8v.8h-.8zM187.3 341.9h.8v.8h-.8zM177.1 341.1h.8v.8h-.8zM167.2 344.0h.8v.8h-.8zM180.3 339.6h.8v.8h-.8zM172.8 341.4h.8v.8h-.8zM178.8 343.7h.8v.8h-.8zM187.8 343.3h.8v.8h-.8zM164.6 346.9h.8v.8h-.8zM183.6 345.1h.8v.8h-.8zM182.8 343.1h.8v.8h-.8zM184.9 343.4h.8v.8h-.8zM179.6 341.5h.8v.8h-.8zM184.3 344.8h.8v.8h-.8zM190.3 347.4h.8v.8h-.8zM169.6 341.9h.8v.8h-.8zM174.6 345.6h.8v.8h-.8zM179.0 340.9h.8v.8h-.8zM188.4 343.2h.8v.8h-.8zM183.6 344.6h.8v.8h-.8zM185.9 342.5h.8v.8h-.8zM178.8 348.4h.8v.8h-.8zM187.7 340.9h.8v.8h-.8zM170.4 346.6h.8v.8h-.8zM178.6 341.5h.8v.8h-.8zM183.5 342.4h.8v.8h-.8zM181.0 344.5h.8v.8h-.8zM182.9 340.7h.8v.8h-.8zM172.9 345.0h.8v.8h-.8zM183.6 344.8h.8v.8h-.8zM180.9 341.7h.8v.8h-.8zM179.3 342.0h.8v.8h-.8zM188.1 341.9h.8v.8h-.8zM177.6 339.5h.8v.8h-.8zM167.7 335.6h.8v.8h-.8zM186.0 344.3h.8v.8h-.8zM190.5 339.7h.8v.8h-.8zM182.4 343.6h.8v.8h-.8zM173.5 342.4h.8v.8h-.8zM172.9 344.9h.8v.8h-.8zM176.3 343.8h.8v.8h-.8zM184.6 343.4h.8v.8h-.8zM189.8 345.0h.8v.8h-.8zM186.8 344.8h.8v.8h-.8zM178.9 342.1h.8v.8h-.8zM176.7 346.1h.8v.8h-.8zM185.3 340.1h.8v.8h-.8zM184.0 347.7h.8v.8h-.8zM167.3 340.4h.8v.8h-.8zM178.4 343.5h.8v.8h-.8zM186.5 343.5h.8v.8h-.8zM180.0 345.2h.8v.8h-.8zM186.1 341.8h.8v.8h-.8zM181.5 342.9h.8v.8h-.8zM173.6 337.0h.8v.8h-.8zM187.1 340.9h.8v.8h-.8zM178.8 342.7h.8v.8h-.8zM180.8 343.1h.8v.8h-.8zM182.7 342.9h.8v.8h-.8zM186.0 340.7h.8v.8h-.8zM180.2 339.2h.8v.8h-.8zM175.6 343.5h.8v.8h-.8zM180.0 340.9h.8v.8h-.8zM176.0 345.0h.8v.8h-.8zM173.2 339.4h.8v.8h-.8zM170.8 347.1h.8v.8h-.8zM169.2 344.1h.8v.8h-.8zM173.4 343.6h.8v.8h-.8zM166.0 336.9h.8v.8h-.8zM182.6 342.1h.8v.8h-.8zM167.3 341.1h.8v.8h-.8zM187.1 342.5h.8v.8h-.8zM181.9 341.5h.8v.8h-.8zM185.5 344.2h.8v.8h-.8zM174.0 340.0h.8v.8h-.8zM177.6 340.7h.8v.8h-.8zM193.3 346.3h.8v.8h-.8zM175.2 343.0h.8v.8h-.8zM183.9 339.5h.8v.8h-.8zM187.8 344.2h.8v.8h-.8zM182.9 344.0h.8v.8h-.8zM186.2 343.0h.8v.8h-.8zM190.5 343.7h.8v.8h-.8zM182.9 344.5h.8v.8h-.8zM182.5 350.9h.8v.8h-.8zM171.9 345.6h.8v.8h-.8zM187.6 345.3h.8v.8h-.8zM179.9 342.7h.8v.8h-.8zM179.7 338.7h.8v.8h-.8zM185.6 342.9h.8v.8h-.8zM179.9 343.1h.8v.8h-.8zM185.9 340.7h.8v.8h-.8zM177.2 341.8h.8v.8h-.8zM181.5 346.2h.8v.8h-.8zM162.5 342.8h.8v.8h-.8zM178.1 342.8h.8v.8h-.8zM171.0 340.7h.8v.8h-.8zM175.5 343.0h.8v.8h-.8zM175.9 343.8h.8v.8h-.8zM172.4 343.7h.8v.8h-.8zM191.0 340.1h.8v.8h-.8zM174.9 340.9h.8v.8h-.8zM188.9 340.2h.8v.8h-.8zM187.7 344.8h.8v.8h-.8zM180.7 344.0h.8v.8h-.8zM177.2 344.1h.8v.8h-.8zM170.4 341.8h.8v.8h-.8zM177.8 344.6h.8v.8h-.8zM179.0 340.8h.8v.8h-.8zM183.5 343.0h.8v.8h-.8zM165.3 344.5h.8v.8h-.8zM185.4 343.7h.8v.8h-.8zM180.0 341.2h.8v.8h-.8zM182.0 339.1h.8v.8h-.8zM179.2 344.4h.8v.8h-.8zM171.1 344.7h.8v.8h-.8zM172.2 345.6h.8v.8h-.8zM171.7 342.1h.8v.8h-.8zM173.8 346.9h.8v.8h-.8zM180.8 345.9h.8v.8h-.8zM186.7 345.3h.8v.8h-.8zM176.2 341.4h.8v.8h-.8zM190.8 347.0h.8v.8h-.8zM163.8 340.7h.8v.8h-.8zM177.6 348.1h.8v.8h-.8zM164.3 346.4h.8v.8h-.8zM170.3 342.7h.8v.8h-.8zM175.4 341.8h.8v.8h-.8zM183.7 341.7h.8v.8h-.8zM185.6 340.9h.8v.8h-.8zM179.1 345.0h.8v.8h-.8zM167.8 343.1h.8v.8h-.8zM183.9 343.9h.8v.8h-.8zM174.3 343.7h.8v.8h-.8zM181.8 347.6h.8v.8h-.8zM192.6 345.3h.8v.8h-.8zM176.1 343.8h.8v.8h-.8zM176.3 340.4h.8v.8h-.8zM175.2 339.1h.8v.8h-.8zM189.5 343.2h.8v.8h-.8zM190.8 345.0h.8v.8h-.8zM181.1 344.2h.8v.8h-.8zM180.8 344.3h.8v.8h-.8zM181.1 342.3h.8v.8h-.8zM176.0 344.8h.8v.8h-.8zM166.4 343.1h.8v.8h-.8zM170.8 346.8h.8v.8h-.8zM175.1 341.6h.8v.8h-.8zM170.1 346.0h.8v.8h-.8zM182.8 346.2h.8v.8h-.8zM177.6 345.8h.8v.8h-.8zM185.3 342.9h.8v.8h-.8zM174.3 342.5h.8v.8h-.8zM190.7 345.7h.8v.8h-.8zM191.9 340.7h.8v.8h-.8zM178.1 344.2h.8v.8h-.8zM180.5 347.6h.8v.8h-.8zM182.9 343.3h.8v.8h-.8zM195.6 342.1h.8v.8h-.8zM180.2 342.3h.8v.8h-.8zM173.8 345.2h.8v.8h-.8zM169.9 341.8h.8v.8h-.8zM185.0 342.3h.8v.8h-.8zM183.5 340.9h.8v.8h-.8zM185.2 341.2h.8v.8h-.8zM165.0 340.8h.8v.8h-.8zM175.3 339.0h.8v.8h-.8zM187.9 344.8h.8v.8h-.8zM168.1 346.8h.8v.8h-.8zM176.1 341.2h.8v.8h-.8zM182.5 339.1h.8v.8h-.8zM183.9 339.1h.8v.8h-.8zM182.0 342.6h.8v.8h-.8zM184.1 344.7h.8v.8h-.8zM174.5 342.9h.8v.8h-.8zM184.5 345.3h.8v.8h-.8zM182.1 340.4h.8v.8h-.8zM179.0 344.9h.8v.8h-.8zM183.2 342.6h.8v.8h-.8zM184.6 344.9h.8v.8h-.8zM184.2 339.3h.8v.8h-.8zM186.4 343.4h.8v.8h-.8zM179.6 343.0h.8v.8h-.8zM193.1 343.6h.8v.8h-.8zM168.3 343.5h.8v.8h-.8zM174.6 341.2h.8v.8h-.8zM167.6 341.6h.8v.8h-.8zM169.6 341.9h.8v.8h-.8zM169.6 344.1h.8v.8h-.8zM167.1 343.4h.8v.8h-.8zM195.6 344.4h.8v.8h-.8zM174.8 343.9h.8v.8h-.8zM183.0 339.1h.8v.8h-.8zM178.2 339.8h.8v.8h-.8zM185.6 345.3h.8v.8h-.8zM176.5 343.9h.8v.8h-.8zM175.7 345.1h.8v.8h-.8zM175.6 339.4h.8v.8h-.8zM193.6 343.8h.8v.8h-.8zM171.4 339.2h.8v.8h-.8zM176.9 343.0h.8v.8h-.8zM169.5 341.7h.8v.8h-.8zM181.2 342.7h.8v.8h-.8zM186.0 340.7h.8v.8h-.8zM166.0 346.4h.8v.8h-.8zM162.2 363.0h.8v.8h-.8zM161.9 363.5h.8v.8h-.8zM161.8 365.7h.8v.8h-.8zM165.9 367.0h.8v.8h-.8zM161.7 365.6h.8v.8h-.8zM161.7 373.7h.8v.8h-.8zM165.6 355.4h.8v.8h-.8zM161.2 371.3h.8v.8h-.8zM162.7 361.1h.8v.8h-.8zM159.9 344.1h.8v.8h-.8zM162.9 360.7h.8v.8h-.8zM159.7 363.4h.8v.8h-.8zM165.0 377.2h.8v.8h-.8zM165.3 368.6h.8v.8h-.8zM164.0 354.8h.8v.8h-.8zM164.1 376.0h.8v.8h-.8zM164.7 381.1h.8v.8h-.8zM161.2 354.0h.8v.8h-.8zM163.4 363.9h.8v.8h-.8zM163.6 373.5h.8v.8h-.8zM165.6 366.4h.8v.8h-.8zM166.8 356.3h.8v.8h-.8zM163.4 364.7h.8v.8h-.8zM162.4 367.2h.8v.8h-.8zM163.8 372.1h.8v.8h-.8zM164.0 374.4h.8v.8h-.8zM161.7 374.2h.8v.8h-.8zM165.2 370.2h.8v.8h-.8zM161.6 375.9h.8v.8h-.8zM159.6 378.7h.8v.8h-.8zM165.2 363.1h.8v.8h-.8zM164.3 365.6h.8v.8h-.8zM164.3 369.3h.8v.8h-.8zM163.5 366.7h.8v.8h-.8zM166.1 363.4h.8v.8h-.8zM160.9 359.5h.8v.8h-.8zM162.4 365.2h.8v.8h-.8zM164.4 367.0h.8v.8h-.8zM163.1 363.6h.8v.8h-.8zM162.6 367.8h.8v.8h-.8zM163.6 383.2h.8v.8h-.8zM162.5 357.7h.8v.8h-.8zM162.2 373.6h.8v.8h-.8zM162.6 372.4h.8v.8h-.8zM163.9 355.8h.8v.8h-.8zM162.8 362.3h.8v.8h-.8zM163.0 363.4h.8v.8h-.8zM159.9 353.0h.8v.8h-.8zM163.7 366.9h.8v.8h-.8zM163.4 360.2h.8v.8h-.8zM163.8 363.4h.8v.8h-.8zM162.5 364.6h.8v.8h-.8zM164.9 364.4h.8v.8h-.8zM165.2 377.7h.8v.8h-.8zM162.5 378.9h.8v.8h-.8zM161.6 360.4h.8v.8h-.8zM163.4 367.8h.8v.8h-.8zM161.9 364.8h.8v.8h-.8zM161.9 365.4h.8v.8h-.8zM165.5 355.8h.8v.8h-.8zM162.9 351.6h.8v.8h-.8zM163.8 357.0h.8v.8h-.8zM163.5 362.7h.8v.8h-.8zM164.5 366.2h.8v.8h-.8zM163.3 368.5h.8v.8h-.8zM164.6 369.3h.8v.8h-.8zM162.9 376.1h.8v.8h-.8zM161.3 354.8h.8v.8h-.8zM163.6 356.9h.8v.8h-.8zM161.7 382.4h.8v.8h-.8zM165.1 357.0h.8v.8h-.8zM166.3 375.7h.8v.8h-.8zM162.4 370.3h.8v.8h-.8zM161.4 361.4h.8v.8h-.8zM164.9 373.9h.8v.8h-.8zM161.2 365.4h.8v.8h-.8zM163.3 379.7h.8v.8h-.8zM164.4 357.7h.8v.8h-.8zM163.5 379.4h.8v.8h-.8zM165.9 368.5h.8v.8h-.8zM165.4 365.5h.8v.8h-.8zM163.0 360.7h.8v.8h-.8zM161.4 367.5h.8v.8h-.8zM162.5 386.9h.8v.8h-.8zM161.5 358.4h.8v.8h-.8zM161.9 374.0h.8v.8h-.8zM163.5 379.4h.8v.8h-.8zM164.1 365.8h.8v.8h-.8zM164.2 362.1h.8v.8h-.8zM164.5 364.2h.8v.8h-.8zM160.2 368.7h.8v.8h-.8zM164.8 371.5h.8v.8h-.8zM162.7 371.3h.8v.8h-.8zM161.3 361.0h.8v.8h-.8zM164.0 372.7h.8v.8h-.8zM163.1 362.4h.8v.8h-.8zM160.7 367.3h.8v.8h-.8zM166.3 365.1h.8v.8h-.8zM161.0 374.6h.8v.8h-.8zM161.9 378.5h.8v.8h-.8zM165.7 359.3h.8v.8h-.8zM165.3 362.6h.8v.8h-.8zM164.2 368.4h.8v.8h-.8zM163.3 364.1h.8v.8h-.8zM162.7 363.2h.8v.8h-.8zM163.8 361.0h.8v.8h-.8zM163.9 349.6h.8v.8h-.8zM162.3 353.5h.8v.8h-.8zM160.6 362.1h.8v.8h-.8zM164.9 383.6h.8v.8h-.8zM163.5 373.5h.8v.8h-.8zM164.2 381.9h.8v.8h-.8zM163.8 361.8h.8v.8h-.8zM164.7 361.4h.8v.8h-.8zM161.7 361.2h.8v.8h-.8zM163.9 361.2h.8v.8h-.8zM163.4 371.1h.8v.8h-.8zM166.4 368.3h.8v.8h-.8zM162.5 368.0h.8v.8h-.8zM161.4 371.9h.8v.8h-.8zM161.0 366.6h.8v.8h-.8zM163.1 361.4h.8v.8h-.8zM166.2 369.9h.8v.8h-.8zM163.4 369.1h.8v.8h-.8zM163.6 366.6h.8v.8h-.8zM163.0 347.3h.8v.8h-.8zM165.8 375.1h.8v.8h-.8zM163.2 364.5h.8v.8h-.8zM163.2 363.2h.8v.8h-.8zM162.5 363.7h.8v.8h-.8zM160.8 365.5h.8v.8h-.8zM162.5 366.5h.8v.8h-.8zM162.4 368.9h.8v.8h-.8zM165.7 368.6h.8v.8h-.8zM163.9 371.2h.8v.8h-.8zM162.2 373.5h.8v.8h-.8zM162.5 374.1h.8v.8h-.8zM163.5 357.5h.8v.8h-.8zM160.4 366.9h.8v.8h-.8zM162.9 364.9h.8v.8h-.8zM163.6 391.5h.8v.8h-.8zM165.1 361.8h.8v.8h-.8zM162.4 364.0h.8v.8h-.8zM160.2 378.1h.8v.8h-.8zM163.4 368.5h.8v.8h-.8zM163.8 365.2h.8v.8h-.8zM164.5 376.2h.8v.8h-.8zM163.1 358.8h.8v.8h-.8zM161.1 375.0h.8v.8h-.8zM163.3 376.1h.8v.8h-.8zM163.0 353.1h.8v.8h-.8zM164.2 368.7h.8v.8h-.8zM164.8 365.6h.8v.8h-.8zM167.6 365.0h.8v.8h-.8zM164.4 369.2h.8v.8h-.8zM162.2 366.1h.8v.8h-.8zM164.0 365.4h.8v.8h-.8zM164.4 366.0h.8v.8h-.8zM161.7 378.0h.8v.8h-.8zM163.1 368.1h.8v.8h-.8zM161.9 355.7h.8v.8h-.8zM163.1 368.4h.8v.8h-.8zM163.0 363.6h.8v.8h-.8zM162.1 363.0h.8v.8h-.8zM162.2 365.3h.8v.8h-.8zM161.9 366.1h.8v.8h-.8zM163.1 361.3h.8v.8h-.8zM162.1 370.0h.8v.8h-.8zM163.6 361.1h.8v.8h-.8zM164.0 361.9h.8v.8h-.8zM162.6 367.7h.8v.8h-.8zM162.2 371.0h.8v.8h-.8zM162.4 361.8h.8v.8h-.8zM165.4 366.1h.8v.8h-.8zM165.1 346.6h.8v.8h-.8zM161.4 359.2h.8v.8h-.8zM160.4 371.0h.8v.8h-.8zM162.9 354.0h.8v.8h-.8zM165.1 358.2h.8v.8h-.8zM164.9 370.6h.8v.8h-.8zM163.9 366.3h.8v.8h-.8zM163.0 355.4h.8v.8h-.8zM162.3 371.4h.8v.8h-.8zM159.3 376.7h.8v.8h-.8zM169.6 344.4h.8v.8h-.8zM159.7 370.5h.8v.8h-.8zM164.8 363.7h.8v.8h-.8zM164.7 387.0h.8v.8h-.8zM163.1 362.8h.8v.8h-.8zM165.0 353.1h.8v.8h-.8zM159.4 372.9h.8v.8h-.8zM164.4 353.1h.8v.8h-.8zM163.4 362.9h.8v.8h-.8zM162.7 370.5h.8v.8h-.8zM163.4 366.5h.8v.8h-.8zM162.8 347.7h.8v.8h-.8zM160.4 367.6h.8v.8h-.8zM166.3 351.1h.8v.8h-.8zM162.0 372.9h.8v.8h-.8zM164.1 383.9h.8v.8h-.8zM159.2 363.0h.8v.8h-.8zM161.8 370.2h.8v.8h-.8zM161.8 378.1h.8v.8h-.8zM162.5 362.1h.8v.8h-.8zM163.0 351.2h.8v.8h-.8zM165.3 348.7h.8v.8h-.8zM161.7 382.2h.8v.8h-.8zM163.0 361.3h.8v.8h-.8zM163.2 368.6h.8v.8h-.8zM160.8 368.0h.8v.8h-.8zM162.1 384.9h.8v.8h-.8zM164.9 363.5h.8v.8h-.8zM161.3 373.5h.8v.8h-.8zM165.0 362.8h.8v.8h-.8zM163.9 359.2h.8v.8h-.8zM164.8 360.4h.8v.8h-.8zM163.1 351.9h.8v.8h-.8zM162.2 370.5h.8v.8h-.8zM162.8 361.2h.8v.8h-.8zM160.7 363.3h.8v.8h-.8zM163.9 372.7h.8v.8h-.8zM163.1 360.4h.8v.8h-.8zM163.5 344.8h.8v.8h-.8zM160.5 360.4h.8v.8h-.8zM166.9 363.3h.8v.8h-.8zM158.7 364.8h.8v.8h-.8zM161.6 368.7h.8v.8h-.8zM161.6 361.9h.8v.8h-.8zM161.7 366.8h.8v.8h-.8zM165.0 363.6h.8v.8h-.8zM162.4 376.4h.8v.8h-.8zM163.8 367.1h.8v.8h-.8zM165.4 373.0h.8v.8h-.8zM163.4 358.9h.8v.8h-.8zM162.8 360.5h.8v.8h-.8zM161.8 356.1h.8v.8h-.8zM165.7 363.2h.8v.8h-.8zM162.7 355.7h.8v.8h-.8zM162.6 362.9h.8v.8h-.8zM163.2 374.3h.8v.8h-.8zM165.1 363.5h.8v.8h-.8zM161.5 355.7h.8v.8h-.8zM161.5 376.5h.8v.8h-.8zM160.1 365.7h.8v.8h-.8zM162.8 370.5h.8v.8h-.8zM163.0 383.0h.8v.8h-.8zM164.6 364.9h.8v.8h-.8zM163.1 361.5h.8v.8h-.8zM164.2 359.2h.8v.8h-.8zM164.6 357.9h.8v.8h-.8z" fill="#fff" fill-opacity="0.07"/>
<path d="M155.3 351.1h.8v.8h-.8zM161.0 343.1h.8v.8h-.8zM154.5 343.2h.8v.8h-.8zM170.6 354.8h.8v.8h-.8zM152.1 333.3h.8v.8h-.8zM159.6 339.0h.8v.8h-.8zM169.5 337.8h.8v.8h-.8zM163.3 341.2h.8v.8h-.8zM157.6 339.8h.8v.8h-.8zM161.7 347.0h.8v.8h-.8zM156.3 354.2h.8v.8h-.8zM161.6 342.1h.8v.8h-.8zM160.1 348.1h.8v.8h-.8zM158.5 350.1h.8v.8h-.8zM156.9 344.3h.8v.8h-.8zM165.5 339.5h.8v.8h-.8zM161.3 348.3h.8v.8h-.8zM157.0 342.1h.8v.8h-.8zM165.1 340.7h.8v.8h-.8zM163.6 349.7h.8v.8h-.8zM156.3 343.6h.8v.8h-.8zM163.7 345.2h.8v.8h-.8zM153.4 341.4h.8v.8h-.8zM161.6 340.5h.8v.8h-.8zM156.7 344.0h.8v.8h-.8zM148.8 333.1h.8v.8h-.8zM169.7 348.8h.8v.8h-.8zM162.3 349.9h.8v.8h-.8zM166.9 347.3h.8v.8h-.8zM163.6 323.2h.8v.8h-.8zM165.8 350.2h.8v.8h-.8zM158.2 339.6h.8v.8h-.8zM174.3 334.5h.8v.8h-.8zM159.4 335.0h.8v.8h-.8zM161.9 352.5h.8v.8h-.8zM157.5 338.3h.8v.8h-.8zM163.3 341.7h.8v.8h-.8zM155.8 345.1h.8v.8h-.8zM150.7 346.5h.8v.8h-.8zM165.0 349.3h.8v.8h-.8zM164.6 345.3h.8v.8h-.8zM159.5 354.0h.8v.8h-.8zM164.2 346.4h.8v.8h-.8zM167.1 336.0h.8v.8h-.8zM164.2 339.7h.8v.8h-.8zM161.8 351.6h.8v.8h-.8zM170.2 342.4h.8v.8h-.8zM166.9 343.4h.8v.8h-.8zM162.4 344.3h.8v.8h-.8zM157.4 359.8h.8v.8h-.8zM166.1 340.7h.8v.8h-.8zM164.7 343.7h.8v.8h-.8zM160.7 348.6h.8v.8h-.8zM162.4 344.8h.8v.8h-.8zM165.0 341.4h.8v.8h-.8zM165.9 337.9h.8v.8h-.8zM162.6 346.2h.8v.8h-.8zM163.0 341.6h.8v.8h-.8zM165.6 334.8h.8v.8h-.8zM159.1 330.2h.8v.8h-.8zM160.8 340.5h.8v.8h-.8zM166.6 344.4h.8v.8h-.8zM161.6 348.6h.8v.8h-.8zM158.8 338.6h.8v.8h-.8zM166.6 352.9h.8v.8h-.8zM162.4 337.5h.8v.8h-.8zM162.7 344.3h.8v.8h-.8zM155.0 350.7h.8v.8h-.8zM167.8 338.7h.8v.8h-.8zM161.1 346.5h.8v.8h-.8zM166.4 344.1h.8v.8h-.8zM160.4 330.0h.8v.8h-.8zM161.4 344.8h.8v.8h-.8zM166.8 341.2h.8v.8h-.8zM167.3 342.6h.8v.8h-.8zM166.9 336.2h.8v.8h-.8zM165.5 346.9h.8v.8h-.8zM163.2 341.3h.8v.8h-.8zM159.9 339.4h.8v.8h-.8zM151.1 331.1h.8v.8h-.8zM157.3 343.9h.8v.8h-.8zM175.6 338.5h.8v.8h-.8zM166.8 337.4h.8v.8h-.8zM151.3 351.5h.8v.8h-.8zM165.4 345.1h.8v.8h-.8zM172.4 338.9h.8v.8h-.8zM163.4 350.1h.8v.8h-.8zM155.2 337.7h.8v.8h-.8zM175.4 345.4h.8v.8h-.8zM175.3 352.1h.8v.8h-.8zM160.3 339.9h.8v.8h-.8zM156.3 357.7h.8v.8h-.8zM165.1 336.6h.8v.8h-.8zM167.1 344.6h.8v.8h-.8zM160.2 341.8h.8v.8h-.8zM169.5 341.0h.8v.8h-.8zM167.8 344.7h.8v.8h-.8zM172.3 339.9h.8v.8h-.8zM164.5 342.8h.8v.8h-.8zM162.9 351.0h.8v.8h-.8zM155.3 347.2h.8v.8h-.8zM158.2 328.4h.8v.8h-.8zM164.7 341.2h.8v.8h-.8zM159.7 349.6h.8v.8h-.8zM166.3 353.7h.8v.8h-.8zM171.6 340.1h.8v.8h-.8zM161.6 347.6h.8v.8h-.8zM162.9 340.4h.8v.8h-.8zM170.6 336.2h.8v.8h-.8zM164.1 345.7h.8v.8h-.8zM158.9 334.6h.8v.8h-.8zM166.3 336.5h.8v.8h-.8zM160.7 334.1h.8v.8h-.8zM166.0 343.9h.8v.8h-.8zM152.4 347.0h.8v.8h-.8zM158.6 348.8h.8v.8h-.8zM170.8 332.4h.8v.8h-.8zM164.7 355.1h.8v.8h-.8zM149.0 340.5h.8v.8h-.8zM160.2 334.8h.8v.8h-.8zM166.9 337.6h.8v.8h-.8zM164.6 337.4h.8v.8h-.8zM158.9 336.0h.8v.8h-.8zM162.1 348.2h.8v.8h-.8zM165.7 349.8h.8v.8h-.8zM170.4 343.7h.8v.8h-.8zM166.3 351.5h.8v.8h-.8zM167.7 344.8h.8v.8h-.8zM159.4 343.3h.8v.8h-.8zM153.6 351.9h.8v.8h-.8zM159.1 344.4h.8v.8h-.8zM156.1 343.7h.8v.8h-.8zM162.6 340.6h.8v.8h-.8zM156.6 331.2h.8v.8h-.8zM172.2 351.9h.8v.8h-.8zM159.6 341.1h.8v.8h-.8zM155.0 342.2h.8v.8h-.8zM156.1 342.0h.8v.8h-.8zM155.2 344.3h.8v.8h-.8zM164.1 339.7h.8v.8h-.8zM162.0 342.4h.8v.8h-.8zM171.0 346.8h.8v.8h-.8zM164.9 341.7h.8v.8h-.8zM172.9 341.9h.8v.8h-.8zM156.8 348.7h.8v.8h-.8zM165.3 338.1h.8v.8h-.8zM165.4 334.0h.8v.8h-.8zM163.6 333.7h.8v.8h-.8zM150.6 348.0h.8v.8h-.8zM159.1 338.9h.8v.8h-.8zM164.7 347.5h.8v.8h-.8zM160.1 328.8h.8v.8h-.8zM160.8 344.6h.8v.8h-.8zM151.6 335.8h.8v.8h-.8zM166.9 347.2h.8v.8h-.8zM164.0 342.0h.8v.8h-.8zM171.2 333.2h.8v.8h-.8zM156.7 342.6h.8v.8h-.8zM153.8 351.1h.8v.8h-.8zM162.4 337.3h.8v.8h-.8zM163.6 337.6h.8v.8h-.8zM163.4 342.5h.8v.8h-.8zM164.5 338.1h.8v.8h-.8zM159.5 339.8h.8v.8h-.8zM170.6 347.6h.8v.8h-.8zM170.2 338.8h.8v.8h-.8zM155.7 349.4h.8v.8h-.8zM168.9 344.0h.8v.8h-.8zM168.0 340.4h.8v.8h-.8zM170.6 340.0h.8v.8h-.8zM170.7 344.6h.8v.8h-.8zM164.0 348.7h.8v.8h-.8zM160.3 346.0h.8v.8h-.8zM167.4 334.5h.8v.8h-.8zM163.1 344.6h.8v.8h-.8zM170.2 343.6h.8v.8h-.8zM159.4 348.7h.8v.8h-.8zM160.3 337.2h.8v.8h-.8zM164.6 346.1h.8v.8h-.8zM154.5 337.2h.8v.8h-.8zM169.0 348.0h.8v.8h-.8zM154.0 352.8h.8v.8h-.8zM162.3 342.0h.8v.8h-.8zM161.8 348.4h.8v.8h-.8zM155.3 335.7h.8v.8h-.8zM161.0 347.8h.8v.8h-.8zM161.5 343.9h.8v.8h-.8zM159.7 349.7h.8v.8h-.8zM167.2 344.7h.8v.8h-.8zM168.1 348.3h.8v.8h-.8zM158.4 334.6h.8v.8h-.8zM167.3 345.2h.8v.8h-.8zM167.1 351.3h.8v.8h-.8zM159.7 338.5h.8v.8h-.8zM153.6 345.0h.8v.8h-.8zM169.8 337.6h.8v.8h-.8zM157.3 350.1h.8v.8h-.8zM156.9 338.8h.8v.8h-.8zM170.5 347.9h.8v.8h-.8zM158.1 345.4h.8v.8h-.8z" fill="#fff" fill-opacity="0.08"/>
<ellipse cx="163" cy="344" rx="14.70" ry="14.00" transform="rotate(0 163 344)" fill="url(#soft)" opacity="0.2"/>
<ellipse cx="179" cy="343" rx="14.00" ry="6.30" transform="rotate(0 179 343)" fill="url(#soft)" opacity="0.2"/>
<ellipse cx="163.2" cy="353" rx="7.28" ry="8.40" transform="rotate(0 163.2 353)" fill="url(#soft)" opacity="0.3"/>
<ellipse cx="163.4" cy="362" rx="4.76" ry="9.80" transform="rotate(0 163.4 362)" fill="url(#soft)" opacity="0.22"/>
<ellipse cx="163.6" cy="372" rx="3.08" ry="11.20" transform="rotate(0 163.6 372)" fill="url(#soft)" opacity="0.14"/>
<ellipse cx="163" cy="342.6" rx="10.08" ry="10.92" transform="rotate(0 163 342.6)" fill="url(#cone)" opacity="1.0"/>
</svg></g>
<g filter="url(#cmap)"><rect x="241.5" y="320.4" width="77.30000000000001" height="78.0" fill="#000"/>
<svg x="241.5" y="320.4" width="77.30000000000001" height="78.0" viewBox="241.5 320.4 77.30000000000001 78.0" overflow="hidden">
<path d="M279.0 338.7h.8v.8h-.8zM282.1 342.5h.8v.8h-.8zM285.6 342.1h.8v.8h-.8zM280.0 338.7h.8v.8h-.8zM282.1 334.1h.8v.8h-.8zM270.7 340.2h.8v.8h-.8zM257.2 340.6h.8v.8h-.8zM272.0 340.8h.8v.8h-.8zM270.6 341.2h.8v.8h-.8zM277.3 340.6h.8v.8h-.8zM262.6 339.4h.8v.8h-.8zM282.5 343.4h.8v.8h-.8zM265.3 337.2h.8v.8h-.8zM272.2 336.4h.8v.8h-.8zM277.1 343.1h.8v.8h-.8zM271.6 336.1h.8v.8h-.8zM250.9 341.2h.8v.8h-.8zM271.0 336.4h.8v.8h-.8zM265.3 338.0h.8v.8h-.8zM260.4 338.9h.8v.8h-.8zM263.4 341.2h.8v.8h-.8zM276.1 338.6h.8v.8h-.8zM282.0 337.3h.8v.8h-.8zM269.4 338.6h.8v.8h-.8zM256.3 335.0h.8v.8h-.8zM271.6 338.6h.8v.8h-.8zM265.5 337.7h.8v.8h-.8zM276.6 339.4h.8v.8h-.8zM267.5 338.3h.8v.8h-.8zM268.4 339.5h.8v.8h-.8zM254.1 342.4h.8v.8h-.8zM286.9 338.9h.8v.8h-.8zM276.6 337.2h.8v.8h-.8zM288.9 340.2h.8v.8h-.8zM253.6 341.4h.8v.8h-.8zM261.6 339.2h.8v.8h-.8zM262.6 337.8h.8v.8h-.8zM264.2 335.5h.8v.8h-.8zM271.5 342.0h.8v.8h-.8zM260.2 337.9h.8v.8h-.8zM268.0 336.9h.8v.8h-.8zM284.5 339.3h.8v.8h-.8zM272.8 336.7h.8v.8h-.8zM260.8 342.4h.8v.8h-.8zM258.9 338.5h.8v.8h-.8zM274.9 339.1h.8v.8h-.8zM267.2 340.1h.8v.8h-.8zM267.1 338.8h.8v.8h-.8zM272.0 337.7h.8v.8h-.8zM273.3 337.0h.8v.8h-.8zM267.4 338.7h.8v.8h-.8zM282.7 340.3h.8v.8h-.8zM266.9 339.6h.8v.8h-.8zM262.6 343.0h.8v.8h-.8zM267.5 339.7h.8v.8h-.8z" fill="#fff" fill-opacity="0.03"/>
<path d="M256.5 351.0h.8v.8h-.8zM260.2 344.8h.8v.8h-.8zM252.6 354.2h.8v.8h-.8zM262.7 369.2h.8v.8h-.8zM259.8 360.7h.8v.8h-.8zM258.9 346.0h.8v.8h-.8zM260.9 351.9h.8v.8h-.8zM254.7 375.7h.8v.8h-.8zM257.5 339.5h.8v.8h-.8zM257.6 370.5h.8v.8h-.8zM261.4 362.5h.8v.8h-.8zM251.0 354.2h.8v.8h-.8zM252.3 351.4h.8v.8h-.8zM264.6 341.7h.8v.8h-.8zM256.2 356.4h.8v.8h-.8zM257.6 347.4h.8v.8h-.8zM254.6 368.8h.8v.8h-.8zM257.5 357.0h.8v.8h-.8zM257.3 341.7h.8v.8h-.8zM256.2 360.7h.8v.8h-.8zM253.4 352.5h.8v.8h-.8zM261.9 347.8h.8v.8h-.8zM257.5 353.4h.8v.8h-.8zM255.7 358.3h.8v.8h-.8zM258.3 340.5h.8v.8h-.8zM261.4 350.1h.8v.8h-.8zM254.5 351.9h.8v.8h-.8zM260.2 353.2h.8v.8h-.8zM261.8 355.0h.8v.8h-.8zM259.6 345.7h.8v.8h-.8zM253.6 369.9h.8v.8h-.8zM253.2 348.7h.8v.8h-.8zM258.1 341.3h.8v.8h-.8zM256.5 350.9h.8v.8h-.8zM254.7 342.2h.8v.8h-.8zM256.5 359.8h.8v.8h-.8zM257.3 347.1h.8v.8h-.8zM256.7 367.3h.8v.8h-.8zM258.2 365.9h.8v.8h-.8zM261.2 363.3h.8v.8h-.8z" fill="#fff" fill-opacity="0.04"/>
<path d="M285.9 336.6h.8v.8h-.8zM277.0 339.7h.8v.8h-.8zM262.4 341.7h.8v.8h-.8zM275.0 339.9h.8v.8h-.8zM272.6 339.2h.8v.8h-.8zM258.8 343.3h.8v.8h-.8zM267.5 336.9h.8v.8h-.8zM276.9 337.7h.8v.8h-.8zM267.9 340.1h.8v.8h-.8zM289.2 340.6h.8v.8h-.8zM273.0 342.2h.8v.8h-.8zM270.4 338.7h.8v.8h-.8zM273.8 339.1h.8v.8h-.8zM270.5 339.1h.8v.8h-.8zM271.4 334.8h.8v.8h-.8zM282.7 339.6h.8v.8h-.8zM273.7 338.0h.8v.8h-.8zM266.1 336.6h.8v.8h-.8zM277.1 339.2h.8v.8h-.8zM263.7 340.6h.8v.8h-.8zM278.7 341.6h.8v.8h-.8zM272.9 337.9h.8v.8h-.8zM274.0 338.4h.8v.8h-.8zM277.3 338.5h.8v.8h-.8zM284.5 340.6h.8v.8h-.8zM264.5 342.6h.8v.8h-.8zM275.2 343.9h.8v.8h-.8zM270.6 337.4h.8v.8h-.8zM266.2 340.3h.8v.8h-.8zM257.7 338.6h.8v.8h-.8zM273.3 337.6h.8v.8h-.8zM272.2 339.3h.8v.8h-.8zM267.0 342.1h.8v.8h-.8zM262.6 338.7h.8v.8h-.8zM265.9 339.3h.8v.8h-.8zM285.7 339.2h.8v.8h-.8zM282.5 338.1h.8v.8h-.8zM283.5 343.9h.8v.8h-.8zM265.1 337.3h.8v.8h-.8zM281.7 340.1h.8v.8h-.8zM276.8 339.8h.8v.8h-.8zM285.5 339.8h.8v.8h-.8zM274.8 339.7h.8v.8h-.8zM270.6 336.3h.8v.8h-.8zM250.0 340.8h.8v.8h-.8zM267.9 338.9h.8v.8h-.8zM257.5 335.3h.8v.8h-.8zM272.9 341.7h.8v.8h-.8zM276.3 339.1h.8v.8h-.8zM273.0 338.2h.8v.8h-.8zM289.8 343.6h.8v.8h-.8zM278.7 339.8h.8v.8h-.8zM268.8 342.9h.8v.8h-.8zM266.4 338.3h.8v.8h-.8zM275.0 338.0h.8v.8h-.8zM257.9 340.9h.8v.8h-.8zM263.4 335.9h.8v.8h-.8z" fill="#fff" fill-opacity="0.06"/>
<path d="M250.4 341.1h.8v.8h-.8zM257.5 334.1h.8v.8h-.8zM255.4 344.1h.8v.8h-.8zM254.7 345.9h.8v.8h-.8zM252.2 340.2h.8v.8h-.8zM249.5 345.3h.8v.8h-.8zM248.1 341.4h.8v.8h-.8zM256.9 335.6h.8v.8h-.8zM256.4 344.5h.8v.8h-.8zM257.4 338.3h.8v.8h-.8zM259.1 334.6h.8v.8h-.8zM258.2 333.1h.8v.8h-.8zM259.7 336.8h.8v.8h-.8zM262.6 342.4h.8v.8h-.8zM253.3 340.9h.8v.8h-.8zM257.6 338.9h.8v.8h-.8zM250.1 342.7h.8v.8h-.8zM253.1 338.5h.8v.8h-.8zM265.5 343.7h.8v.8h-.8zM251.8 334.9h.8v.8h-.8zM258.4 345.9h.8v.8h-.8zM257.1 348.2h.8v.8h-.8zM256.2 336.3h.8v.8h-.8zM254.8 341.0h.8v.8h-.8zM255.0 343.9h.8v.8h-.8zM254.9 339.2h.8v.8h-.8zM261.5 335.3h.8v.8h-.8zM252.3 341.2h.8v.8h-.8zM250.4 334.2h.8v.8h-.8zM259.6 341.2h.8v.8h-.8zM251.8 339.0h.8v.8h-.8zM258.4 334.5h.8v.8h-.8zM251.8 346.5h.8v.8h-.8zM257.0 338.8h.8v.8h-.8zM257.6 333.0h.8v.8h-.8zM246.0 338.7h.8v.8h-.8zM263.3 341.3h.8v.8h-.8zM264.8 340.9h.8v.8h-.8zM257.8 335.1h.8v.8h-.8zM260.2 339.3h.8v.8h-.8zM255.2 339.5h.8v.8h-.8zM260.7 346.9h.8v.8h-.8zM257.4 344.7h.8v.8h-.8zM253.8 337.9h.8v.8h-.8zM259.6 340.9h.8v.8h-.8zM262.1 348.0h.8v.8h-.8zM253.2 339.3h.8v.8h-.8zM259.9 337.1h.8v.8h-.8zM260.0 332.4h.8v.8h-.8zM255.3 343.2h.8v.8h-.8zM260.9 337.4h.8v.8h-.8zM256.8 338.7h.8v.8h-.8zM262.0 342.4h.8v.8h-.8zM260.0 338.6h.8v.8h-.8zM261.0 338.5h.8v.8h-.8zM254.7 336.0h.8v.8h-.8zM258.4 340.3h.8v.8h-.8zM257.2 345.7h.8v.8h-.8zM256.5 338.8h.8v.8h-.8zM258.2 335.2h.8v.8h-.8zM257.3 345.3h.8v.8h-.8zM265.6 338.0h.8v.8h-.8zM254.4 339.9h.8v.8h-.8zM258.1 345.2h.8v.8h-.8zM258.0 337.9h.8v.8h-.8zM252.8 348.8h.8v.8h-.8zM256.6 346.6h.8v.8h-.8zM264.3 342.8h.8v.8h-.8zM259.9 341.6h.8v.8h-.8zM258.3 341.4h.8v.8h-.8zM261.4 338.6h.8v.8h-.8zM261.3 345.0h.8v.8h-.8zM252.9 340.4h.8v.8h-.8zM255.8 341.8h.8v.8h-.8zM253.7 335.3h.8v.8h-.8zM252.9 341.1h.8v.8h-.8zM256.2 342.4h.8v.8h-.8zM258.8 339.3h.8v.8h-.8zM262.0 342.9h.8v.8h-.8zM259.0 342.8h.8v.8h-.8zM258.5 335.1h.8v.8h-.8zM253.5 341.9h.8v.8h-.8zM254.8 337.6h.8v.8h-.8zM271.7 339.1h.8v.8h-.8zM258.1 343.1h.8v.8h-.8zM258.2 332.1h.8v.8h-.8zM259.1 344.5h.8v.8h-.8zM264.3 342.4h.8v.8h-.8zM260.5 337.2h.8v.8h-.8zM255.8 337.0h.8v.8h-.8zM254.8 345.1h.8v.8h-.8zM248.6 342.4h.8v.8h-.8zM262.6 337.9h.8v.8h-.8zM260.4 333.2h.8v.8h-.8zM260.8 337.3h.8v.8h-.8zM252.0 341.6h.8v.8h-.8zM254.5 342.4h.8v.8h-.8zM253.4 335.9h.8v.8h-.8zM262.8 339.9h.8v.8h-.8zM256.9 336.9h.8v.8h-.8zM259.2 339.6h.8v.8h-.8zM252.5 336.8h.8v.8h-.8zM262.3 336.4h.8v.8h-.8zM260.9 337.9h.8v.8h-.8zM252.8 335.4h.8v.8h-.8zM260.4 342.3h.8v.8h-.8zM252.5 343.4h.8v.8h-.8zM261.4 342.3h.8v.8h-.8zM259.1 336.2h.8v.8h-.8zM256.5 343.4h.8v.8h-.8zM259.7 335.4h.8v.8h-.8zM262.4 340.2h.8v.8h-.8zM261.8 336.7h.8v.8h-.8zM259.4 334.0h.8v.8h-.8zM253.2 338.6h.8v.8h-.8zM260.9 337.3h.8v.8h-.8zM258.9 333.1h.8v.8h-.8zM258.3 342.8h.8v.8h-.8zM253.9 339.7h.8v.8h-.8zM256.6 334.3h.8v.8h-.8zM259.6 343.3h.8v.8h-.8zM258.6 339.2h.8v.8h-.8zM252.1 337.4h.8v.8h-.8zM257.8 338.0h.8v.8h-.8zM257.5 338.8h.8v.8h-.8zM259.0 331.4h.8v.8h-.8zM251.0 333.4h.8v.8h-.8zM251.3 332.5h.8v.8h-.8zM261.7 339.6h.8v.8h-.8zM258.9 336.5h.8v.8h-.8zM253.2 339.9h.8v.8h-.8zM258.1 338.3h.8v.8h-.8zM253.7 335.1h.8v.8h-.8zM253.1 336.7h.8v.8h-.8zM263.6 339.2h.8v.8h-.8zM261.7 335.7h.8v.8h-.8zM256.1 341.3h.8v.8h-.8zM261.0 335.5h.8v.8h-.8zM257.5 341.1h.8v.8h-.8zM254.7 338.0h.8v.8h-.8zM257.2 328.7h.8v.8h-.8zM266.7 334.9h.8v.8h-.8zM252.4 338.6h.8v.8h-.8zM255.3 337.3h.8v.8h-.8zM259.8 344.3h.8v.8h-.8zM263.8 339.8h.8v.8h-.8zM259.4 337.5h.8v.8h-.8zM250.6 335.5h.8v.8h-.8zM258.1 337.2h.8v.8h-.8zM260.8 339.6h.8v.8h-.8z" fill="#fff" fill-opacity="0.07"/>
<path d="M267.6 337.8h.8v.8h-.8zM272.6 341.5h.8v.8h-.8zM268.4 339.2h.8v.8h-.8zM278.2 338.8h.8v.8h-.8zM267.3 338.8h.8v.8h-.8zM255.0 337.9h.8v.8h-.8zM275.5 340.5h.8v.8h-.8zM270.9 340.2h.8v.8h-.8zM259.9 337.1h.8v.8h-.8zM267.6 338.8h.8v.8h-.8zM261.7 337.9h.8v.8h-.8zM260.3 336.7h.8v.8h-.8zM267.4 338.0h.8v.8h-.8zM272.1 339.0h.8v.8h-.8zM281.5 338.6h.8v.8h-.8zM264.4 339.4h.8v.8h-.8zM273.0 336.4h.8v.8h-.8zM259.7 341.4h.8v.8h-.8zM266.3 336.9h.8v.8h-.8zM262.8 338.8h.8v.8h-.8zM266.0 337.0h.8v.8h-.8zM268.8 341.2h.8v.8h-.8zM272.7 341.6h.8v.8h-.8zM260.8 342.2h.8v.8h-.8zM275.9 342.2h.8v.8h-.8zM274.0 340.5h.8v.8h-.8zM279.5 336.6h.8v.8h-.8zM263.7 340.5h.8v.8h-.8zM266.1 343.1h.8v.8h-.8zM277.0 337.4h.8v.8h-.8zM268.2 340.0h.8v.8h-.8zM272.6 341.8h.8v.8h-.8zM278.9 338.4h.8v.8h-.8zM260.7 338.6h.8v.8h-.8zM278.5 340.8h.8v.8h-.8zM274.0 343.2h.8v.8h-.8zM269.1 333.9h.8v.8h-.8zM274.6 341.3h.8v.8h-.8zM282.0 335.0h.8v.8h-.8zM267.7 340.9h.8v.8h-.8zM261.0 339.6h.8v.8h-.8zM271.2 340.6h.8v.8h-.8zM265.6 341.4h.8v.8h-.8zM270.6 338.6h.8v.8h-.8zM273.1 343.2h.8v.8h-.8zM278.8 338.0h.8v.8h-.8zM279.6 341.8h.8v.8h-.8zM273.0 337.7h.8v.8h-.8zM278.4 339.9h.8v.8h-.8zM276.8 339.8h.8v.8h-.8zM259.5 337.9h.8v.8h-.8zM252.3 340.6h.8v.8h-.8zM266.1 338.8h.8v.8h-.8zM271.0 339.4h.8v.8h-.8zM267.3 335.7h.8v.8h-.8zM256.0 342.4h.8v.8h-.8zM281.1 335.9h.8v.8h-.8z" fill="#fff" fill-opacity="0.12"/>
<path d="M280.2 340.7h.8v.8h-.8zM280.9 340.2h.8v.8h-.8zM274.8 338.3h.8v.8h-.8zM278.6 342.7h.8v.8h-.8zM261.8 339.8h.8v.8h-.8zM284.1 342.5h.8v.8h-.8zM264.4 339.4h.8v.8h-.8zM262.9 341.2h.8v.8h-.8zM280.2 340.2h.8v.8h-.8zM279.1 339.3h.8v.8h-.8zM279.5 338.9h.8v.8h-.8zM261.9 338.4h.8v.8h-.8zM283.4 337.4h.8v.8h-.8zM272.1 340.4h.8v.8h-.8zM288.6 342.1h.8v.8h-.8zM270.8 339.6h.8v.8h-.8zM276.9 337.5h.8v.8h-.8zM282.5 342.0h.8v.8h-.8zM281.9 338.7h.8v.8h-.8zM265.3 338.7h.8v.8h-.8zM283.8 339.5h.8v.8h-.8zM272.4 340.0h.8v.8h-.8zM278.1 341.6h.8v.8h-.8zM268.9 341.0h.8v.8h-.8zM271.0 340.1h.8v.8h-.8zM276.9 339.5h.8v.8h-.8zM263.3 339.1h.8v.8h-.8zM279.4 339.6h.8v.8h-.8zM270.6 338.1h.8v.8h-.8zM272.9 341.1h.8v.8h-.8zM270.9 336.8h.8v.8h-.8zM275.4 342.7h.8v.8h-.8zM270.8 339.6h.8v.8h-.8zM277.6 340.1h.8v.8h-.8zM269.5 342.7h.8v.8h-.8zM264.1 339.0h.8v.8h-.8zM273.6 335.5h.8v.8h-.8zM269.0 337.7h.8v.8h-.8zM273.8 339.0h.8v.8h-.8zM275.9 338.7h.8v.8h-.8zM254.4 338.3h.8v.8h-.8zM282.7 344.6h.8v.8h-.8zM270.0 337.8h.8v.8h-.8zM262.9 337.6h.8v.8h-.8zM280.6 338.8h.8v.8h-.8zM271.2 339.5h.8v.8h-.8zM267.5 338.5h.8v.8h-.8zM271.3 339.3h.8v.8h-.8zM274.8 341.8h.8v.8h-.8zM281.5 339.7h.8v.8h-.8zM266.8 338.5h.8v.8h-.8z" fill="#fff" fill-opacity="0.2"/>
<ellipse cx="272" cy="339" rx="16.80" ry="4.76" transform="rotate(0 272 339)" fill="url(#soft)" opacity="0.07"/>
<ellipse cx="257" cy="345" rx="5.04" ry="6.30" transform="rotate(0 257 345)" fill="url(#soft)" opacity="0.3"/>
<ellipse cx="256.7" cy="338.4" rx="8.26" ry="7.98" transform="rotate(0 256.7 338.4)" fill="url(#cone)" opacity="0.93"/>
</svg></g>
<g filter="url(#cmap)"><rect x="335.2" y="320.4" width="77.80000000000001" height="78.0" fill="#000"/>
<svg x="335.2" y="320.4" width="77.80000000000001" height="78.0" viewBox="335.2 320.4 77.80000000000001 78.0" overflow="hidden">
<path d="M365.8 337.7h.8v.8h-.8zM364.5 339.2h.8v.8h-.8zM369.9 342.5h.8v.8h-.8zM358.6 335.7h.8v.8h-.8zM392.5 338.9h.8v.8h-.8zM359.8 336.0h.8v.8h-.8zM364.6 339.1h.8v.8h-.8zM361.6 340.0h.8v.8h-.8zM361.9 336.9h.8v.8h-.8zM363.3 339.3h.8v.8h-.8zM371.4 337.8h.8v.8h-.8zM367.3 335.2h.8v.8h-.8zM358.0 339.1h.8v.8h-.8zM354.9 340.3h.8v.8h-.8zM358.9 340.1h.8v.8h-.8zM367.4 342.0h.8v.8h-.8zM376.7 338.6h.8v.8h-.8zM359.2 339.0h.8v.8h-.8zM358.7 335.1h.8v.8h-.8zM378.7 339.2h.8v.8h-.8zM368.9 340.4h.8v.8h-.8zM372.4 340.0h.8v.8h-.8zM367.8 342.6h.8v.8h-.8zM379.3 336.6h.8v.8h-.8zM370.5 337.3h.8v.8h-.8zM368.3 339.7h.8v.8h-.8zM357.1 337.3h.8v.8h-.8zM365.0 336.7h.8v.8h-.8zM370.4 340.2h.8v.8h-.8zM381.9 338.4h.8v.8h-.8zM372.5 337.8h.8v.8h-.8zM359.4 336.3h.8v.8h-.8zM363.5 335.5h.8v.8h-.8zM383.6 339.9h.8v.8h-.8zM373.0 337.8h.8v.8h-.8zM356.1 341.6h.8v.8h-.8zM357.3 338.1h.8v.8h-.8zM386.7 336.7h.8v.8h-.8zM383.6 337.5h.8v.8h-.8zM375.7 341.7h.8v.8h-.8zM376.9 340.2h.8v.8h-.8zM381.1 339.0h.8v.8h-.8zM365.4 336.8h.8v.8h-.8zM371.4 338.6h.8v.8h-.8zM366.4 338.8h.8v.8h-.8zM372.3 342.1h.8v.8h-.8zM367.2 340.2h.8v.8h-.8zM371.4 340.6h.8v.8h-.8zM361.8 342.1h.8v.8h-.8zM363.6 339.4h.8v.8h-.8zM401.6 339.0h.8v.8h-.8zM402.4 334.1h.8v.8h-.8zM372.9 332.2h.8v.8h-.8zM393.5 342.1h.8v.8h-.8zM386.9 334.4h.8v.8h-.8zM391.6 339.6h.8v.8h-.8zM399.7 340.0h.8v.8h-.8zM400.6 336.1h.8v.8h-.8zM392.9 340.1h.8v.8h-.8zM385.2 341.7h.8v.8h-.8zM390.9 340.3h.8v.8h-.8zM398.7 346.4h.8v.8h-.8zM394.4 333.9h.8v.8h-.8zM404.5 337.4h.8v.8h-.8zM398.9 337.7h.8v.8h-.8zM394.7 333.9h.8v.8h-.8zM391.9 340.2h.8v.8h-.8zM380.7 338.5h.8v.8h-.8zM392.9 343.9h.8v.8h-.8zM397.8 338.8h.8v.8h-.8zM389.3 340.3h.8v.8h-.8zM399.2 334.1h.8v.8h-.8zM405.5 340.1h.8v.8h-.8zM397.0 341.1h.8v.8h-.8zM400.0 344.1h.8v.8h-.8zM397.4 336.2h.8v.8h-.8zM386.9 337.9h.8v.8h-.8zM397.2 333.0h.8v.8h-.8zM378.6 344.6h.8v.8h-.8zM383.1 342.8h.8v.8h-.8zM384.1 336.6h.8v.8h-.8zM393.7 339.8h.8v.8h-.8zM395.0 341.0h.8v.8h-.8zM388.7 335.1h.8v.8h-.8zM398.8 341.4h.8v.8h-.8zM392.4 334.1h.8v.8h-.8zM390.3 342.9h.8v.8h-.8zM382.6 336.6h.8v.8h-.8zM398.7 337.0h.8v.8h-.8zM397.7 344.3h.8v.8h-.8zM397.1 333.0h.8v.8h-.8zM390.1 330.8h.8v.8h-.8zM395.7 350.0h.8v.8h-.8zM392.7 341.5h.8v.8h-.8zM395.7 337.6h.8v.8h-.8zM388.6 341.5h.8v.8h-.8zM403.0 341.5h.8v.8h-.8zM397.6 341.7h.8v.8h-.8zM382.1 339.3h.8v.8h-.8zM396.5 336.9h.8v.8h-.8zM403.5 346.5h.8v.8h-.8zM392.9 332.3h.8v.8h-.8zM393.4 340.0h.8v.8h-.8zM388.1 338.4h.8v.8h-.8zM387.7 336.8h.8v.8h-.8zM387.7 342.4h.8v.8h-.8zM403.2 336.4h.8v.8h-.8zM393.1 341.9h.8v.8h-.8zM390.7 342.5h.8v.8h-.8zM390.5 342.4h.8v.8h-.8zM389.4 334.8h.8v.8h-.8zM388.8 341.8h.8v.8h-.8zM398.0 338.5h.8v.8h-.8zM394.4 346.9h.8v.8h-.8zM394.3 342.3h.8v.8h-.8z" fill="#fff" fill-opacity="0.03"/>
<path d="M348.5 342.1h.8v.8h-.8zM353.4 345.2h.8v.8h-.8zM348.8 363.9h.8v.8h-.8zM354.7 369.2h.8v.8h-.8zM352.2 351.7h.8v.8h-.8zM349.0 364.0h.8v.8h-.8zM350.2 363.6h.8v.8h-.8zM350.5 356.7h.8v.8h-.8zM357.4 339.8h.8v.8h-.8zM353.6 366.5h.8v.8h-.8zM352.0 345.9h.8v.8h-.8zM352.0 339.8h.8v.8h-.8zM354.2 342.5h.8v.8h-.8zM351.5 345.8h.8v.8h-.8zM354.3 352.1h.8v.8h-.8zM355.2 362.5h.8v.8h-.8zM352.8 349.7h.8v.8h-.8zM348.6 370.5h.8v.8h-.8zM352.3 365.5h.8v.8h-.8zM352.1 347.4h.8v.8h-.8zM351.2 360.9h.8v.8h-.8zM349.7 371.7h.8v.8h-.8zM350.8 345.5h.8v.8h-.8zM351.9 348.6h.8v.8h-.8zM350.2 349.4h.8v.8h-.8zM352.3 342.9h.8v.8h-.8zM351.6 370.7h.8v.8h-.8zM353.2 365.0h.8v.8h-.8zM355.6 359.3h.8v.8h-.8zM347.9 356.2h.8v.8h-.8zM349.5 338.8h.8v.8h-.8zM350.8 352.6h.8v.8h-.8zM352.0 355.5h.8v.8h-.8zM351.3 373.9h.8v.8h-.8zM350.5 353.4h.8v.8h-.8zM353.8 351.0h.8v.8h-.8zM356.6 353.0h.8v.8h-.8zM349.6 374.9h.8v.8h-.8zM352.5 340.3h.8v.8h-.8zM356.3 361.9h.8v.8h-.8z" fill="#fff" fill-opacity="0.04"/>
<path d="M376.7 337.5h.8v.8h-.8zM392.4 343.8h.8v.8h-.8zM402.4 336.8h.8v.8h-.8zM387.8 338.3h.8v.8h-.8zM396.8 338.5h.8v.8h-.8zM386.8 338.7h.8v.8h-.8zM404.6 339.6h.8v.8h-.8zM399.7 341.1h.8v.8h-.8zM387.0 336.1h.8v.8h-.8zM400.1 334.0h.8v.8h-.8zM397.8 342.2h.8v.8h-.8zM377.7 339.2h.8v.8h-.8zM389.1 333.9h.8v.8h-.8zM390.1 338.3h.8v.8h-.8zM397.0 341.9h.8v.8h-.8zM400.7 337.4h.8v.8h-.8zM393.4 338.0h.8v.8h-.8zM390.3 334.6h.8v.8h-.8zM395.3 339.8h.8v.8h-.8zM389.0 340.0h.8v.8h-.8zM392.4 334.8h.8v.8h-.8zM383.6 333.3h.8v.8h-.8zM381.4 340.3h.8v.8h-.8zM391.3 341.7h.8v.8h-.8zM389.6 339.1h.8v.8h-.8zM402.5 337.1h.8v.8h-.8zM397.0 332.6h.8v.8h-.8zM393.1 329.8h.8v.8h-.8zM390.3 339.2h.8v.8h-.8zM387.3 332.6h.8v.8h-.8zM389.2 345.3h.8v.8h-.8zM387.4 341.2h.8v.8h-.8zM407.8 337.0h.8v.8h-.8zM394.4 335.7h.8v.8h-.8zM396.4 340.2h.8v.8h-.8zM396.4 340.5h.8v.8h-.8zM391.1 328.0h.8v.8h-.8zM390.9 336.2h.8v.8h-.8zM386.9 341.8h.8v.8h-.8zM400.3 339.7h.8v.8h-.8zM387.2 333.6h.8v.8h-.8zM390.3 330.9h.8v.8h-.8zM381.7 339.6h.8v.8h-.8zM389.4 335.8h.8v.8h-.8zM394.1 341.5h.8v.8h-.8zM386.5 340.0h.8v.8h-.8zM380.2 340.7h.8v.8h-.8zM399.5 345.6h.8v.8h-.8zM392.1 336.0h.8v.8h-.8zM390.3 333.9h.8v.8h-.8zM402.8 340.7h.8v.8h-.8zM402.3 342.2h.8v.8h-.8zM401.6 337.6h.8v.8h-.8z" fill="#fff" fill-opacity="0.05"/>
<path d="M373.2 341.0h.8v.8h-.8zM381.7 336.6h.8v.8h-.8zM371.3 335.6h.8v.8h-.8zM362.5 336.0h.8v.8h-.8zM364.8 339.5h.8v.8h-.8zM373.5 338.5h.8v.8h-.8zM352.7 340.7h.8v.8h-.8zM383.1 338.9h.8v.8h-.8zM380.5 337.6h.8v.8h-.8zM368.2 337.8h.8v.8h-.8zM367.2 342.9h.8v.8h-.8zM357.9 333.9h.8v.8h-.8zM367.2 336.4h.8v.8h-.8zM365.0 337.4h.8v.8h-.8zM355.2 338.8h.8v.8h-.8zM368.4 338.8h.8v.8h-.8zM376.0 338.9h.8v.8h-.8zM357.1 341.0h.8v.8h-.8zM355.4 341.2h.8v.8h-.8zM351.3 336.4h.8v.8h-.8zM354.1 337.1h.8v.8h-.8zM372.2 338.4h.8v.8h-.8zM376.8 341.4h.8v.8h-.8zM365.1 338.9h.8v.8h-.8zM367.0 339.6h.8v.8h-.8zM365.9 339.8h.8v.8h-.8zM374.8 338.4h.8v.8h-.8zM380.8 342.4h.8v.8h-.8zM373.4 338.7h.8v.8h-.8zM355.7 341.0h.8v.8h-.8zM359.0 337.1h.8v.8h-.8zM370.7 338.0h.8v.8h-.8zM373.0 338.2h.8v.8h-.8zM374.4 339.6h.8v.8h-.8zM363.2 338.3h.8v.8h-.8zM385.8 335.1h.8v.8h-.8zM361.8 340.0h.8v.8h-.8zM370.5 340.5h.8v.8h-.8zM356.8 337.7h.8v.8h-.8zM372.7 338.3h.8v.8h-.8zM363.8 339.1h.8v.8h-.8zM384.8 337.5h.8v.8h-.8zM356.5 336.4h.8v.8h-.8zM365.8 339.9h.8v.8h-.8zM360.1 339.7h.8v.8h-.8zM367.5 340.7h.8v.8h-.8zM351.9 340.1h.8v.8h-.8zM369.9 341.2h.8v.8h-.8zM387.1 336.0h.8v.8h-.8zM362.0 340.0h.8v.8h-.8zM362.4 337.8h.8v.8h-.8zM383.1 342.8h.8v.8h-.8zM382.8 339.1h.8v.8h-.8zM373.5 340.1h.8v.8h-.8z" fill="#fff" fill-opacity="0.06"/>
<path d="M345.9 345.0h.8v.8h-.8zM355.1 340.8h.8v.8h-.8zM353.9 335.5h.8v.8h-.8zM350.8 341.9h.8v.8h-.8zM351.8 346.3h.8v.8h-.8zM349.2 343.4h.8v.8h-.8zM356.1 337.1h.8v.8h-.8zM346.6 341.3h.8v.8h-.8zM351.2 342.0h.8v.8h-.8zM348.3 347.1h.8v.8h-.8zM347.6 342.8h.8v.8h-.8zM354.4 342.4h.8v.8h-.8zM350.0 343.8h.8v.8h-.8zM355.0 337.9h.8v.8h-.8zM349.1 342.0h.8v.8h-.8zM361.3 338.9h.8v.8h-.8zM354.0 335.6h.8v.8h-.8zM349.4 337.1h.8v.8h-.8zM355.0 337.3h.8v.8h-.8zM346.3 351.3h.8v.8h-.8zM353.6 337.2h.8v.8h-.8zM349.7 343.8h.8v.8h-.8zM355.4 341.5h.8v.8h-.8zM346.7 342.8h.8v.8h-.8zM349.9 337.0h.8v.8h-.8zM350.5 335.5h.8v.8h-.8zM357.3 343.2h.8v.8h-.8zM340.1 342.5h.8v.8h-.8zM344.1 344.5h.8v.8h-.8zM360.2 341.8h.8v.8h-.8zM340.1 339.6h.8v.8h-.8zM349.5 339.3h.8v.8h-.8zM352.6 344.8h.8v.8h-.8zM354.1 342.5h.8v.8h-.8zM341.9 338.7h.8v.8h-.8zM348.2 344.2h.8v.8h-.8zM353.3 350.5h.8v.8h-.8zM355.8 339.0h.8v.8h-.8zM352.6 337.8h.8v.8h-.8zM352.6 339.3h.8v.8h-.8zM348.8 335.1h.8v.8h-.8zM346.6 337.6h.8v.8h-.8zM348.6 340.8h.8v.8h-.8zM356.2 335.6h.8v.8h-.8zM350.9 332.9h.8v.8h-.8zM357.2 343.9h.8v.8h-.8zM351.6 345.4h.8v.8h-.8zM348.5 337.2h.8v.8h-.8zM354.5 340.8h.8v.8h-.8zM350.4 334.8h.8v.8h-.8zM345.7 337.0h.8v.8h-.8zM345.0 333.6h.8v.8h-.8zM358.1 341.8h.8v.8h-.8zM356.1 342.0h.8v.8h-.8zM352.7 341.7h.8v.8h-.8zM348.1 336.8h.8v.8h-.8zM350.6 352.0h.8v.8h-.8zM351.9 345.4h.8v.8h-.8zM359.6 336.8h.8v.8h-.8zM351.4 339.1h.8v.8h-.8zM354.7 336.3h.8v.8h-.8zM357.1 341.5h.8v.8h-.8zM352.3 339.8h.8v.8h-.8zM336.3 338.7h.8v.8h-.8zM349.1 341.5h.8v.8h-.8zM346.2 341.6h.8v.8h-.8zM355.1 341.0h.8v.8h-.8zM353.5 346.7h.8v.8h-.8zM351.7 342.8h.8v.8h-.8zM351.7 337.4h.8v.8h-.8zM350.4 334.5h.8v.8h-.8zM352.1 337.3h.8v.8h-.8zM354.2 344.8h.8v.8h-.8zM352.2 340.7h.8v.8h-.8zM346.3 339.1h.8v.8h-.8zM348.6 337.3h.8v.8h-.8zM340.0 337.9h.8v.8h-.8zM348.9 337.0h.8v.8h-.8zM344.9 345.3h.8v.8h-.8zM346.1 342.1h.8v.8h-.8zM355.8 341.4h.8v.8h-.8zM352.4 341.3h.8v.8h-.8zM339.2 336.5h.8v.8h-.8zM357.4 325.5h.8v.8h-.8zM354.0 339.7h.8v.8h-.8zM361.4 339.2h.8v.8h-.8zM347.8 332.4h.8v.8h-.8zM351.5 343.7h.8v.8h-.8zM351.8 350.2h.8v.8h-.8zM355.9 348.0h.8v.8h-.8zM362.2 341.1h.8v.8h-.8zM346.5 346.2h.8v.8h-.8zM340.7 347.9h.8v.8h-.8zM355.6 342.9h.8v.8h-.8zM356.3 341.1h.8v.8h-.8zM350.4 335.9h.8v.8h-.8zM351.7 340.4h.8v.8h-.8zM345.8 344.2h.8v.8h-.8zM353.2 335.3h.8v.8h-.8zM347.0 332.8h.8v.8h-.8zM358.3 341.0h.8v.8h-.8zM356.1 341.1h.8v.8h-.8zM348.1 333.7h.8v.8h-.8zM354.6 341.2h.8v.8h-.8zM351.1 334.3h.8v.8h-.8zM360.6 342.7h.8v.8h-.8zM359.2 345.2h.8v.8h-.8zM347.8 344.0h.8v.8h-.8zM362.5 346.2h.8v.8h-.8zM351.8 340.6h.8v.8h-.8zM347.6 345.7h.8v.8h-.8zM356.9 335.9h.8v.8h-.8zM344.0 344.3h.8v.8h-.8zM352.8 338.6h.8v.8h-.8zM345.1 342.0h.8v.8h-.8zM345.7 338.7h.8v.8h-.8zM358.9 344.8h.8v.8h-.8zM345.4 342.9h.8v.8h-.8zM348.5 340.6h.8v.8h-.8zM357.6 339.4h.8v.8h-.8zM352.9 338.8h.8v.8h-.8zM354.7 347.7h.8v.8h-.8zM352.7 344.2h.8v.8h-.8zM349.9 334.8h.8v.8h-.8zM352.3 343.1h.8v.8h-.8zM346.2 338.6h.8v.8h-.8zM353.5 342.3h.8v.8h-.8zM358.9 343.3h.8v.8h-.8zM348.7 338.1h.8v.8h-.8zM354.1 338.3h.8v.8h-.8zM358.3 336.5h.8v.8h-.8zM354.4 349.9h.8v.8h-.8zM346.5 345.3h.8v.8h-.8zM351.9 333.1h.8v.8h-.8zM342.8 338.8h.8v.8h-.8zM341.9 344.8h.8v.8h-.8zM356.8 335.6h.8v.8h-.8zM349.8 341.4h.8v.8h-.8zM344.7 336.5h.8v.8h-.8zM342.7 345.6h.8v.8h-.8zM347.7 343.0h.8v.8h-.8zM359.6 343.1h.8v.8h-.8zM355.6 335.8h.8v.8h-.8zM351.9 343.0h.8v.8h-.8zM348.4 339.1h.8v.8h-.8zM351.8 350.4h.8v.8h-.8zM358.6 337.6h.8v.8h-.8zM352.7 340.9h.8v.8h-.8zM356.0 338.9h.8v.8h-.8zM360.0 337.4h.8v.8h-.8z" fill="#fff" fill-opacity="0.07"/>
<path d="M397.8 330.9h.8v.8h-.8zM396.3 342.6h.8v.8h-.8zM392.8 344.0h.8v.8h-.8zM398.4 336.3h.8v.8h-.8zM380.8 331.3h.8v.8h-.8zM405.2 342.3h.8v.8h-.8zM387.9 333.7h.8v.8h-.8zM391.4 335.5h.8v.8h-.8zM397.7 342.3h.8v.8h-.8zM394.5 341.5h.8v.8h-.8zM394.1 343.7h.8v.8h-.8zM388.5 336.7h.8v.8h-.8zM383.8 336.7h.8v.8h-.8zM385.0 336.7h.8v.8h-.8zM389.6 343.8h.8v.8h-.8zM400.8 341.0h.8v.8h-.8zM391.2 340.0h.8v.8h-.8zM396.1 337.2h.8v.8h-.8zM381.4 337.3h.8v.8h-.8zM400.1 342.3h.8v.8h-.8zM385.8 337.2h.8v.8h-.8zM403.0 336.8h.8v.8h-.8zM392.5 340.1h.8v.8h-.8zM390.6 342.3h.8v.8h-.8zM403.9 334.4h.8v.8h-.8zM392.0 337.2h.8v.8h-.8zM400.0 341.2h.8v.8h-.8zM403.8 335.9h.8v.8h-.8zM410.6 337.2h.8v.8h-.8zM387.5 337.5h.8v.8h-.8zM404.7 338.2h.8v.8h-.8zM389.7 337.7h.8v.8h-.8zM396.2 342.9h.8v.8h-.8zM401.0 341.5h.8v.8h-.8zM391.6 341.5h.8v.8h-.8zM390.9 337.5h.8v.8h-.8zM384.9 335.6h.8v.8h-.8zM393.7 339.0h.8v.8h-.8zM390.1 340.2h.8v.8h-.8zM394.7 335.3h.8v.8h-.8zM391.6 342.7h.8v.8h-.8zM408.6 336.6h.8v.8h-.8zM387.1 342.2h.8v.8h-.8zM387.6 341.7h.8v.8h-.8zM408.5 337.7h.8v.8h-.8zM385.5 331.7h.8v.8h-.8zM398.6 334.6h.8v.8h-.8zM387.4 337.6h.8v.8h-.8zM395.5 339.7h.8v.8h-.8zM379.8 342.5h.8v.8h-.8zM392.3 333.5h.8v.8h-.8zM393.8 340.1h.8v.8h-.8zM397.5 338.4h.8v.8h-.8zM381.9 338.7h.8v.8h-.8zM396.3 342.0h.8v.8h-.8zM384.9 339.7h.8v.8h-.8zM394.6 339.8h.8v.8h-.8zM395.9 333.8h.8v.8h-.8zM388.5 342.7h.8v.8h-.8zM399.5 333.9h.8v.8h-.8zM390.0 336.3h.8v.8h-.8zM382.0 338.1h.8v.8h-.8zM394.7 337.2h.8v.8h-.8zM387.7 339.5h.8v.8h-.8zM389.7 339.0h.8v.8h-.8zM402.2 341.5h.8v.8h-.8zM399.6 339.6h.8v.8h-.8z" fill="#fff" fill-opacity="0.08"/>
<path d="M358.3 338.3h.8v.8h-.8zM380.2 337.7h.8v.8h-.8zM356.6 333.7h.8v.8h-.8zM361.9 340.0h.8v.8h-.8zM373.0 340.6h.8v.8h-.8zM374.1 337.6h.8v.8h-.8zM350.9 336.8h.8v.8h-.8zM364.8 339.4h.8v.8h-.8zM366.4 339.2h.8v.8h-.8zM373.9 339.6h.8v.8h-.8zM357.7 340.5h.8v.8h-.8zM373.9 340.8h.8v.8h-.8zM380.8 340.9h.8v.8h-.8zM373.1 338.3h.8v.8h-.8zM373.2 337.6h.8v.8h-.8zM370.3 340.3h.8v.8h-.8zM366.4 337.7h.8v.8h-.8zM364.6 337.6h.8v.8h-.8zM374.8 337.7h.8v.8h-.8zM359.0 338.7h.8v.8h-.8zM357.1 337.9h.8v.8h-.8zM371.5 342.5h.8v.8h-.8zM363.4 340.0h.8v.8h-.8zM366.2 339.2h.8v.8h-.8zM366.9 339.4h.8v.8h-.8zM349.5 341.1h.8v.8h-.8zM367.4 340.6h.8v.8h-.8zM350.5 342.2h.8v.8h-.8zM372.7 340.3h.8v.8h-.8zM369.7 336.9h.8v.8h-.8zM368.5 339.3h.8v.8h-.8zM369.0 339.4h.8v.8h-.8zM355.4 338.3h.8v.8h-.8zM357.8 337.1h.8v.8h-.8zM376.3 338.7h.8v.8h-.8zM353.5 339.6h.8v.8h-.8zM357.9 338.5h.8v.8h-.8zM355.8 342.5h.8v.8h-.8zM364.8 336.8h.8v.8h-.8zM377.6 336.8h.8v.8h-.8zM375.0 338.9h.8v.8h-.8zM367.0 341.1h.8v.8h-.8zM389.8 339.3h.8v.8h-.8zM370.4 339.9h.8v.8h-.8zM362.6 338.3h.8v.8h-.8zM369.9 337.3h.8v.8h-.8zM363.7 342.3h.8v.8h-.8zM374.0 337.6h.8v.8h-.8zM351.0 339.0h.8v.8h-.8zM370.6 341.4h.8v.8h-.8zM363.7 334.7h.8v.8h-.8zM371.1 337.0h.8v.8h-.8zM338.1 337.5h.8v.8h-.8zM358.3 337.0h.8v.8h-.8zM369.5 337.9h.8v.8h-.8zM370.4 341.4h.8v.8h-.8zM359.9 340.8h.8v.8h-.8zM381.1 337.5h.8v.8h-.8zM357.8 338.7h.8v.8h-.8zM373.8 340.0h.8v.8h-.8zM372.3 336.9h.8v.8h-.8zM380.2 335.0h.8v.8h-.8zM400.3 335.8h.8v.8h-.8zM391.5 337.4h.8v.8h-.8zM401.2 342.4h.8v.8h-.8zM406.0 340.8h.8v.8h-.8zM386.0 339.7h.8v.8h-.8zM394.6 342.0h.8v.8h-.8zM400.8 339.1h.8v.8h-.8zM396.6 339.5h.8v.8h-.8zM399.8 339.1h.8v.8h-.8zM399.4 338.7h.8v.8h-.8zM409.5 342.3h.8v.8h-.8zM387.0 337.0h.8v.8h-.8zM399.2 340.6h.8v.8h-.8zM395.1 335.4h.8v.8h-.8zM390.8 345.0h.8v.8h-.8zM391.5 337.0h.8v.8h-.8zM391.1 345.6h.8v.8h-.8zM398.5 343.0h.8v.8h-.8zM384.4 343.4h.8v.8h-.8zM405.5 343.9h.8v.8h-.8zM393.7 337.1h.8v.8h-.8zM389.4 338.1h.8v.8h-.8zM405.3 333.5h.8v.8h-.8zM373.3 343.9h.8v.8h-.8zM391.0 332.2h.8v.8h-.8zM389.6 338.3h.8v.8h-.8zM391.4 341.4h.8v.8h-.8zM395.1 331.5h.8v.8h-.8zM382.9 328.6h.8v.8h-.8zM399.8 335.3h.8v.8h-.8zM401.8 335.8h.8v.8h-.8zM387.3 334.5h.8v.8h-.8zM393.9 345.0h.8v.8h-.8zM380.7 335.7h.8v.8h-.8zM397.3 338.6h.8v.8h-.8zM396.9 342.5h.8v.8h-.8zM388.3 333.7h.8v.8h-.8zM401.0 336.7h.8v.8h-.8zM396.2 335.6h.8v.8h-.8zM394.3 337.7h.8v.8h-.8zM382.4 334.2h.8v.8h-.8zM401.8 335.6h.8v.8h-.8zM389.6 337.7h.8v.8h-.8zM392.8 342.0h.8v.8h-.8zM400.2 339.0h.8v.8h-.8zM389.9 333.8h.8v.8h-.8zM392.1 340.9h.8v.8h-.8zM398.8 340.7h.8v.8h-.8zM405.1 346.8h.8v.8h-.8zM391.5 343.0h.8v.8h-.8zM401.6 331.3h.8v.8h-.8zM400.4 343.5h.8v.8h-.8zM387.3 337.7h.8v.8h-.8zM390.3 327.0h.8v.8h-.8zM395.3 340.1h.8v.8h-.8zM396.9 346.0h.8v.8h-.8zM389.9 338.4h.8v.8h-.8zM396.3 337.3h.8v.8h-.8zM391.6 335.0h.8v.8h-.8zM387.2 335.6h.8v.8h-.8zM390.9 341.3h.8v.8h-.8zM390.6 337.0h.8v.8h-.8zM386.9 337.1h.8v.8h-.8zM404.2 338.4h.8v.8h-.8zM386.7 343.9h.8v.8h-.8zM398.1 336.8h.8v.8h-.8z" fill="#fff" fill-opacity="0.12"/>
<path d="M365.3 343.2h.8v.8h-.8zM375.8 338.4h.8v.8h-.8zM368.7 338.6h.8v.8h-.8zM358.6 338.2h.8v.8h-.8zM371.5 339.2h.8v.8h-.8zM369.7 337.8h.8v.8h-.8zM379.6 335.2h.8v.8h-.8zM378.0 339.4h.8v.8h-.8zM374.9 339.1h.8v.8h-.8zM373.4 335.0h.8v.8h-.8zM362.3 339.1h.8v.8h-.8zM369.9 338.3h.8v.8h-.8zM357.0 333.5h.8v.8h-.8zM382.8 339.7h.8v.8h-.8zM385.5 337.5h.8v.8h-.8zM363.9 338.4h.8v.8h-.8zM379.6 337.2h.8v.8h-.8zM361.3 338.3h.8v.8h-.8zM377.6 339.1h.8v.8h-.8zM361.4 339.8h.8v.8h-.8zM361.5 339.5h.8v.8h-.8zM375.6 339.8h.8v.8h-.8zM366.3 340.3h.8v.8h-.8zM366.8 336.3h.8v.8h-.8zM375.0 340.4h.8v.8h-.8zM356.9 339.7h.8v.8h-.8zM338.5 336.0h.8v.8h-.8zM374.9 339.3h.8v.8h-.8zM368.9 338.7h.8v.8h-.8zM364.3 337.9h.8v.8h-.8zM360.4 339.0h.8v.8h-.8zM371.2 337.5h.8v.8h-.8zM384.2 341.2h.8v.8h-.8zM356.1 338.3h.8v.8h-.8zM367.0 337.5h.8v.8h-.8zM371.4 337.6h.8v.8h-.8zM367.4 338.4h.8v.8h-.8zM364.2 337.8h.8v.8h-.8zM361.7 335.6h.8v.8h-.8zM379.8 333.3h.8v.8h-.8zM338.3 337.7h.8v.8h-.8zM363.5 337.3h.8v.8h-.8zM368.5 337.5h.8v.8h-.8zM374.6 335.5h.8v.8h-.8zM353.6 340.2h.8v.8h-.8zM361.8 340.7h.8v.8h-.8zM364.6 334.0h.8v.8h-.8zM384.5 341.6h.8v.8h-.8zM368.3 341.2h.8v.8h-.8zM360.8 335.7h.8v.8h-.8zM376.5 336.9h.8v.8h-.8zM364.2 339.6h.8v.8h-.8zM376.9 337.5h.8v.8h-.8zM371.6 339.0h.8v.8h-.8zM361.1 336.7h.8v.8h-.8z" fill="#fff" fill-opacity="0.2"/>
<path d="M393.9 343.1h.8v.8h-.8zM387.8 338.7h.8v.8h-.8zM397.2 345.8h.8v.8h-.8zM392.0 337.4h.8v.8h-.8zM388.6 338.5h.8v.8h-.8zM392.7 338.8h.8v.8h-.8zM385.8 333.1h.8v.8h-.8zM398.9 342.0h.8v.8h-.8zM389.6 338.4h.8v.8h-.8zM379.8 336.6h.8v.8h-.8zM389.5 339.0h.8v.8h-.8zM396.9 342.0h.8v.8h-.8zM387.7 341.6h.8v.8h-.8zM386.5 344.6h.8v.8h-.8zM394.5 340.0h.8v.8h-.8zM391.2 340.8h.8v.8h-.8zM390.7 335.4h.8v.8h-.8zM394.3 331.2h.8v.8h-.8zM385.6 337.5h.8v.8h-.8zM398.6 336.3h.8v.8h-.8zM394.0 337.0h.8v.8h-.8zM403.1 334.6h.8v.8h-.8zM404.8 335.6h.8v.8h-.8zM394.5 342.1h.8v.8h-.8zM394.0 333.7h.8v.8h-.8zM400.1 330.0h.8v.8h-.8zM387.6 335.7h.8v.8h-.8zM384.3 342.3h.8v.8h-.8zM388.7 337.6h.8v.8h-.8zM394.7 335.2h.8v.8h-.8zM401.8 339.9h.8v.8h-.8zM388.0 335.6h.8v.8h-.8zM389.7 331.6h.8v.8h-.8zM395.8 336.9h.8v.8h-.8zM394.9 335.9h.8v.8h-.8zM389.1 343.0h.8v.8h-.8zM399.8 341.7h.8v.8h-.8zM393.7 339.8h.8v.8h-.8zM389.3 339.6h.8v.8h-.8zM403.5 344.5h.8v.8h-.8zM392.8 341.1h.8v.8h-.8zM384.9 340.8h.8v.8h-.8zM393.5 343.0h.8v.8h-.8zM395.7 342.4h.8v.8h-.8zM401.9 339.8h.8v.8h-.8zM395.2 343.4h.8v.8h-.8zM398.5 334.3h.8v.8h-.8zM396.0 336.3h.8v.8h-.8zM391.0 331.2h.8v.8h-.8zM398.2 337.6h.8v.8h-.8zM396.9 339.9h.8v.8h-.8zM389.9 344.7h.8v.8h-.8zM390.7 338.9h.8v.8h-.8zM388.5 342.1h.8v.8h-.8zM400.1 338.6h.8v.8h-.8zM388.9 333.4h.8v.8h-.8zM398.5 339.0h.8v.8h-.8zM390.2 336.5h.8v.8h-.8zM400.0 337.4h.8v.8h-.8zM396.1 338.7h.8v.8h-.8zM387.6 343.8h.8v.8h-.8zM388.9 333.3h.8v.8h-.8zM389.6 339.8h.8v.8h-.8zM390.5 338.0h.8v.8h-.8zM392.8 335.7h.8v.8h-.8zM407.6 337.4h.8v.8h-.8zM394.9 334.8h.8v.8h-.8zM402.3 338.4h.8v.8h-.8z" fill="#fff" fill-opacity="0.3"/>
<ellipse cx="370" cy="339" rx="22.40" ry="4.76" transform="rotate(0 370 339)" fill="url(#soft)" opacity="0.06"/>
<ellipse cx="393" cy="339.2" rx="15.40" ry="7.00" transform="rotate(0 393 339.2)" fill="url(#soft)" opacity="0.08"/>
<ellipse cx="351.8" cy="346.5" rx="5.88" ry="7.00" transform="rotate(0 351.8 346.5)" fill="url(#soft)" opacity="0.35"/>
<ellipse cx="351.4" cy="339.4" rx="10.36" ry="9.38" transform="rotate(0 351.4 339.4)" fill="url(#cone)" opacity="0.95"/>
</svg></g>
<path d="M148.5 39.5H225.7V116.5" fill="none" stroke="#b8b8b8" stroke-width="0.8"/>
<path d="M148.5 39.5V116.5H225.7" fill="none" stroke="#8a8a8a" stroke-width="0.9"/>
<path d="M184.6 39.5V116.5M148.5 74.2H225.7" stroke="#555" stroke-width="1.1" fill="none"/>
<path d="M240.5 39.5H318.7V116.5" fill="none" stroke="#b8b8b8" stroke-width="0.8"/>
<path d="M240.5 39.5V116.5H318.7" fill="none" stroke="#8a8a8a" stroke-width="0.9"/>
<path d="M277.6 39.5V116.5M240.5 74.2H318.7" stroke="#555" stroke-width="1.1" fill="none"/>
<path d="M335.4 39.5H412.5V116.5" fill="none" stroke="#b8b8b8" stroke-width="0.8"/>
<path d="M335.4 39.5V116.5H412.5" fill="none" stroke="#8a8a8a" stroke-width="0.9"/>
<path d="M372.5 39.5V116.5M335.4 74.2H412.5" stroke="#555" stroke-width="1.1" fill="none"/>
<path d="M148.0 184.4H225.5V261.4" fill="none" stroke="#b8b8b8" stroke-width="0.8"/>
<path d="M148.0 184.4V261.4H225.5" fill="none" stroke="#8a8a8a" stroke-width="0.9"/>
<path d="M176.0 184.4V261.4M148.0 223.4H225.5" stroke="#555" stroke-width="1.1" fill="none"/>
<path d="M240.7 184.4H318.9V261.5" fill="none" stroke="#b8b8b8" stroke-width="0.8"/>
<path d="M240.7 184.4V261.5H318.9" fill="none" stroke="#8a8a8a" stroke-width="0.9"/>
<path d="M269.0 184.4V261.5M240.7 223.5H318.9" stroke="#555" stroke-width="1.1" fill="none"/>
<path d="M335.2 184.4H413.0V261.0" fill="none" stroke="#b8b8b8" stroke-width="0.8"/>
<path d="M335.2 184.4V261.0H413.0" fill="none" stroke="#8a8a8a" stroke-width="0.9"/>
<path d="M362.8 184.4V261.0M335.2 223.8H413.0" stroke="#555" stroke-width="1.1" fill="none"/>
<path d="M148.2 320.4H225.6V398.4" fill="none" stroke="#b8b8b8" stroke-width="0.8"/>
<path d="M148.2 320.4V398.4H225.6" fill="none" stroke="#8a8a8a" stroke-width="0.9"/>
<path d="M241.5 320.4H318.8V398.4" fill="none" stroke="#b8b8b8" stroke-width="0.8"/>
<path d="M241.5 320.4V398.4H318.8" fill="none" stroke="#8a8a8a" stroke-width="0.9"/>
<path d="M335.2 320.4H413.0V398.4" fill="none" stroke="#b8b8b8" stroke-width="0.8"/>
<path d="M335.2 320.4V398.4H413.0" fill="none" stroke="#8a8a8a" stroke-width="0.9"/>
<path d="M146.9 44.8H148.5M146.9 51.6H148.5M146.9 58.4H148.5M146.9 68.2H148.5M146.9 82.8H148.5M146.9 87.6H148.5M146.9 107.1H148.5M153.5 116.5V118.1M168.0 116.5V118.1M183.5 116.5V118.1M222.7 116.5V118.1" stroke="#444" stroke-width="0.7" fill="none"/>
<rect x="166.5" y="116.5" width="3.5" height="1.3" fill="#111"/>
<rect x="146.9" y="98.7" width="1.3" height="2.4" fill="#111"/>
<path d="M238.9 44.8H240.5M238.9 51.6H240.5M238.9 58.4H240.5M238.9 68.2H240.5M238.9 82.8H240.5M238.9 87.6H240.5M238.9 107.1H240.5M245.5 116.5V118.1M260.0 116.5V118.1M275.5 116.5V118.1M315.7 116.5V118.1" stroke="#444" stroke-width="0.7" fill="none"/>
<rect x="258.5" y="116.5" width="3.5" height="1.3" fill="#111"/>
<rect x="238.9" y="98.7" width="1.3" height="2.4" fill="#111"/>
<path d="M333.79999999999995 44.8H335.4M333.79999999999995 51.6H335.4M333.79999999999995 58.4H335.4M333.79999999999995 68.2H335.4M333.79999999999995 82.8H335.4M333.79999999999995 87.6H335.4M333.79999999999995 107.1H335.4M340.4 116.5V118.1M354.9 116.5V118.1M370.4 116.5V118.1M409.5 116.5V118.1" stroke="#444" stroke-width="0.7" fill="none"/>
<rect x="353.4" y="116.5" width="3.5" height="1.3" fill="#111"/>
<rect x="333.79999999999995" y="98.7" width="1.3" height="2.4" fill="#111"/>
<path d="M146.4 186.4H148.0M146.4 210.4H148.0M146.4 236.4H148.0M146.4 259.4H148.0M153.0 261.4V263.0M167.5 261.4V263.0M183.0 261.4V263.0M222.5 261.4V263.0" stroke="#444" stroke-width="0.7" fill="none"/>
<rect x="157.0" y="261.4" width="4" height="1.3" fill="#111"/>
<path d="M239.1 186.4H240.7M239.1 210.4H240.7M239.1 236.4H240.7M239.1 259.5H240.7M245.7 261.5V263.1M260.2 261.5V263.1M275.7 261.5V263.1M315.9 261.5V263.1" stroke="#444" stroke-width="0.7" fill="none"/>
<rect x="249.7" y="261.5" width="4" height="1.3" fill="#111"/>
<path d="M333.59999999999997 186.4H335.2M333.59999999999997 210.4H335.2M333.59999999999997 236.4H335.2M333.59999999999997 259.0H335.2M340.2 261.0V262.6M354.7 261.0V262.6M370.2 261.0V262.6M410.0 261.0V262.6" stroke="#444" stroke-width="0.7" fill="none"/>
<rect x="344.2" y="261.0" width="4" height="1.3" fill="#111"/>
<path d="M146.6 323.2H148.2M146.6 329.79999999999995H148.2M146.6 336.09999999999997H148.2M146.6 348.59999999999997H148.2M146.6 360.09999999999997H148.2M146.6 371.59999999999997H148.2M146.6 388.4H148.2M153.2 398.4V400.0M167.7 398.4V400.0M183.2 398.4V400.0M222.6 398.4V400.0" stroke="#444" stroke-width="0.7" fill="none"/>
<rect x="157.2" y="398.4" width="3.5" height="1.3" fill="#111"/>
<rect x="146.6" y="383.4" width="1.3" height="2.4" fill="#111"/>
<path d="M239.9 323.2H241.5M239.9 329.79999999999995H241.5M239.9 336.09999999999997H241.5M239.9 348.59999999999997H241.5M239.9 360.09999999999997H241.5M239.9 371.59999999999997H241.5M239.9 388.4H241.5M246.5 398.4V400.0M261.0 398.4V400.0M276.5 398.4V400.0M315.8 398.4V400.0" stroke="#444" stroke-width="0.7" fill="none"/>
<rect x="250.5" y="398.4" width="3.5" height="1.3" fill="#111"/>
<rect x="239.9" y="383.4" width="1.3" height="2.4" fill="#111"/>
<path d="M333.59999999999997 323.2H335.2M333.59999999999997 329.79999999999995H335.2M333.59999999999997 336.09999999999997H335.2M333.59999999999997 348.59999999999997H335.2M333.59999999999997 360.09999999999997H335.2M333.59999999999997 371.59999999999997H335.2M333.59999999999997 388.4H335.2M340.2 398.4V400.0M354.7 398.4V400.0M370.2 398.4V400.0M410.0 398.4V400.0" stroke="#444" stroke-width="0.7" fill="none"/>
<rect x="344.2" y="398.4" width="3.5" height="1.3" fill="#111"/>
<rect x="333.59999999999997" y="383.4" width="1.3" height="2.4" fill="#111"/>
<rect x="191.4" y="328.5" width="32.19999999999999" height="28.600000000000023" fill="none" stroke="#6e6e6e" stroke-width="1"/>
<text x="208.5" y="327.9" font-size="6.6" fill="#222" stroke="#222" stroke-width="0.15" text-anchor="middle" >0.02%</text>
<rect x="284.0" y="328.6" width="32.69999999999999" height="28.0" fill="none" stroke="#6e6e6e" stroke-width="1"/>
<text x="301.35" y="328.0" font-size="6.6" fill="#222" stroke="#222" stroke-width="0.15" text-anchor="middle" >0.38%</text>
<rect x="378.6" y="328.6" width="31.899999999999977" height="28.0" fill="none" stroke="#6e6e6e" stroke-width="1"/>
<text x="395.55" y="328.0" font-size="6.6" fill="#222" stroke="#222" stroke-width="0.15" text-anchor="middle" >7.15%</text>
<text x="150.8" y="47.1" font-size="6.6" fill="#2a2a2a" stroke="#2a2a2a" stroke-width="0.15" text-anchor="start" >98.0%</text>
<text x="221.6" y="47.1" font-size="6.6" fill="#2a2a2a" stroke="#2a2a2a" stroke-width="0.15" text-anchor="end" >0.96%</text>
<text x="150.8" y="113.6" font-size="6.6" fill="#2a2a2a" stroke="#2a2a2a" stroke-width="0.15" text-anchor="start" >1.07%</text>
<text x="221.6" y="113.6" font-size="6.6" fill="#2a2a2a" stroke="#2a2a2a" stroke-width="0.15" text-anchor="end" >0.0%</text>
<text x="245.0" y="47.1" font-size="6.6" fill="#2a2a2a" stroke="#2a2a2a" stroke-width="0.15" text-anchor="start" >14.2%</text>
<text x="314.9" y="47.1" font-size="6.6" fill="#2a2a2a" stroke="#2a2a2a" stroke-width="0.15" text-anchor="end" >2.62%</text>
<text x="245.0" y="113.6" font-size="6.6" fill="#2a2a2a" stroke="#2a2a2a" stroke-width="0.15" text-anchor="start" >66.4%</text>
<text x="314.9" y="113.6" font-size="6.6" fill="#2a2a2a" stroke="#2a2a2a" stroke-width="0.15" text-anchor="end" >16.7%</text>
<text x="339.6" y="47.1" font-size="6.6" fill="#2a2a2a" stroke="#2a2a2a" stroke-width="0.15" text-anchor="start" >2.23%</text>
<text x="409.9" y="47.1" font-size="6.6" fill="#2a2a2a" stroke="#2a2a2a" stroke-width="0.15" text-anchor="end" >0.14%</text>
<text x="339.6" y="113.6" font-size="6.6" fill="#2a2a2a" stroke="#2a2a2a" stroke-width="0.15" text-anchor="start" >83.8%</text>
<text x="409.9" y="113.6" font-size="6.6" fill="#2a2a2a" stroke="#2a2a2a" stroke-width="0.15" text-anchor="end" >13.8%</text>
<text x="151.1" y="192.4" font-size="6.6" fill="#2a2a2a" stroke="#2a2a2a" stroke-width="0.15" text-anchor="start" >93.9%</text>
<text x="220.6" y="192.4" font-size="6.6" fill="#2a2a2a" stroke="#2a2a2a" stroke-width="0.15" text-anchor="end" >0.33%</text>
<text x="151.1" y="258.4" font-size="6.6" fill="#2a2a2a" stroke="#2a2a2a" stroke-width="0.15" text-anchor="start" >5.81%</text>
<text x="220.6" y="258.4" font-size="6.6" fill="#2a2a2a" stroke="#2a2a2a" stroke-width="0.15" text-anchor="end" >0.0%</text>
<text x="245.0" y="192.4" font-size="6.6" fill="#2a2a2a" stroke="#2a2a2a" stroke-width="0.15" text-anchor="start" >58.8%</text>
<text x="314.9" y="192.4" font-size="6.6" fill="#2a2a2a" stroke="#2a2a2a" stroke-width="0.15" text-anchor="end" >32.4%</text>
<text x="245.0" y="258.5" font-size="6.6" fill="#2a2a2a" stroke="#2a2a2a" stroke-width="0.15" text-anchor="start" >6.43%</text>
<text x="314.9" y="258.5" font-size="6.6" fill="#2a2a2a" stroke="#2a2a2a" stroke-width="0.15" text-anchor="end" >2.40%</text>
<text x="339.4" y="192.4" font-size="6.6" fill="#2a2a2a" stroke="#2a2a2a" stroke-width="0.15" text-anchor="start" >1.70%</text>
<text x="409.9" y="192.4" font-size="6.6" fill="#2a2a2a" stroke="#2a2a2a" stroke-width="0.15" text-anchor="end" >0.57%</text>
<text x="339.4" y="258.0" font-size="6.6" fill="#2a2a2a" stroke="#2a2a2a" stroke-width="0.15" text-anchor="start" >71.4%</text>
<text x="409.9" y="258.0" font-size="6.6" fill="#2a2a2a" stroke="#2a2a2a" stroke-width="0.15" text-anchor="end" >26.4%</text>
<text x="181" y="34.5" font-size="7" fill="#333" stroke="#333" stroke-width="0.06" textLength="10" lengthAdjust="spacingAndGlyphs">WT</text>
<text x="261" y="34.5" font-size="7.2" fill="#3f6fab" stroke="#3f6fab" stroke-width="0.05" textLength="36" lengthAdjust="spacingAndGlyphs"><tspan font-style="italic">TRAC</tspan> – CAR</text>
<text x="347.6" y="34.5" font-size="7.2" fill="#e23f9c" stroke="#e23f9c" stroke-width="0.05" textLength="51.5" lengthAdjust="spacingAndGlyphs"><tspan font-style="italic">CD3ζ – trunc</tspan>CAR</text>
<text x="181" y="179.4" font-size="7" fill="#333" stroke="#333" stroke-width="0.06" textLength="10" lengthAdjust="spacingAndGlyphs">WT</text>
<text x="261" y="179.4" font-size="7.2" fill="#3f6fab" stroke="#3f6fab" stroke-width="0.05" textLength="36" lengthAdjust="spacingAndGlyphs"><tspan font-style="italic">TRAC</tspan> – CAR</text>
<text x="347.6" y="179.4" font-size="7.2" fill="#e23f9c" stroke="#e23f9c" stroke-width="0.05" textLength="51.5" lengthAdjust="spacingAndGlyphs"><tspan font-style="italic">CD3ζ – trunc</tspan>CAR</text>
<text x="181" y="316.0" font-size="7" fill="#333" stroke="#333" stroke-width="0.06" textLength="10" lengthAdjust="spacingAndGlyphs">WT</text>
<text x="261" y="316.0" font-size="7.2" fill="#3f6fab" stroke="#3f6fab" stroke-width="0.05" textLength="36" lengthAdjust="spacingAndGlyphs"><tspan font-style="italic">TRAC</tspan> – CAR</text>
<text x="347.6" y="316.0" font-size="7.2" fill="#e23f9c" stroke="#e23f9c" stroke-width="0.05" textLength="51.5" lengthAdjust="spacingAndGlyphs"><tspan font-style="italic">CD3ζ – trunc</tspan>CAR</text>
<text x="176.3" y="129.0" font-size="8.4" fill="#1a1a1a" stroke="#1a1a1a" stroke-width="0.22" textLength="63.5" lengthAdjust="spacingAndGlyphs">CAR (αIgG1 - AF647)</text>
<path d="M244.6 126.4H413.6" stroke="#444" stroke-width="1.4" marker-end="url(#arr)"/>
<text x="176.3" y="274.6" font-size="8.4" fill="#1a1a1a" stroke="#1a1a1a" stroke-width="0.22" textLength="62.2" lengthAdjust="spacingAndGlyphs">CAR (αMyc - AF647)</text>
<path d="M240.8 272.0H413.6" stroke="#444" stroke-width="1.4" marker-end="url(#arr)"/>
<text x="204.4" y="411.70000000000005" font-size="8.4" fill="#1a1a1a" stroke="#1a1a1a" stroke-width="0.22" textLength="65.2" lengthAdjust="spacingAndGlyphs">CAR (αIgG1 - AF647)</text>
<path d="M271.7 409.1H413.6" stroke="#444" stroke-width="1.4" marker-end="url(#arr)"/>
<text transform="translate(139.0 96.8) rotate(-90)" font-size="9.2" fill="#1a1a1a" stroke="#1a1a1a" stroke-width="0.18" textLength="38.599999999999994" lengthAdjust="spacingAndGlyphs">CD3 PacBlue</text>
<path d="M135.9 54.9V42.3" stroke="#222" stroke-width="1.2" marker-end="url(#arr)"/>
<text transform="translate(139.2 242.6) rotate(-90)" font-size="9.2" fill="#1a1a1a" stroke="#1a1a1a" stroke-width="0.18" textLength="36.0" lengthAdjust="spacingAndGlyphs">TCRγ/δ FITC</text>
<path d="M136.1 202.6V186.0" stroke="#222" stroke-width="1.2" marker-end="url(#arr)"/>
<text transform="translate(139.6 380.0) rotate(-90)" font-size="9.2" fill="#1a1a1a" stroke="#1a1a1a" stroke-width="0.18" textLength="26.399999999999977" lengthAdjust="spacingAndGlyphs">CD56-PE</text>
<path d="M136.4 351.2V323.9" stroke="#222" stroke-width="1.2" marker-end="url(#arr)"/>
<path d="M468.1 37.2V104.4H511.6" stroke="#333" stroke-width="1.2" fill="none"/>
<text x="461.8" y="106.80000000000001" font-size="6.8" fill="#333" stroke="#333" stroke-width="0.15" text-anchor="end" >0</text>
<text x="461.8" y="93.76" font-size="6.8" fill="#333" stroke="#333" stroke-width="0.15" text-anchor="end" >10</text>
<text x="461.8" y="80.72000000000001" font-size="6.8" fill="#333" stroke="#333" stroke-width="0.15" text-anchor="end" >20</text>
<text x="461.8" y="67.68" font-size="6.8" fill="#333" stroke="#333" stroke-width="0.15" text-anchor="end" >30</text>
<text x="461.8" y="54.64" font-size="6.8" fill="#333" stroke="#333" stroke-width="0.15" text-anchor="end" >40</text>
<text x="461.8" y="41.6" font-size="6.8" fill="#333" stroke="#333" stroke-width="0.15" text-anchor="end" >50</text>
<path d="M465.1 104.40H468.1M465.1 91.36H468.1M465.1 78.32H468.1M465.1 65.28H468.1M465.1 52.24H468.1M465.1 39.20H468.1M480.7 104.4V107.2M499.8 104.4V107.2" stroke="#333" stroke-width="0.8" fill="none"/>
<rect x="474.5" y="77.67" width="12.399999999999977" height="26.73" fill="#1d4b8e"/>
<path d="M480.7 72.45V77.67M477.7 72.45H483.7" stroke="#9a8fa0" stroke-width="0.8" fill="none"/>
<path d="M480.7 77.67V82.23M477.7 82.23H483.7" stroke="#8fb0e0" stroke-width="0.8" fill="none"/>
<rect x="493.6" y="86.80" width="12.399999999999977" height="17.60" fill="#e5007d"/>
<path d="M499.8 85.10V86.80M496.8 85.10H502.8" stroke="#9a8fa0" stroke-width="0.8" fill="none"/>
<path d="M499.8 86.80V88.10M496.8 88.10H502.8" stroke="#f8b0d4" stroke-width="0.8" fill="none"/>
<text transform="translate(484.5 113.6) rotate(-45)" font-size="7.4" fill="#2a2a2a" stroke="#2a2a2a" stroke-width="0.1" text-anchor="end" textLength="33" lengthAdjust="spacingAndGlyphs">TRAC CAR</text>
<text transform="translate(504 113.6) rotate(-45)" font-size="7.4" fill="#2a2a2a" stroke="#2a2a2a" stroke-width="0.1" text-anchor="end" textLength="48" lengthAdjust="spacingAndGlyphs">CD3ζ truncCAR</text>
<text transform="translate(439.4 70.8) rotate(-90)" font-size="8.8" fill="#2a2a2a" stroke="#2a2a2a" stroke-width="0.1" text-anchor="middle" textLength="59.4" lengthAdjust="spacingAndGlyphs">CAR<tspan dy="-3" font-size="5">+</tspan><tspan dy="3"> within viable</tspan></text>
<text transform="translate(449.2 68.5) rotate(-90)" font-size="8.8" fill="#2a2a2a" stroke="#2a2a2a" stroke-width="0.1" text-anchor="middle" textLength="25" lengthAdjust="spacingAndGlyphs">cells (%)</text>
<path d="M467.9 173.6V241.1H511.6" stroke="#333" stroke-width="1.2" fill="none"/>
<text x="461.8" y="243.5" font-size="6.8" fill="#333" stroke="#333" stroke-width="0.15" text-anchor="end" >0</text>
<text x="461.8" y="230.4" font-size="6.8" fill="#333" stroke="#333" stroke-width="0.15" text-anchor="end" >10</text>
<text x="461.8" y="217.29999999999998" font-size="6.8" fill="#333" stroke="#333" stroke-width="0.15" text-anchor="end" >20</text>
<text x="461.8" y="204.2" font-size="6.8" fill="#333" stroke="#333" stroke-width="0.15" text-anchor="end" >30</text>
<text x="461.8" y="191.1" font-size="6.8" fill="#333" stroke="#333" stroke-width="0.15" text-anchor="end" >40</text>
<text x="461.8" y="178.0" font-size="6.8" fill="#333" stroke="#333" stroke-width="0.15" text-anchor="end" >50</text>
<path d="M464.9 241.10H467.9M464.9 228.00H467.9M464.9 214.90H467.9M464.9 201.80H467.9M464.9 188.70H467.9M464.9 175.60H467.9M480.7 241.1V243.9M499.8 241.1V243.9" stroke="#333" stroke-width="0.8" fill="none"/>
<rect x="474.5" y="210.18" width="12.399999999999977" height="30.92" fill="#1d4b8e"/>
<path d="M480.7 198.79V210.18M477.7 198.79H483.7" stroke="#9a8fa0" stroke-width="0.8" fill="none"/>
<path d="M480.7 210.18V220.53M477.7 220.53H483.7" stroke="#8fb0e0" stroke-width="0.8" fill="none"/>
<rect x="493.6" y="199.97" width="12.399999999999977" height="41.13" fill="#e5007d"/>
<path d="M499.8 190.01V199.97M496.8 190.01H502.8" stroke="#9a8fa0" stroke-width="0.8" fill="none"/>
<path d="M499.8 199.97V209.66M496.8 209.66H502.8" stroke="#f8b0d4" stroke-width="0.8" fill="none"/>
<text transform="translate(484.5 250.3) rotate(-45)" font-size="7.4" fill="#2a2a2a" stroke="#2a2a2a" stroke-width="0.1" text-anchor="end" textLength="33" lengthAdjust="spacingAndGlyphs">TRAC CAR</text>
<text transform="translate(504 250.3) rotate(-45)" font-size="7.4" fill="#2a2a2a" stroke="#2a2a2a" stroke-width="0.1" text-anchor="end" textLength="48" lengthAdjust="spacingAndGlyphs">CD3ζ truncCAR</text>
<text transform="translate(439.4 207.3) rotate(-90)" font-size="8.8" fill="#2a2a2a" stroke="#2a2a2a" stroke-width="0.1" text-anchor="middle" textLength="59.4" lengthAdjust="spacingAndGlyphs">CAR<tspan dy="-3" font-size="5">+</tspan><tspan dy="3"> within viable</tspan></text>
<text transform="translate(449.2 205.0) rotate(-90)" font-size="8.8" fill="#2a2a2a" stroke="#2a2a2a" stroke-width="0.1" text-anchor="middle" textLength="25" lengthAdjust="spacingAndGlyphs">cells (%)</text>
<path d="M467.9 312.5V380.6H511.6" stroke="#333" stroke-width="1.2" fill="none"/>
<text x="461.8" y="383.0" font-size="6.8" fill="#333" stroke="#333" stroke-width="0.15" text-anchor="end" >0</text>
<text x="461.8" y="369.78" font-size="6.8" fill="#333" stroke="#333" stroke-width="0.15" text-anchor="end" >10</text>
<text x="461.8" y="356.56" font-size="6.8" fill="#333" stroke="#333" stroke-width="0.15" text-anchor="end" >20</text>
<text x="461.8" y="343.34" font-size="6.8" fill="#333" stroke="#333" stroke-width="0.15" text-anchor="end" >30</text>
<text x="461.8" y="330.12" font-size="6.8" fill="#333" stroke="#333" stroke-width="0.15" text-anchor="end" >40</text>
<text x="461.8" y="316.9" font-size="6.8" fill="#333" stroke="#333" stroke-width="0.15" text-anchor="end" >50</text>
<path d="M464.9 380.60H467.9M464.9 367.38H467.9M464.9 354.16H467.9M464.9 340.94H467.9M464.9 327.72H467.9M464.9 314.50H467.9M480.7 380.6V383.40000000000003M499.8 380.6V383.40000000000003" stroke="#333" stroke-width="0.8" fill="none"/>
<rect x="474.5" y="379.81" width="12.399999999999977" height="0.79" fill="#1d4b8e"/>
<path d="M480.7 379.28V379.81M477.7 379.28H483.7" stroke="#9a8fa0" stroke-width="0.8" fill="none"/>
<path d="M480.7 379.81V380.34M477.7 380.34H483.7" stroke="#8fb0e0" stroke-width="0.8" fill="none"/>
<rect x="493.6" y="371.35" width="12.399999999999977" height="9.25" fill="#e5007d"/>
<path d="M499.8 369.63V371.35M496.8 369.63H502.8" stroke="#9a8fa0" stroke-width="0.8" fill="none"/>
<path d="M499.8 371.35V372.67M496.8 372.67H502.8" stroke="#f8b0d4" stroke-width="0.8" fill="none"/>
<text transform="translate(484.5 389.8) rotate(-45)" font-size="7.4" fill="#2a2a2a" stroke="#2a2a2a" stroke-width="0.1" text-anchor="end" textLength="33" lengthAdjust="spacingAndGlyphs">TRAC CAR</text>
<text transform="translate(504 389.8) rotate(-45)" font-size="7.4" fill="#2a2a2a" stroke="#2a2a2a" stroke-width="0.1" text-anchor="end" textLength="48" lengthAdjust="spacingAndGlyphs">CD3ζ truncCAR</text>
<text transform="translate(439.4 346.6) rotate(-90)" font-size="8.8" fill="#2a2a2a" stroke="#2a2a2a" stroke-width="0.1" text-anchor="middle" textLength="59.4" lengthAdjust="spacingAndGlyphs">CAR<tspan dy="-3" font-size="5">+</tspan><tspan dy="3"> within viable</tspan></text>
<text transform="translate(449.2 344.2) rotate(-90)" font-size="8.8" fill="#2a2a2a" stroke="#2a2a2a" stroke-width="0.1" text-anchor="middle" textLength="25" lengthAdjust="spacingAndGlyphs">cells (%)</text>
<rect x="24.3" y="48.2" width="4.7" height="16.3" rx="2.35" fill="#93cb7b" stroke="#6aa856" stroke-width="0.35"/>
<rect x="32.1" y="48.5" width="4.7" height="16.0" rx="2.35" fill="#9fd188" stroke="#6aa856" stroke-width="0.5"/>
<path d="M26.650000000000002 48.2C26.650000000000002 45.0 30.5 45.0 30.5 48.7V64.2C30.5 67.4 34.45 67.4 34.45 64.5M26.650000000000002 64.5V70.2" fill="none" stroke="#6aa856" stroke-width="0.55"/>
<rect x="24.400000000000002" y="70.5" width="4.4" height="28.4" rx="0.8" fill="#c6c6c6"/>
<rect x="18.9" y="83.80000000000001" width="21.4" height="2.3" fill="#e6e6e6"/>
<path d="M18.9 83.80000000000001h21.4M18.9 86.1h21.4" stroke="#bcbcbc" stroke-width="0.6"/>
<rect x="24.400000000000002" y="103.80000000000001" width="4.4" height="12.2" rx="0.8" fill="#c6c6c6"/>
<rect x="23.9" y="191.8" width="4.7" height="16.3" rx="2.35" fill="#d43a2f" stroke="#b8281f" stroke-width="0.35"/>
<rect x="31.7" y="192.10000000000002" width="4.7" height="16.0" rx="2.35" fill="#d8463a" stroke="#b8281f" stroke-width="0.5"/>
<path d="M26.25 191.8C26.25 188.60000000000002 30.099999999999998 188.60000000000002 30.099999999999998 192.3V207.8C30.099999999999998 211.0 34.05 211.0 34.05 208.10000000000002M26.25 208.10000000000002V213.8" fill="none" stroke="#b8281f" stroke-width="0.55"/>
<rect x="24.0" y="214.10000000000002" width="4.4" height="28.4" rx="0.8" fill="#c6c6c6"/>
<rect x="18.5" y="227.4" width="21.4" height="2.3" fill="#e6e6e6"/>
<path d="M18.5 227.4h21.4M18.5 229.70000000000002h21.4" stroke="#bcbcbc" stroke-width="0.6"/>
<rect x="24.0" y="247.4" width="4.4" height="12.2" rx="0.8" fill="#c6c6c6"/>
<rect x="26.3" y="324.4" width="4.7" height="16.3" rx="2.35" fill="#d43a2f" stroke="#b8281f" stroke-width="0.35"/>
<rect x="34.1" y="324.7" width="4.7" height="16.0" rx="2.35" fill="#d8463a" stroke="#b8281f" stroke-width="0.5"/>
<path d="M28.650000000000002 324.4C28.650000000000002 321.2 32.5 321.2 32.5 324.9V340.4C32.5 343.59999999999997 36.45 343.59999999999997 36.45 340.7M28.650000000000002 340.7V346.4" fill="none" stroke="#b8281f" stroke-width="0.55"/>
<rect x="26.400000000000002" y="346.7" width="4.4" height="28.4" rx="0.8" fill="#c6c6c6"/>
<rect x="20.9" y="360.0" width="21.4" height="2.3" fill="#e6e6e6"/>
<path d="M20.9 360.0h21.4M20.9 362.29999999999995h21.4" stroke="#bcbcbc" stroke-width="0.6"/>
<rect x="26.400000000000002" y="380.0" width="4.4" height="12.2" rx="0.8" fill="#c6c6c6"/>
<text transform="translate(53 102.4) rotate(-90)" font-size="7" fill="#6cbf5a" textLength="52.4" lengthAdjust="spacingAndGlyphs">HLA-A2.28.ζ-CAR</text>
<text transform="translate(53.4 253.3) rotate(-90)" font-size="7" fill="#e0369a" textLength="53.6" lengthAdjust="spacingAndGlyphs">CD19.28.ζ-CAR (2)</text>
<text transform="translate(53.2 381.8) rotate(-90)" font-size="7" fill="#e0369a" textLength="45.8" lengthAdjust="spacingAndGlyphs">CD19.28.ζ-CAR</text>
<circle cx="86.2" cy="56.5" r="28.5" fill="url(#glowA)"/>
<circle cx="86.2" cy="56.5" r="20.6" fill="#7dc59b" stroke="#62b07e" stroke-width="0.8"/>
<circle cx="89.8" cy="57.3" r="10.6" fill="#2e9e5b"/>
<g transform="translate(86.2 56.5) rotate(-74.5)"><path d="M18.400000000000002 -2.8h3M18.400000000000002 -1.4h3M18.400000000000002 0h3M18.400000000000002 1.4h3M18.400000000000002 2.8h3" stroke="#3f7a55" stroke-width="0.55" opacity="0.8"/><rect x="20.400000000000002" y="-3.2" width="1.3" height="6.4" fill="#a6d89a" opacity="0.7"/><rect x="21.3" y="-1.6" width="6.4" height="3.2" fill="#6fbd63"/></g>
<g transform="translate(86.2 56.5) rotate(-141)"><path d="M18.400000000000002 -2.8h3M18.400000000000002 -1.4h3M18.400000000000002 0h3M18.400000000000002 1.4h3M18.400000000000002 2.8h3" stroke="#3f7a55" stroke-width="0.55" opacity="0.8"/><rect x="20.400000000000002" y="-3.2" width="1.3" height="6.4" fill="#a6d89a" opacity="0.7"/><rect x="21.3" y="-1.6" width="6.4" height="3.2" fill="#6fbd63"/></g>
<g transform="translate(86.2 56.5) rotate(-22)"><path d="M18.400000000000002 -2.8h3M18.400000000000002 -1.4h3M18.400000000000002 0h3M18.400000000000002 1.4h3M18.400000000000002 2.8h3" stroke="#3f7a55" stroke-width="0.55" opacity="0.8"/><rect x="20.400000000000002" y="-3.2" width="1.3" height="6.4" fill="#a6d89a" opacity="0.7"/><rect x="21.3" y="-1.6" width="6.4" height="3.2" fill="#6fbd63"/></g>
<g transform="translate(86.2 56.5) rotate(170)"><path d="M18.400000000000002 -2.8h3M18.400000000000002 -1.4h3M18.400000000000002 0h3M18.400000000000002 1.4h3M18.400000000000002 2.8h3" stroke="#3f7a55" stroke-width="0.55" opacity="0.8"/><rect x="20.400000000000002" y="-3.2" width="1.3" height="6.4" fill="#a6d89a" opacity="0.7"/><rect x="21.3" y="-1.6" width="6.4" height="3.2" fill="#6fbd63"/></g>
<g transform="translate(86.2 56.5) rotate(40.5)"><path d="M18.400000000000002 -2.8h3M18.400000000000002 -1.4h3M18.400000000000002 0h3M18.400000000000002 1.4h3M18.400000000000002 2.8h3" stroke="#3f7a55" stroke-width="0.55" opacity="0.8"/><rect x="20.400000000000002" y="-3.2" width="1.3" height="6.4" fill="#a6d89a" opacity="0.7"/><rect x="21.3" y="-1.6" width="6.4" height="3.2" fill="#6fbd63"/></g>
<g transform="translate(86.2 56.5) rotate(110)"><path d="M18.400000000000002 -2.8h3M18.400000000000002 -1.4h3M18.400000000000002 0h3M18.400000000000002 1.4h3M18.400000000000002 2.8h3" stroke="#3f7a55" stroke-width="0.55" opacity="0.8"/><rect x="20.400000000000002" y="-3.2" width="1.3" height="6.4" fill="#a6d89a" opacity="0.7"/><rect x="21.3" y="-1.6" width="6.4" height="3.2" fill="#6fbd63"/></g>
<text x="85.5" y="99.5" font-size="6.6" fill="#333" stroke="#333" stroke-width="0.05" text-anchor="middle" >Treg</text>
<circle cx="90.2" cy="208.2" r="29.5" fill="url(#glowB)"/>
<circle cx="90.2" cy="208.2" r="21.4" fill="#f2a452" stroke="#e38e3c" stroke-width="0.8"/>
<circle cx="94.1" cy="209.2" r="11.1" fill="#e97a2e"/>
<g transform="translate(90.2 208.2) rotate(-74.5)"><path d="M19.2 -2.8h3M19.2 -1.4h3M19.2 0h3M19.2 1.4h3M19.2 2.8h3" stroke="#3f6a70" stroke-width="0.55" opacity="0.8"/><rect x="21.2" y="-3.2" width="1.3" height="6.4" fill="#9ab8a0" opacity="0.7"/><rect x="22.099999999999998" y="-1.6" width="6.4" height="3.2" fill="#2f6e94"/></g>
<g transform="translate(90.2 208.2) rotate(-141)"><path d="M19.2 -2.8h3M19.2 -1.4h3M19.2 0h3M19.2 1.4h3M19.2 2.8h3" stroke="#3f6a70" stroke-width="0.55" opacity="0.8"/><rect x="21.2" y="-3.2" width="1.3" height="6.4" fill="#9ab8a0" opacity="0.7"/><rect x="22.099999999999998" y="-1.6" width="6.4" height="3.2" fill="#2f6e94"/></g>
<g transform="translate(90.2 208.2) rotate(-22)"><path d="M19.2 -2.8h3M19.2 -1.4h3M19.2 0h3M19.2 1.4h3M19.2 2.8h3" stroke="#3f6a70" stroke-width="0.55" opacity="0.8"/><rect x="21.2" y="-3.2" width="1.3" height="6.4" fill="#9ab8a0" opacity="0.7"/><rect x="22.099999999999998" y="-1.6" width="6.4" height="3.2" fill="#2f6e94"/></g>
<g transform="translate(90.2 208.2) rotate(170)"><path d="M19.2 -2.8h3M19.2 -1.4h3M19.2 0h3M19.2 1.4h3M19.2 2.8h3" stroke="#3f6a70" stroke-width="0.55" opacity="0.8"/><rect x="21.2" y="-3.2" width="1.3" height="6.4" fill="#9ab8a0" opacity="0.7"/><rect x="22.099999999999998" y="-1.6" width="6.4" height="3.2" fill="#2f6e94"/></g>
<g transform="translate(90.2 208.2) rotate(40.5)"><path d="M19.2 -2.8h3M19.2 -1.4h3M19.2 0h3M19.2 1.4h3M19.2 2.8h3" stroke="#3f6a70" stroke-width="0.55" opacity="0.8"/><rect x="21.2" y="-3.2" width="1.3" height="6.4" fill="#9ab8a0" opacity="0.7"/><rect x="22.099999999999998" y="-1.6" width="6.4" height="3.2" fill="#2f6e94"/></g>
<g transform="translate(90.2 208.2) rotate(110)"><path d="M19.2 -2.8h3M19.2 -1.4h3M19.2 0h3M19.2 1.4h3M19.2 2.8h3" stroke="#3f6a70" stroke-width="0.55" opacity="0.8"/><rect x="21.2" y="-3.2" width="1.3" height="6.4" fill="#9ab8a0" opacity="0.7"/><rect x="22.099999999999998" y="-1.6" width="6.4" height="3.2" fill="#2f6e94"/></g>
<text x="89.4" y="253.6" font-size="6.5" fill="#333" stroke="#333" stroke-width="0.05" text-anchor="middle" >γ/δ T cells</text>
<circle cx="90.6" cy="342.4" r="24.2" fill="#e6f3e1"/>
<circle cx="90.6" cy="342.4" r="22.3" fill="#eef7ea" stroke="#a9c5a0" stroke-width="0.7"/>
<circle cx="90.6" cy="342.4" r="20.6" fill="none" stroke="#d5ebcf" stroke-width="2"/>
<ellipse cx="92.2" cy="346.3" rx="13.8" ry="12.3" fill="#c3e2b6"/>
<circle cx="81" cy="329" r="0.8" fill="#c6dcbc"/>
<circle cx="87" cy="327" r="0.8" fill="#c6dcbc"/>
<circle cx="94" cy="328" r="0.8" fill="#c6dcbc"/>
<circle cx="100" cy="330.5" r="0.8" fill="#c6dcbc"/>
<circle cx="77" cy="335" r="0.8" fill="#c6dcbc"/>
<circle cx="104" cy="336" r="0.8" fill="#c6dcbc"/>
<circle cx="84" cy="333" r="0.8" fill="#c6dcbc"/>
<circle cx="97" cy="333" r="0.8" fill="#c6dcbc"/>
<circle cx="76" cy="341" r="0.8" fill="#c6dcbc"/>
<circle cx="106" cy="341" r="0.8" fill="#c6dcbc"/>
<circle cx="90" cy="331" r="0.8" fill="#c6dcbc"/>
<text x="90.8" y="381.9" font-size="6.7" fill="#333" stroke="#333" stroke-width="0.05" text-anchor="middle" >primary</text>
<text x="90.9" y="389.6" font-size="6.5" fill="#333" stroke="#333" stroke-width="0.05" text-anchor="middle" >NK cells</text>
<text x="7" y="16.9" font-size="12" font-weight="bold" fill="#111" stroke="#111" stroke-width="0.3">A</text>
<text x="7.8" y="167.4" font-size="12" font-weight="bold" fill="#111" stroke="#111" stroke-width="0.3" textLength="7.6" lengthAdjust="spacingAndGlyphs">B</text>
<text x="7.6" y="304.4" font-size="12" font-weight="bold" fill="#111" stroke="#111" stroke-width="0.3" textLength="7.6" lengthAdjust="spacingAndGlyphs">C</text>
<rect x="0.5" y="0.5" width="519" height="430" fill="none" stroke="#4a4a4a" stroke-width="1"/>
</svg></body></html>
